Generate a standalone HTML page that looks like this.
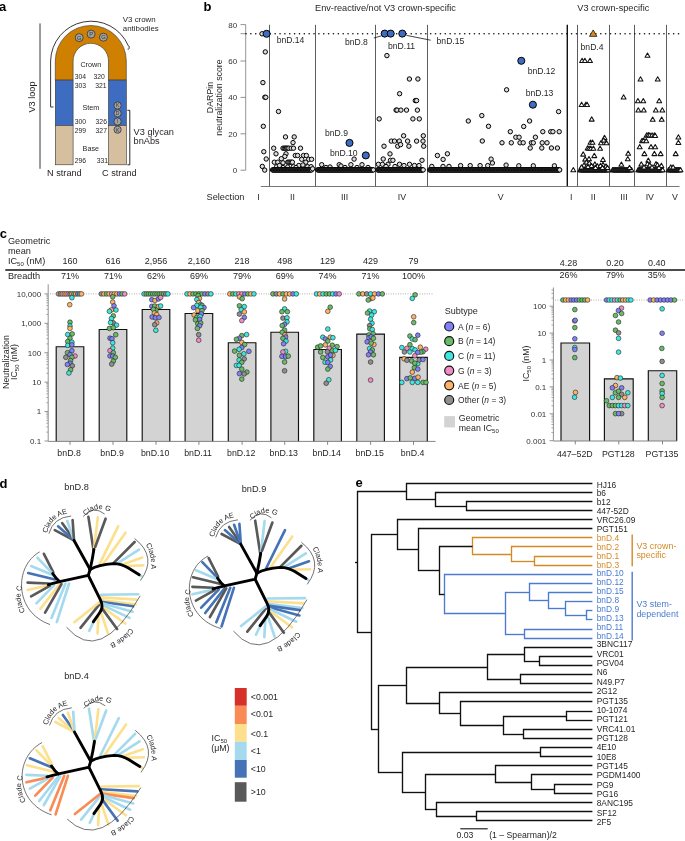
<!DOCTYPE html>
<html><head><meta charset="utf-8"><style>
html,body{margin:0;padding:0;background:#fff;}
body{width:685px;height:841px;overflow:hidden;}
svg{display:block;will-change:transform;font-family:"Liberation Sans", sans-serif;}
</style></head><body>
<svg width="685" height="841" viewBox="0 0 685 841">
<rect width="685" height="841" fill="#fff"/>
<text x="-0.90" y="10.60" font-size="13" text-anchor="start" font-weight="bold" fill="#000" >a</text>
<path d="M55.3,80.1 L55.3,61.0 A35.5,35.5 0 0 1 126.3,61.0 L126.3,80.1 L108.5,80.1 L108.5,61.0 A17.7,17.7 0 0 0 73.1,61.0 L73.1,80.1 Z" fill="#d08000" stroke="#333" stroke-width="0.6"/>
<rect x="55.3" y="80.1" width="17.8" height="45.30000000000001" fill="#3d6cc0" stroke="#333" stroke-width="0.6"/>
<rect x="108.5" y="80.1" width="17.8" height="45.30000000000001" fill="#3d6cc0" stroke="#333" stroke-width="0.6"/>
<rect x="55.3" y="125.4" width="17.8" height="39.400000000000006" fill="#d5bf9f" stroke="#333" stroke-width="0.6"/>
<rect x="108.5" y="125.4" width="17.8" height="39.400000000000006" fill="#d5bf9f" stroke="#333" stroke-width="0.6"/>
<circle cx="79.20" cy="37.60" r="4.0" fill="#a3a3a3" stroke="#333" stroke-width="0.8"/>
<text x="79.20" y="39.70" font-size="5.8" text-anchor="middle" font-weight="normal" fill="#333" >G</text>
<circle cx="91.10" cy="34.10" r="4.0" fill="#a3a3a3" stroke="#333" stroke-width="0.8"/>
<text x="91.10" y="36.20" font-size="5.8" text-anchor="middle" font-weight="normal" fill="#333" >P</text>
<circle cx="103.40" cy="37.20" r="4.0" fill="#a3a3a3" stroke="#333" stroke-width="0.8"/>
<text x="103.40" y="39.30" font-size="5.8" text-anchor="middle" font-weight="normal" fill="#333" >G</text>
<circle cx="117.60" cy="105.50" r="3.6" fill="#a3a3a3" stroke="#333" stroke-width="0.8"/>
<text x="117.60" y="107.30" font-size="5" text-anchor="middle" font-weight="normal" fill="#333" >K</text>
<circle cx="117.60" cy="113.30" r="3.6" fill="#a3a3a3" stroke="#333" stroke-width="0.8"/>
<text x="117.60" y="115.10" font-size="5" text-anchor="middle" font-weight="normal" fill="#333" >D</text>
<circle cx="117.60" cy="121.50" r="3.6" fill="#a3a3a3" stroke="#333" stroke-width="0.8"/>
<text x="117.60" y="123.30" font-size="5" text-anchor="middle" font-weight="normal" fill="#333" >I</text>
<circle cx="117.60" cy="129.70" r="3.6" fill="#a3a3a3" stroke="#333" stroke-width="0.8"/>
<text x="117.60" y="131.50" font-size="5" text-anchor="middle" font-weight="normal" fill="#333" >K</text>
<path d="M53.5,107 L50.6,107 L50.6,61.0 A40.5,40.5 0 0 1 128.35,45.83 Q129.6,45.5 129.2,48.3 Q128.9,49.6 127.6,49.2" fill="none" stroke="#231f20" stroke-width="0.9"/>
<line x1="40.00" y1="23.40" x2="40.00" y2="168.80" stroke="#222" stroke-width="0.9" />
<text transform="translate(34.7,97) rotate(-90)" font-size="9.2" text-anchor="middle" fill="#231f20">V3 loop</text>
<path d="M127.4,110.3 L129.8,110.3 L129.8,164.8 L127.4,164.8" fill="none" stroke="#111" stroke-width="0.9"/>
<text x="122.80" y="22.00" font-size="7.9" text-anchor="start" font-weight="normal" fill="#231f20" >V3 crown</text>
<text x="122.80" y="30.70" font-size="7.9" text-anchor="start" font-weight="normal" fill="#231f20" >antibodies</text>
<text x="90.80" y="66.60" font-size="7.2" text-anchor="middle" font-weight="normal" fill="#231f20" >Crown</text>
<text x="74.70" y="79.00" font-size="6.8" text-anchor="start" font-weight="normal" fill="#231f20" >304</text>
<text x="93.50" y="79.00" font-size="6.8" text-anchor="start" font-weight="normal" fill="#231f20" >320</text>
<text x="74.70" y="88.00" font-size="6.8" text-anchor="start" font-weight="normal" fill="#231f20" >303</text>
<text x="95.20" y="88.00" font-size="6.8" text-anchor="start" font-weight="normal" fill="#231f20" >321</text>
<text x="74.70" y="124.00" font-size="6.8" text-anchor="start" font-weight="normal" fill="#231f20" >300</text>
<text x="95.60" y="124.00" font-size="6.8" text-anchor="start" font-weight="normal" fill="#231f20" >326</text>
<text x="74.70" y="132.70" font-size="6.8" text-anchor="start" font-weight="normal" fill="#231f20" >299</text>
<text x="95.60" y="132.70" font-size="6.8" text-anchor="start" font-weight="normal" fill="#231f20" >327</text>
<text x="74.70" y="162.80" font-size="6.8" text-anchor="start" font-weight="normal" fill="#231f20" >296</text>
<text x="96.80" y="162.80" font-size="6.8" text-anchor="start" font-weight="normal" fill="#231f20" >331</text>
<text x="90.80" y="110.00" font-size="7.2" text-anchor="middle" font-weight="normal" fill="#231f20" >Stem</text>
<text x="90.80" y="150.50" font-size="7.2" text-anchor="middle" font-weight="normal" fill="#231f20" >Base</text>
<text x="133.60" y="134.80" font-size="9.2" text-anchor="start" font-weight="normal" fill="#231f20" >V3 glycan</text>
<text x="133.60" y="144.40" font-size="9.2" text-anchor="start" font-weight="normal" fill="#231f20" >bnAbs</text>
<text x="47.00" y="176.30" font-size="9.2" text-anchor="start" font-weight="normal" fill="#231f20" >N strand</text>
<text x="102.00" y="176.30" font-size="9.2" text-anchor="start" font-weight="normal" fill="#231f20" >C strand</text>
<text x="203.60" y="10.60" font-size="13" text-anchor="start" font-weight="bold" fill="#000" >b</text>
<line x1="245.70" y1="24.60" x2="245.70" y2="170.20" stroke="#777" stroke-width="0.8" />
<line x1="240.50" y1="170.20" x2="245.70" y2="170.20" stroke="#777" stroke-width="0.8" />
<text x="237.20" y="173.10" font-size="8" text-anchor="end" font-weight="normal" fill="#333" >0</text>
<line x1="240.50" y1="133.80" x2="245.70" y2="133.80" stroke="#777" stroke-width="0.8" />
<text x="237.20" y="136.70" font-size="8" text-anchor="end" font-weight="normal" fill="#333" >20</text>
<line x1="240.50" y1="97.40" x2="245.70" y2="97.40" stroke="#777" stroke-width="0.8" />
<text x="237.20" y="100.30" font-size="8" text-anchor="end" font-weight="normal" fill="#333" >40</text>
<line x1="240.50" y1="61.00" x2="245.70" y2="61.00" stroke="#777" stroke-width="0.8" />
<text x="237.20" y="63.90" font-size="8" text-anchor="end" font-weight="normal" fill="#333" >60</text>
<line x1="240.50" y1="24.60" x2="245.70" y2="24.60" stroke="#777" stroke-width="0.8" />
<text x="237.20" y="27.50" font-size="8" text-anchor="end" font-weight="normal" fill="#333" >80</text>
<text transform="translate(212.6,97.5) rotate(-90)" font-size="8.8" text-anchor="middle" fill="#231f20">DARPin</text>
<text transform="translate(221.7,97.5) rotate(-90)" font-size="8.8" text-anchor="middle" fill="#231f20">neutralization score</text>
<line x1="269.50" y1="24.80" x2="269.50" y2="186.60" stroke="#333" stroke-width="0.8" />
<line x1="315.50" y1="24.80" x2="315.50" y2="186.60" stroke="#333" stroke-width="0.8" />
<line x1="375.50" y1="24.80" x2="375.50" y2="186.60" stroke="#333" stroke-width="0.8" />
<line x1="427.50" y1="24.80" x2="427.50" y2="186.60" stroke="#333" stroke-width="0.8" />
<line x1="577.50" y1="24.80" x2="577.50" y2="186.60" stroke="#333" stroke-width="0.8" />
<line x1="609.50" y1="24.80" x2="609.50" y2="186.60" stroke="#333" stroke-width="0.8" />
<line x1="634.50" y1="24.80" x2="634.50" y2="186.60" stroke="#333" stroke-width="0.8" />
<line x1="666.50" y1="24.80" x2="666.50" y2="186.60" stroke="#333" stroke-width="0.8" />
<line x1="567.30" y1="24.80" x2="567.30" y2="186.60" stroke="#111" stroke-width="1.4" />
<line x1="260.80" y1="186.50" x2="679.50" y2="186.50" stroke="#666" stroke-width="0.9" />
<line x1="240.50" y1="33.70" x2="245.70" y2="33.70" stroke="#777" stroke-width="0.8" />
<path d="M246.00,33.70h0.01 M250.86,33.70h0.01 M255.72,33.70h0.01 M260.58,33.70h0.01 M265.44,33.70h0.01 M270.30,33.70h0.01 M275.16,33.70h0.01 M280.02,33.70h0.01 M284.88,33.70h0.01 M289.74,33.70h0.01 M294.60,33.70h0.01 M299.46,33.70h0.01 M304.32,33.70h0.01 M309.18,33.70h0.01 M314.04,33.70h0.01 M318.90,33.70h0.01 M323.76,33.70h0.01 M328.62,33.70h0.01 M333.48,33.70h0.01 M338.34,33.70h0.01 M343.20,33.70h0.01 M348.06,33.70h0.01 M352.92,33.70h0.01 M357.78,33.70h0.01 M362.64,33.70h0.01 M367.50,33.70h0.01 M372.36,33.70h0.01 M377.22,33.70h0.01 M382.08,33.70h0.01 M386.94,33.70h0.01 M391.80,33.70h0.01 M396.66,33.70h0.01 M401.52,33.70h0.01 M406.38,33.70h0.01 M411.24,33.70h0.01 M416.10,33.70h0.01 M420.96,33.70h0.01 M425.82,33.70h0.01 M430.68,33.70h0.01 M435.54,33.70h0.01 M440.40,33.70h0.01 M445.26,33.70h0.01 M450.12,33.70h0.01 M454.98,33.70h0.01 M459.84,33.70h0.01 M464.70,33.70h0.01 M469.56,33.70h0.01 M474.42,33.70h0.01 M479.28,33.70h0.01 M484.14,33.70h0.01 M489.00,33.70h0.01 M493.86,33.70h0.01 M498.72,33.70h0.01 M503.58,33.70h0.01 M508.44,33.70h0.01 M513.30,33.70h0.01 M518.16,33.70h0.01 M523.02,33.70h0.01 M527.88,33.70h0.01 M532.74,33.70h0.01 M537.60,33.70h0.01 M542.46,33.70h0.01 M547.32,33.70h0.01 M552.18,33.70h0.01 M557.04,33.70h0.01 M561.90,33.70h0.01 M566.76,33.70h0.01 M571.62,33.70h0.01 M576.48,33.70h0.01 M581.34,33.70h0.01 M586.20,33.70h0.01 M591.06,33.70h0.01 M595.92,33.70h0.01 M600.78,33.70h0.01 M605.64,33.70h0.01 M610.50,33.70h0.01 M615.36,33.70h0.01 M620.22,33.70h0.01 M625.08,33.70h0.01 M629.94,33.70h0.01 M634.80,33.70h0.01 M639.66,33.70h0.01 M644.52,33.70h0.01 M649.38,33.70h0.01 M654.24,33.70h0.01 M659.10,33.70h0.01 M663.96,33.70h0.01 M668.82,33.70h0.01 M673.68,33.70h0.01 M678.54,33.70h0.01" stroke="#111" stroke-width="1.65" stroke-linecap="round" fill="none"/>
<text x="315.00" y="11.20" font-size="9.2" text-anchor="start" font-weight="normal" fill="#231f20" >Env-reactive/not V3 crown-specific</text>
<text x="577.30" y="11.20" font-size="9.2" text-anchor="start" font-weight="normal" fill="#231f20" >V3 crown-specific</text>
<text x="206.60" y="199.80" font-size="9.2" text-anchor="start" font-weight="normal" fill="#231f20" >Selection</text>
<text x="258.60" y="199.80" font-size="8.8" text-anchor="middle" font-weight="normal" fill="#231f20" >I</text>
<text x="292.50" y="199.80" font-size="8.8" text-anchor="middle" font-weight="normal" fill="#231f20" >II</text>
<text x="344.60" y="199.80" font-size="8.8" text-anchor="middle" font-weight="normal" fill="#231f20" >III</text>
<text x="401.90" y="199.80" font-size="8.8" text-anchor="middle" font-weight="normal" fill="#231f20" >IV</text>
<text x="500.70" y="199.80" font-size="8.8" text-anchor="middle" font-weight="normal" fill="#231f20" >V</text>
<text x="571.20" y="199.80" font-size="8.8" text-anchor="middle" font-weight="normal" fill="#231f20" >I</text>
<text x="593.20" y="199.80" font-size="8.8" text-anchor="middle" font-weight="normal" fill="#231f20" >II</text>
<text x="624.00" y="199.80" font-size="8.8" text-anchor="middle" font-weight="normal" fill="#231f20" >III</text>
<text x="649.80" y="199.80" font-size="8.8" text-anchor="middle" font-weight="normal" fill="#231f20" >IV</text>
<text x="675.00" y="199.80" font-size="8.8" text-anchor="middle" font-weight="normal" fill="#231f20" >V</text>
<circle cx="262.00" cy="33.80" r="2.2" fill="#dcdcdc" stroke="#000" stroke-width="1.0"/>
<circle cx="265.30" cy="51.90" r="2.2" fill="#dcdcdc" stroke="#000" stroke-width="1.0"/>
<circle cx="262.90" cy="82.60" r="2.2" fill="#dcdcdc" stroke="#000" stroke-width="1.0"/>
<circle cx="264.80" cy="97.30" r="2.2" fill="#dcdcdc" stroke="#000" stroke-width="1.0"/>
<circle cx="265.80" cy="97.30" r="2.2" fill="#dcdcdc" stroke="#000" stroke-width="1.0"/>
<circle cx="263.30" cy="126.30" r="2.2" fill="#dcdcdc" stroke="#000" stroke-width="1.0"/>
<circle cx="263.80" cy="151.70" r="2.2" fill="#dcdcdc" stroke="#000" stroke-width="1.0"/>
<circle cx="266.20" cy="159.00" r="2.2" fill="#dcdcdc" stroke="#000" stroke-width="1.0"/>
<circle cx="262.30" cy="166.40" r="2.2" fill="#dcdcdc" stroke="#000" stroke-width="1.0"/>
<circle cx="264.70" cy="170.10" r="2.2" fill="#dcdcdc" stroke="#000" stroke-width="1.0"/>
<circle cx="278.50" cy="111.50" r="2.2" fill="#dcdcdc" stroke="#000" stroke-width="1.0"/>
<circle cx="285.50" cy="136.90" r="2.2" fill="#dcdcdc" stroke="#000" stroke-width="1.0"/>
<circle cx="294.20" cy="136.90" r="2.2" fill="#dcdcdc" stroke="#000" stroke-width="1.0"/>
<circle cx="293.00" cy="142.60" r="2.2" fill="#dcdcdc" stroke="#000" stroke-width="1.0"/>
<circle cx="273.70" cy="148.20" r="2.2" fill="#dcdcdc" stroke="#000" stroke-width="1.0"/>
<circle cx="283.00" cy="148.20" r="2.2" fill="#dcdcdc" stroke="#000" stroke-width="1.0"/>
<circle cx="284.20" cy="148.20" r="2.2" fill="#dcdcdc" stroke="#000" stroke-width="1.0"/>
<circle cx="285.40" cy="148.20" r="2.2" fill="#dcdcdc" stroke="#000" stroke-width="1.0"/>
<circle cx="286.60" cy="148.20" r="2.2" fill="#dcdcdc" stroke="#000" stroke-width="1.0"/>
<circle cx="287.80" cy="148.20" r="2.2" fill="#dcdcdc" stroke="#000" stroke-width="1.0"/>
<circle cx="288.90" cy="148.20" r="2.2" fill="#dcdcdc" stroke="#000" stroke-width="1.0"/>
<circle cx="291.20" cy="148.20" r="2.2" fill="#dcdcdc" stroke="#000" stroke-width="1.0"/>
<circle cx="293.50" cy="148.20" r="2.2" fill="#dcdcdc" stroke="#000" stroke-width="1.0"/>
<circle cx="300.50" cy="148.20" r="2.2" fill="#dcdcdc" stroke="#000" stroke-width="1.0"/>
<circle cx="276.00" cy="153.80" r="2.2" fill="#dcdcdc" stroke="#000" stroke-width="1.0"/>
<circle cx="286.00" cy="153.80" r="2.2" fill="#dcdcdc" stroke="#000" stroke-width="1.0"/>
<circle cx="284.80" cy="156.40" r="2.2" fill="#dcdcdc" stroke="#000" stroke-width="1.0"/>
<circle cx="295.30" cy="155.50" r="2.2" fill="#dcdcdc" stroke="#000" stroke-width="1.0"/>
<circle cx="297.60" cy="155.50" r="2.2" fill="#dcdcdc" stroke="#000" stroke-width="1.0"/>
<circle cx="303.50" cy="155.50" r="2.2" fill="#dcdcdc" stroke="#000" stroke-width="1.0"/>
<circle cx="306.40" cy="155.50" r="2.2" fill="#dcdcdc" stroke="#000" stroke-width="1.0"/>
<circle cx="281.30" cy="158.70" r="2.2" fill="#dcdcdc" stroke="#000" stroke-width="1.0"/>
<circle cx="301.70" cy="159.30" r="2.2" fill="#dcdcdc" stroke="#000" stroke-width="1.0"/>
<circle cx="308.70" cy="159.30" r="2.2" fill="#dcdcdc" stroke="#000" stroke-width="1.0"/>
<circle cx="311.60" cy="159.30" r="2.2" fill="#dcdcdc" stroke="#000" stroke-width="1.0"/>
<circle cx="274.30" cy="162.20" r="2.2" fill="#dcdcdc" stroke="#000" stroke-width="1.0"/>
<circle cx="277.80" cy="162.20" r="2.2" fill="#dcdcdc" stroke="#000" stroke-width="1.0"/>
<circle cx="283.00" cy="162.80" r="2.2" fill="#dcdcdc" stroke="#000" stroke-width="1.0"/>
<circle cx="287.70" cy="162.20" r="2.2" fill="#dcdcdc" stroke="#000" stroke-width="1.0"/>
<circle cx="288.90" cy="162.20" r="2.2" fill="#dcdcdc" stroke="#000" stroke-width="1.0"/>
<circle cx="290.10" cy="162.20" r="2.2" fill="#dcdcdc" stroke="#000" stroke-width="1.0"/>
<circle cx="291.30" cy="162.20" r="2.2" fill="#dcdcdc" stroke="#000" stroke-width="1.0"/>
<circle cx="292.40" cy="162.20" r="2.2" fill="#dcdcdc" stroke="#000" stroke-width="1.0"/>
<circle cx="305.80" cy="162.20" r="2.2" fill="#dcdcdc" stroke="#000" stroke-width="1.0"/>
<circle cx="276.60" cy="166.70" r="2.2" fill="#dcdcdc" stroke="#000" stroke-width="1.0"/>
<circle cx="283.00" cy="167.50" r="2.2" fill="#dcdcdc" stroke="#000" stroke-width="1.0"/>
<circle cx="287.70" cy="167.00" r="2.2" fill="#dcdcdc" stroke="#000" stroke-width="1.0"/>
<circle cx="293.50" cy="166.70" r="2.2" fill="#dcdcdc" stroke="#000" stroke-width="1.0"/>
<circle cx="298.80" cy="165.50" r="2.2" fill="#dcdcdc" stroke="#000" stroke-width="1.0"/>
<circle cx="302.90" cy="165.00" r="2.2" fill="#dcdcdc" stroke="#000" stroke-width="1.0"/>
<circle cx="307.60" cy="166.70" r="2.2" fill="#dcdcdc" stroke="#000" stroke-width="1.0"/>
<circle cx="311.10" cy="166.70" r="2.2" fill="#dcdcdc" stroke="#000" stroke-width="1.0"/>
<circle cx="279.50" cy="165.50" r="2.2" fill="#dcdcdc" stroke="#000" stroke-width="1.0"/>
<circle cx="296.00" cy="167.50" r="2.2" fill="#dcdcdc" stroke="#000" stroke-width="1.0"/>
<circle cx="272.50" cy="169.90" r="2.2" fill="#dcdcdc" stroke="#000" stroke-width="1.0"/>
<circle cx="273.10" cy="169.90" r="2.2" fill="#dcdcdc" stroke="#000" stroke-width="1.0"/>
<circle cx="273.70" cy="169.90" r="2.2" fill="#dcdcdc" stroke="#000" stroke-width="1.0"/>
<circle cx="274.30" cy="169.90" r="2.2" fill="#dcdcdc" stroke="#000" stroke-width="1.0"/>
<circle cx="274.90" cy="169.90" r="2.2" fill="#dcdcdc" stroke="#000" stroke-width="1.0"/>
<circle cx="275.50" cy="169.90" r="2.2" fill="#dcdcdc" stroke="#000" stroke-width="1.0"/>
<circle cx="276.10" cy="169.90" r="2.2" fill="#dcdcdc" stroke="#000" stroke-width="1.0"/>
<circle cx="276.70" cy="169.90" r="2.2" fill="#dcdcdc" stroke="#000" stroke-width="1.0"/>
<circle cx="277.30" cy="169.90" r="2.2" fill="#dcdcdc" stroke="#000" stroke-width="1.0"/>
<circle cx="277.90" cy="169.90" r="2.2" fill="#dcdcdc" stroke="#000" stroke-width="1.0"/>
<circle cx="278.50" cy="169.90" r="2.2" fill="#dcdcdc" stroke="#000" stroke-width="1.0"/>
<circle cx="279.10" cy="169.90" r="2.2" fill="#dcdcdc" stroke="#000" stroke-width="1.0"/>
<circle cx="279.70" cy="169.90" r="2.2" fill="#dcdcdc" stroke="#000" stroke-width="1.0"/>
<circle cx="280.30" cy="169.90" r="2.2" fill="#dcdcdc" stroke="#000" stroke-width="1.0"/>
<circle cx="280.90" cy="169.90" r="2.2" fill="#dcdcdc" stroke="#000" stroke-width="1.0"/>
<circle cx="281.50" cy="169.90" r="2.2" fill="#dcdcdc" stroke="#000" stroke-width="1.0"/>
<circle cx="282.10" cy="169.90" r="2.2" fill="#dcdcdc" stroke="#000" stroke-width="1.0"/>
<circle cx="282.70" cy="169.90" r="2.2" fill="#dcdcdc" stroke="#000" stroke-width="1.0"/>
<circle cx="283.30" cy="169.90" r="2.2" fill="#dcdcdc" stroke="#000" stroke-width="1.0"/>
<circle cx="283.90" cy="169.90" r="2.2" fill="#dcdcdc" stroke="#000" stroke-width="1.0"/>
<circle cx="284.50" cy="169.90" r="2.2" fill="#dcdcdc" stroke="#000" stroke-width="1.0"/>
<circle cx="285.10" cy="169.90" r="2.2" fill="#dcdcdc" stroke="#000" stroke-width="1.0"/>
<circle cx="285.70" cy="169.90" r="2.2" fill="#dcdcdc" stroke="#000" stroke-width="1.0"/>
<circle cx="286.30" cy="169.90" r="2.2" fill="#dcdcdc" stroke="#000" stroke-width="1.0"/>
<circle cx="286.90" cy="169.90" r="2.2" fill="#dcdcdc" stroke="#000" stroke-width="1.0"/>
<circle cx="287.50" cy="169.90" r="2.2" fill="#dcdcdc" stroke="#000" stroke-width="1.0"/>
<circle cx="288.10" cy="169.90" r="2.2" fill="#dcdcdc" stroke="#000" stroke-width="1.0"/>
<circle cx="288.70" cy="169.90" r="2.2" fill="#dcdcdc" stroke="#000" stroke-width="1.0"/>
<circle cx="289.30" cy="169.90" r="2.2" fill="#dcdcdc" stroke="#000" stroke-width="1.0"/>
<circle cx="289.90" cy="169.90" r="2.2" fill="#dcdcdc" stroke="#000" stroke-width="1.0"/>
<circle cx="290.50" cy="169.90" r="2.2" fill="#dcdcdc" stroke="#000" stroke-width="1.0"/>
<circle cx="291.10" cy="169.90" r="2.2" fill="#dcdcdc" stroke="#000" stroke-width="1.0"/>
<circle cx="291.70" cy="169.90" r="2.2" fill="#dcdcdc" stroke="#000" stroke-width="1.0"/>
<circle cx="292.30" cy="169.90" r="2.2" fill="#dcdcdc" stroke="#000" stroke-width="1.0"/>
<circle cx="292.90" cy="169.90" r="2.2" fill="#dcdcdc" stroke="#000" stroke-width="1.0"/>
<circle cx="293.50" cy="169.90" r="2.2" fill="#dcdcdc" stroke="#000" stroke-width="1.0"/>
<circle cx="294.10" cy="169.90" r="2.2" fill="#dcdcdc" stroke="#000" stroke-width="1.0"/>
<circle cx="294.70" cy="169.90" r="2.2" fill="#dcdcdc" stroke="#000" stroke-width="1.0"/>
<circle cx="295.30" cy="169.90" r="2.2" fill="#dcdcdc" stroke="#000" stroke-width="1.0"/>
<circle cx="295.90" cy="169.90" r="2.2" fill="#dcdcdc" stroke="#000" stroke-width="1.0"/>
<circle cx="296.50" cy="169.90" r="2.2" fill="#dcdcdc" stroke="#000" stroke-width="1.0"/>
<circle cx="297.10" cy="169.90" r="2.2" fill="#dcdcdc" stroke="#000" stroke-width="1.0"/>
<circle cx="297.70" cy="169.90" r="2.2" fill="#dcdcdc" stroke="#000" stroke-width="1.0"/>
<circle cx="298.30" cy="169.90" r="2.2" fill="#dcdcdc" stroke="#000" stroke-width="1.0"/>
<circle cx="298.90" cy="169.90" r="2.2" fill="#dcdcdc" stroke="#000" stroke-width="1.0"/>
<circle cx="299.50" cy="169.90" r="2.2" fill="#dcdcdc" stroke="#000" stroke-width="1.0"/>
<circle cx="300.10" cy="169.90" r="2.2" fill="#dcdcdc" stroke="#000" stroke-width="1.0"/>
<circle cx="300.70" cy="169.90" r="2.2" fill="#dcdcdc" stroke="#000" stroke-width="1.0"/>
<circle cx="301.30" cy="169.90" r="2.2" fill="#dcdcdc" stroke="#000" stroke-width="1.0"/>
<circle cx="301.90" cy="169.90" r="2.2" fill="#dcdcdc" stroke="#000" stroke-width="1.0"/>
<circle cx="302.50" cy="169.90" r="2.2" fill="#dcdcdc" stroke="#000" stroke-width="1.0"/>
<circle cx="303.10" cy="169.90" r="2.2" fill="#dcdcdc" stroke="#000" stroke-width="1.0"/>
<circle cx="303.70" cy="169.90" r="2.2" fill="#dcdcdc" stroke="#000" stroke-width="1.0"/>
<circle cx="304.30" cy="169.90" r="2.2" fill="#dcdcdc" stroke="#000" stroke-width="1.0"/>
<circle cx="304.90" cy="169.90" r="2.2" fill="#dcdcdc" stroke="#000" stroke-width="1.0"/>
<circle cx="305.50" cy="169.90" r="2.2" fill="#dcdcdc" stroke="#000" stroke-width="1.0"/>
<circle cx="306.10" cy="169.90" r="2.2" fill="#dcdcdc" stroke="#000" stroke-width="1.0"/>
<circle cx="306.70" cy="169.90" r="2.2" fill="#dcdcdc" stroke="#000" stroke-width="1.0"/>
<circle cx="307.30" cy="169.90" r="2.2" fill="#dcdcdc" stroke="#000" stroke-width="1.0"/>
<circle cx="307.90" cy="169.90" r="2.2" fill="#dcdcdc" stroke="#000" stroke-width="1.0"/>
<circle cx="308.50" cy="169.90" r="2.2" fill="#dcdcdc" stroke="#000" stroke-width="1.0"/>
<circle cx="309.10" cy="169.90" r="2.2" fill="#dcdcdc" stroke="#000" stroke-width="1.0"/>
<circle cx="309.70" cy="169.90" r="2.2" fill="#dcdcdc" stroke="#000" stroke-width="1.0"/>
<circle cx="310.30" cy="169.90" r="2.2" fill="#dcdcdc" stroke="#000" stroke-width="1.0"/>
<circle cx="310.90" cy="169.90" r="2.2" fill="#dcdcdc" stroke="#000" stroke-width="1.0"/>
<circle cx="311.50" cy="169.90" r="2.2" fill="#dcdcdc" stroke="#000" stroke-width="1.0"/>
<circle cx="312.60" cy="168.80" r="2.2" fill="#dcdcdc" stroke="#000" stroke-width="1.0"/>
<circle cx="354.10" cy="159.10" r="2.2" fill="#dcdcdc" stroke="#000" stroke-width="1.0"/>
<circle cx="321.70" cy="164.70" r="2.2" fill="#dcdcdc" stroke="#000" stroke-width="1.0"/>
<circle cx="339.20" cy="164.70" r="2.2" fill="#dcdcdc" stroke="#000" stroke-width="1.0"/>
<circle cx="341.00" cy="166.00" r="2.2" fill="#dcdcdc" stroke="#000" stroke-width="1.0"/>
<circle cx="350.90" cy="164.70" r="2.2" fill="#dcdcdc" stroke="#000" stroke-width="1.0"/>
<circle cx="362.00" cy="164.70" r="2.2" fill="#dcdcdc" stroke="#000" stroke-width="1.0"/>
<circle cx="330.00" cy="167.00" r="2.2" fill="#dcdcdc" stroke="#000" stroke-width="1.0"/>
<circle cx="345.00" cy="167.50" r="2.2" fill="#dcdcdc" stroke="#000" stroke-width="1.0"/>
<circle cx="357.00" cy="167.50" r="2.2" fill="#dcdcdc" stroke="#000" stroke-width="1.0"/>
<circle cx="368.00" cy="167.50" r="2.2" fill="#dcdcdc" stroke="#000" stroke-width="1.0"/>
<circle cx="326.00" cy="167.50" r="2.2" fill="#dcdcdc" stroke="#000" stroke-width="1.0"/>
<circle cx="317.60" cy="169.90" r="2.2" fill="#dcdcdc" stroke="#000" stroke-width="1.0"/>
<circle cx="318.20" cy="169.90" r="2.2" fill="#dcdcdc" stroke="#000" stroke-width="1.0"/>
<circle cx="318.80" cy="169.90" r="2.2" fill="#dcdcdc" stroke="#000" stroke-width="1.0"/>
<circle cx="319.40" cy="169.90" r="2.2" fill="#dcdcdc" stroke="#000" stroke-width="1.0"/>
<circle cx="320.00" cy="169.90" r="2.2" fill="#dcdcdc" stroke="#000" stroke-width="1.0"/>
<circle cx="320.60" cy="169.90" r="2.2" fill="#dcdcdc" stroke="#000" stroke-width="1.0"/>
<circle cx="321.20" cy="169.90" r="2.2" fill="#dcdcdc" stroke="#000" stroke-width="1.0"/>
<circle cx="321.80" cy="169.90" r="2.2" fill="#dcdcdc" stroke="#000" stroke-width="1.0"/>
<circle cx="322.40" cy="169.90" r="2.2" fill="#dcdcdc" stroke="#000" stroke-width="1.0"/>
<circle cx="323.00" cy="169.90" r="2.2" fill="#dcdcdc" stroke="#000" stroke-width="1.0"/>
<circle cx="323.60" cy="169.90" r="2.2" fill="#dcdcdc" stroke="#000" stroke-width="1.0"/>
<circle cx="324.20" cy="169.90" r="2.2" fill="#dcdcdc" stroke="#000" stroke-width="1.0"/>
<circle cx="324.80" cy="169.90" r="2.2" fill="#dcdcdc" stroke="#000" stroke-width="1.0"/>
<circle cx="325.40" cy="169.90" r="2.2" fill="#dcdcdc" stroke="#000" stroke-width="1.0"/>
<circle cx="326.00" cy="169.90" r="2.2" fill="#dcdcdc" stroke="#000" stroke-width="1.0"/>
<circle cx="326.60" cy="169.90" r="2.2" fill="#dcdcdc" stroke="#000" stroke-width="1.0"/>
<circle cx="327.20" cy="169.90" r="2.2" fill="#dcdcdc" stroke="#000" stroke-width="1.0"/>
<circle cx="327.80" cy="169.90" r="2.2" fill="#dcdcdc" stroke="#000" stroke-width="1.0"/>
<circle cx="328.40" cy="169.90" r="2.2" fill="#dcdcdc" stroke="#000" stroke-width="1.0"/>
<circle cx="329.00" cy="169.90" r="2.2" fill="#dcdcdc" stroke="#000" stroke-width="1.0"/>
<circle cx="329.60" cy="169.90" r="2.2" fill="#dcdcdc" stroke="#000" stroke-width="1.0"/>
<circle cx="330.20" cy="169.90" r="2.2" fill="#dcdcdc" stroke="#000" stroke-width="1.0"/>
<circle cx="330.80" cy="169.90" r="2.2" fill="#dcdcdc" stroke="#000" stroke-width="1.0"/>
<circle cx="331.40" cy="169.90" r="2.2" fill="#dcdcdc" stroke="#000" stroke-width="1.0"/>
<circle cx="332.00" cy="169.90" r="2.2" fill="#dcdcdc" stroke="#000" stroke-width="1.0"/>
<circle cx="332.60" cy="169.90" r="2.2" fill="#dcdcdc" stroke="#000" stroke-width="1.0"/>
<circle cx="333.20" cy="169.90" r="2.2" fill="#dcdcdc" stroke="#000" stroke-width="1.0"/>
<circle cx="333.80" cy="169.90" r="2.2" fill="#dcdcdc" stroke="#000" stroke-width="1.0"/>
<circle cx="334.40" cy="169.90" r="2.2" fill="#dcdcdc" stroke="#000" stroke-width="1.0"/>
<circle cx="335.00" cy="169.90" r="2.2" fill="#dcdcdc" stroke="#000" stroke-width="1.0"/>
<circle cx="335.60" cy="169.90" r="2.2" fill="#dcdcdc" stroke="#000" stroke-width="1.0"/>
<circle cx="336.20" cy="169.90" r="2.2" fill="#dcdcdc" stroke="#000" stroke-width="1.0"/>
<circle cx="336.80" cy="169.90" r="2.2" fill="#dcdcdc" stroke="#000" stroke-width="1.0"/>
<circle cx="337.40" cy="169.90" r="2.2" fill="#dcdcdc" stroke="#000" stroke-width="1.0"/>
<circle cx="338.00" cy="169.90" r="2.2" fill="#dcdcdc" stroke="#000" stroke-width="1.0"/>
<circle cx="338.60" cy="169.90" r="2.2" fill="#dcdcdc" stroke="#000" stroke-width="1.0"/>
<circle cx="339.20" cy="169.90" r="2.2" fill="#dcdcdc" stroke="#000" stroke-width="1.0"/>
<circle cx="339.80" cy="169.90" r="2.2" fill="#dcdcdc" stroke="#000" stroke-width="1.0"/>
<circle cx="340.40" cy="169.90" r="2.2" fill="#dcdcdc" stroke="#000" stroke-width="1.0"/>
<circle cx="341.00" cy="169.90" r="2.2" fill="#dcdcdc" stroke="#000" stroke-width="1.0"/>
<circle cx="341.60" cy="169.90" r="2.2" fill="#dcdcdc" stroke="#000" stroke-width="1.0"/>
<circle cx="342.20" cy="169.90" r="2.2" fill="#dcdcdc" stroke="#000" stroke-width="1.0"/>
<circle cx="342.80" cy="169.90" r="2.2" fill="#dcdcdc" stroke="#000" stroke-width="1.0"/>
<circle cx="343.40" cy="169.90" r="2.2" fill="#dcdcdc" stroke="#000" stroke-width="1.0"/>
<circle cx="344.00" cy="169.90" r="2.2" fill="#dcdcdc" stroke="#000" stroke-width="1.0"/>
<circle cx="344.60" cy="169.90" r="2.2" fill="#dcdcdc" stroke="#000" stroke-width="1.0"/>
<circle cx="345.20" cy="169.90" r="2.2" fill="#dcdcdc" stroke="#000" stroke-width="1.0"/>
<circle cx="345.80" cy="169.90" r="2.2" fill="#dcdcdc" stroke="#000" stroke-width="1.0"/>
<circle cx="346.40" cy="169.90" r="2.2" fill="#dcdcdc" stroke="#000" stroke-width="1.0"/>
<circle cx="347.00" cy="169.90" r="2.2" fill="#dcdcdc" stroke="#000" stroke-width="1.0"/>
<circle cx="347.60" cy="169.90" r="2.2" fill="#dcdcdc" stroke="#000" stroke-width="1.0"/>
<circle cx="348.20" cy="169.90" r="2.2" fill="#dcdcdc" stroke="#000" stroke-width="1.0"/>
<circle cx="348.80" cy="169.90" r="2.2" fill="#dcdcdc" stroke="#000" stroke-width="1.0"/>
<circle cx="349.40" cy="169.90" r="2.2" fill="#dcdcdc" stroke="#000" stroke-width="1.0"/>
<circle cx="350.00" cy="169.90" r="2.2" fill="#dcdcdc" stroke="#000" stroke-width="1.0"/>
<circle cx="350.60" cy="169.90" r="2.2" fill="#dcdcdc" stroke="#000" stroke-width="1.0"/>
<circle cx="351.20" cy="169.90" r="2.2" fill="#dcdcdc" stroke="#000" stroke-width="1.0"/>
<circle cx="351.80" cy="169.90" r="2.2" fill="#dcdcdc" stroke="#000" stroke-width="1.0"/>
<circle cx="352.40" cy="169.90" r="2.2" fill="#dcdcdc" stroke="#000" stroke-width="1.0"/>
<circle cx="353.00" cy="169.90" r="2.2" fill="#dcdcdc" stroke="#000" stroke-width="1.0"/>
<circle cx="353.60" cy="169.90" r="2.2" fill="#dcdcdc" stroke="#000" stroke-width="1.0"/>
<circle cx="354.20" cy="169.90" r="2.2" fill="#dcdcdc" stroke="#000" stroke-width="1.0"/>
<circle cx="354.80" cy="169.90" r="2.2" fill="#dcdcdc" stroke="#000" stroke-width="1.0"/>
<circle cx="355.40" cy="169.90" r="2.2" fill="#dcdcdc" stroke="#000" stroke-width="1.0"/>
<circle cx="356.00" cy="169.90" r="2.2" fill="#dcdcdc" stroke="#000" stroke-width="1.0"/>
<circle cx="356.60" cy="169.90" r="2.2" fill="#dcdcdc" stroke="#000" stroke-width="1.0"/>
<circle cx="357.20" cy="169.90" r="2.2" fill="#dcdcdc" stroke="#000" stroke-width="1.0"/>
<circle cx="357.80" cy="169.90" r="2.2" fill="#dcdcdc" stroke="#000" stroke-width="1.0"/>
<circle cx="358.40" cy="169.90" r="2.2" fill="#dcdcdc" stroke="#000" stroke-width="1.0"/>
<circle cx="359.00" cy="169.90" r="2.2" fill="#dcdcdc" stroke="#000" stroke-width="1.0"/>
<circle cx="359.60" cy="169.90" r="2.2" fill="#dcdcdc" stroke="#000" stroke-width="1.0"/>
<circle cx="360.20" cy="169.90" r="2.2" fill="#dcdcdc" stroke="#000" stroke-width="1.0"/>
<circle cx="360.80" cy="169.90" r="2.2" fill="#dcdcdc" stroke="#000" stroke-width="1.0"/>
<circle cx="361.40" cy="169.90" r="2.2" fill="#dcdcdc" stroke="#000" stroke-width="1.0"/>
<circle cx="362.00" cy="169.90" r="2.2" fill="#dcdcdc" stroke="#000" stroke-width="1.0"/>
<circle cx="362.60" cy="169.90" r="2.2" fill="#dcdcdc" stroke="#000" stroke-width="1.0"/>
<circle cx="363.20" cy="169.90" r="2.2" fill="#dcdcdc" stroke="#000" stroke-width="1.0"/>
<circle cx="363.80" cy="169.90" r="2.2" fill="#dcdcdc" stroke="#000" stroke-width="1.0"/>
<circle cx="364.40" cy="169.90" r="2.2" fill="#dcdcdc" stroke="#000" stroke-width="1.0"/>
<circle cx="365.00" cy="169.90" r="2.2" fill="#dcdcdc" stroke="#000" stroke-width="1.0"/>
<circle cx="365.60" cy="169.90" r="2.2" fill="#dcdcdc" stroke="#000" stroke-width="1.0"/>
<circle cx="366.20" cy="169.90" r="2.2" fill="#dcdcdc" stroke="#000" stroke-width="1.0"/>
<circle cx="366.80" cy="169.90" r="2.2" fill="#dcdcdc" stroke="#000" stroke-width="1.0"/>
<circle cx="367.40" cy="169.90" r="2.2" fill="#dcdcdc" stroke="#000" stroke-width="1.0"/>
<circle cx="368.00" cy="169.90" r="2.2" fill="#dcdcdc" stroke="#000" stroke-width="1.0"/>
<circle cx="368.60" cy="169.90" r="2.2" fill="#dcdcdc" stroke="#000" stroke-width="1.0"/>
<circle cx="369.20" cy="169.90" r="2.2" fill="#dcdcdc" stroke="#000" stroke-width="1.0"/>
<circle cx="369.80" cy="169.90" r="2.2" fill="#dcdcdc" stroke="#000" stroke-width="1.0"/>
<circle cx="370.40" cy="169.90" r="2.2" fill="#dcdcdc" stroke="#000" stroke-width="1.0"/>
<circle cx="371.00" cy="169.90" r="2.2" fill="#dcdcdc" stroke="#000" stroke-width="1.0"/>
<circle cx="371.60" cy="169.90" r="2.2" fill="#dcdcdc" stroke="#000" stroke-width="1.0"/>
<circle cx="372.20" cy="169.90" r="2.2" fill="#dcdcdc" stroke="#000" stroke-width="1.0"/>
<circle cx="372.80" cy="169.90" r="2.2" fill="#dcdcdc" stroke="#000" stroke-width="1.0"/>
<circle cx="373.40" cy="169.90" r="2.2" fill="#dcdcdc" stroke="#000" stroke-width="1.0"/>
<circle cx="386.90" cy="55.60" r="2.2" fill="#dcdcdc" stroke="#000" stroke-width="1.0"/>
<circle cx="409.40" cy="79.00" r="2.2" fill="#dcdcdc" stroke="#000" stroke-width="1.0"/>
<circle cx="417.90" cy="79.00" r="2.2" fill="#dcdcdc" stroke="#000" stroke-width="1.0"/>
<circle cx="399.60" cy="93.70" r="2.2" fill="#dcdcdc" stroke="#000" stroke-width="1.0"/>
<circle cx="415.30" cy="100.60" r="2.2" fill="#dcdcdc" stroke="#000" stroke-width="1.0"/>
<circle cx="416.60" cy="100.60" r="2.2" fill="#dcdcdc" stroke="#000" stroke-width="1.0"/>
<circle cx="396.10" cy="110.10" r="2.2" fill="#dcdcdc" stroke="#000" stroke-width="1.0"/>
<circle cx="397.00" cy="110.10" r="2.2" fill="#dcdcdc" stroke="#000" stroke-width="1.0"/>
<circle cx="400.90" cy="110.10" r="2.2" fill="#dcdcdc" stroke="#000" stroke-width="1.0"/>
<circle cx="406.50" cy="110.10" r="2.2" fill="#dcdcdc" stroke="#000" stroke-width="1.0"/>
<circle cx="417.40" cy="110.10" r="2.2" fill="#dcdcdc" stroke="#000" stroke-width="1.0"/>
<circle cx="379.20" cy="118.90" r="2.2" fill="#dcdcdc" stroke="#000" stroke-width="1.0"/>
<circle cx="412.90" cy="118.90" r="2.2" fill="#dcdcdc" stroke="#000" stroke-width="1.0"/>
<circle cx="419.30" cy="118.90" r="2.2" fill="#dcdcdc" stroke="#000" stroke-width="1.0"/>
<circle cx="403.60" cy="135.80" r="2.2" fill="#dcdcdc" stroke="#000" stroke-width="1.0"/>
<circle cx="423.30" cy="135.80" r="2.2" fill="#dcdcdc" stroke="#000" stroke-width="1.0"/>
<circle cx="391.30" cy="141.10" r="2.2" fill="#dcdcdc" stroke="#000" stroke-width="1.0"/>
<circle cx="394.50" cy="141.10" r="2.2" fill="#dcdcdc" stroke="#000" stroke-width="1.0"/>
<circle cx="399.30" cy="141.10" r="2.2" fill="#dcdcdc" stroke="#000" stroke-width="1.0"/>
<circle cx="407.60" cy="141.10" r="2.2" fill="#dcdcdc" stroke="#000" stroke-width="1.0"/>
<circle cx="416.60" cy="141.10" r="2.2" fill="#dcdcdc" stroke="#000" stroke-width="1.0"/>
<circle cx="423.00" cy="141.10" r="2.2" fill="#dcdcdc" stroke="#000" stroke-width="1.0"/>
<circle cx="384.00" cy="146.20" r="2.2" fill="#dcdcdc" stroke="#000" stroke-width="1.0"/>
<circle cx="397.70" cy="146.20" r="2.2" fill="#dcdcdc" stroke="#000" stroke-width="1.0"/>
<circle cx="400.60" cy="144.60" r="2.2" fill="#dcdcdc" stroke="#000" stroke-width="1.0"/>
<circle cx="408.90" cy="146.20" r="2.2" fill="#dcdcdc" stroke="#000" stroke-width="1.0"/>
<circle cx="423.70" cy="146.20" r="2.2" fill="#dcdcdc" stroke="#000" stroke-width="1.0"/>
<circle cx="390.00" cy="153.90" r="2.2" fill="#dcdcdc" stroke="#000" stroke-width="1.0"/>
<circle cx="383.20" cy="159.00" r="2.2" fill="#dcdcdc" stroke="#000" stroke-width="1.0"/>
<circle cx="390.50" cy="160.30" r="2.2" fill="#dcdcdc" stroke="#000" stroke-width="1.0"/>
<circle cx="392.90" cy="160.30" r="2.2" fill="#dcdcdc" stroke="#000" stroke-width="1.0"/>
<circle cx="422.00" cy="160.30" r="2.2" fill="#dcdcdc" stroke="#000" stroke-width="1.0"/>
<circle cx="378.40" cy="164.30" r="2.2" fill="#dcdcdc" stroke="#000" stroke-width="1.0"/>
<circle cx="382.40" cy="164.30" r="2.2" fill="#dcdcdc" stroke="#000" stroke-width="1.0"/>
<circle cx="388.00" cy="164.30" r="2.2" fill="#dcdcdc" stroke="#000" stroke-width="1.0"/>
<circle cx="399.50" cy="164.30" r="2.2" fill="#dcdcdc" stroke="#000" stroke-width="1.0"/>
<circle cx="404.00" cy="165.50" r="2.2" fill="#dcdcdc" stroke="#000" stroke-width="1.0"/>
<circle cx="409.50" cy="164.30" r="2.2" fill="#dcdcdc" stroke="#000" stroke-width="1.0"/>
<circle cx="414.50" cy="165.50" r="2.2" fill="#dcdcdc" stroke="#000" stroke-width="1.0"/>
<circle cx="419.00" cy="165.50" r="2.2" fill="#dcdcdc" stroke="#000" stroke-width="1.0"/>
<circle cx="386.00" cy="166.50" r="2.2" fill="#dcdcdc" stroke="#000" stroke-width="1.0"/>
<circle cx="395.00" cy="166.50" r="2.2" fill="#dcdcdc" stroke="#000" stroke-width="1.0"/>
<circle cx="377.60" cy="169.90" r="2.2" fill="#dcdcdc" stroke="#000" stroke-width="1.0"/>
<circle cx="378.20" cy="169.90" r="2.2" fill="#dcdcdc" stroke="#000" stroke-width="1.0"/>
<circle cx="378.80" cy="169.90" r="2.2" fill="#dcdcdc" stroke="#000" stroke-width="1.0"/>
<circle cx="379.40" cy="169.90" r="2.2" fill="#dcdcdc" stroke="#000" stroke-width="1.0"/>
<circle cx="380.00" cy="169.90" r="2.2" fill="#dcdcdc" stroke="#000" stroke-width="1.0"/>
<circle cx="380.60" cy="169.90" r="2.2" fill="#dcdcdc" stroke="#000" stroke-width="1.0"/>
<circle cx="381.20" cy="169.90" r="2.2" fill="#dcdcdc" stroke="#000" stroke-width="1.0"/>
<circle cx="381.80" cy="169.90" r="2.2" fill="#dcdcdc" stroke="#000" stroke-width="1.0"/>
<circle cx="382.40" cy="169.90" r="2.2" fill="#dcdcdc" stroke="#000" stroke-width="1.0"/>
<circle cx="383.00" cy="169.90" r="2.2" fill="#dcdcdc" stroke="#000" stroke-width="1.0"/>
<circle cx="383.60" cy="169.90" r="2.2" fill="#dcdcdc" stroke="#000" stroke-width="1.0"/>
<circle cx="384.20" cy="169.90" r="2.2" fill="#dcdcdc" stroke="#000" stroke-width="1.0"/>
<circle cx="384.80" cy="169.90" r="2.2" fill="#dcdcdc" stroke="#000" stroke-width="1.0"/>
<circle cx="385.40" cy="169.90" r="2.2" fill="#dcdcdc" stroke="#000" stroke-width="1.0"/>
<circle cx="386.00" cy="169.90" r="2.2" fill="#dcdcdc" stroke="#000" stroke-width="1.0"/>
<circle cx="386.60" cy="169.90" r="2.2" fill="#dcdcdc" stroke="#000" stroke-width="1.0"/>
<circle cx="387.20" cy="169.90" r="2.2" fill="#dcdcdc" stroke="#000" stroke-width="1.0"/>
<circle cx="387.80" cy="169.90" r="2.2" fill="#dcdcdc" stroke="#000" stroke-width="1.0"/>
<circle cx="388.40" cy="169.90" r="2.2" fill="#dcdcdc" stroke="#000" stroke-width="1.0"/>
<circle cx="389.00" cy="169.90" r="2.2" fill="#dcdcdc" stroke="#000" stroke-width="1.0"/>
<circle cx="389.60" cy="169.90" r="2.2" fill="#dcdcdc" stroke="#000" stroke-width="1.0"/>
<circle cx="390.20" cy="169.90" r="2.2" fill="#dcdcdc" stroke="#000" stroke-width="1.0"/>
<circle cx="390.80" cy="169.90" r="2.2" fill="#dcdcdc" stroke="#000" stroke-width="1.0"/>
<circle cx="391.40" cy="169.90" r="2.2" fill="#dcdcdc" stroke="#000" stroke-width="1.0"/>
<circle cx="392.00" cy="169.90" r="2.2" fill="#dcdcdc" stroke="#000" stroke-width="1.0"/>
<circle cx="392.60" cy="169.90" r="2.2" fill="#dcdcdc" stroke="#000" stroke-width="1.0"/>
<circle cx="393.20" cy="169.90" r="2.2" fill="#dcdcdc" stroke="#000" stroke-width="1.0"/>
<circle cx="393.80" cy="169.90" r="2.2" fill="#dcdcdc" stroke="#000" stroke-width="1.0"/>
<circle cx="394.40" cy="169.90" r="2.2" fill="#dcdcdc" stroke="#000" stroke-width="1.0"/>
<circle cx="395.00" cy="169.90" r="2.2" fill="#dcdcdc" stroke="#000" stroke-width="1.0"/>
<circle cx="395.60" cy="169.90" r="2.2" fill="#dcdcdc" stroke="#000" stroke-width="1.0"/>
<circle cx="396.20" cy="169.90" r="2.2" fill="#dcdcdc" stroke="#000" stroke-width="1.0"/>
<circle cx="396.80" cy="169.90" r="2.2" fill="#dcdcdc" stroke="#000" stroke-width="1.0"/>
<circle cx="397.40" cy="169.90" r="2.2" fill="#dcdcdc" stroke="#000" stroke-width="1.0"/>
<circle cx="398.00" cy="169.90" r="2.2" fill="#dcdcdc" stroke="#000" stroke-width="1.0"/>
<circle cx="398.60" cy="169.90" r="2.2" fill="#dcdcdc" stroke="#000" stroke-width="1.0"/>
<circle cx="399.20" cy="169.90" r="2.2" fill="#dcdcdc" stroke="#000" stroke-width="1.0"/>
<circle cx="399.80" cy="169.90" r="2.2" fill="#dcdcdc" stroke="#000" stroke-width="1.0"/>
<circle cx="400.40" cy="169.90" r="2.2" fill="#dcdcdc" stroke="#000" stroke-width="1.0"/>
<circle cx="401.00" cy="169.90" r="2.2" fill="#dcdcdc" stroke="#000" stroke-width="1.0"/>
<circle cx="401.60" cy="169.90" r="2.2" fill="#dcdcdc" stroke="#000" stroke-width="1.0"/>
<circle cx="402.20" cy="169.90" r="2.2" fill="#dcdcdc" stroke="#000" stroke-width="1.0"/>
<circle cx="402.80" cy="169.90" r="2.2" fill="#dcdcdc" stroke="#000" stroke-width="1.0"/>
<circle cx="403.40" cy="169.90" r="2.2" fill="#dcdcdc" stroke="#000" stroke-width="1.0"/>
<circle cx="404.00" cy="169.90" r="2.2" fill="#dcdcdc" stroke="#000" stroke-width="1.0"/>
<circle cx="404.60" cy="169.90" r="2.2" fill="#dcdcdc" stroke="#000" stroke-width="1.0"/>
<circle cx="405.20" cy="169.90" r="2.2" fill="#dcdcdc" stroke="#000" stroke-width="1.0"/>
<circle cx="405.80" cy="169.90" r="2.2" fill="#dcdcdc" stroke="#000" stroke-width="1.0"/>
<circle cx="406.40" cy="169.90" r="2.2" fill="#dcdcdc" stroke="#000" stroke-width="1.0"/>
<circle cx="407.00" cy="169.90" r="2.2" fill="#dcdcdc" stroke="#000" stroke-width="1.0"/>
<circle cx="407.60" cy="169.90" r="2.2" fill="#dcdcdc" stroke="#000" stroke-width="1.0"/>
<circle cx="408.20" cy="169.90" r="2.2" fill="#dcdcdc" stroke="#000" stroke-width="1.0"/>
<circle cx="408.80" cy="169.90" r="2.2" fill="#dcdcdc" stroke="#000" stroke-width="1.0"/>
<circle cx="409.40" cy="169.90" r="2.2" fill="#dcdcdc" stroke="#000" stroke-width="1.0"/>
<circle cx="410.00" cy="169.90" r="2.2" fill="#dcdcdc" stroke="#000" stroke-width="1.0"/>
<circle cx="410.60" cy="169.90" r="2.2" fill="#dcdcdc" stroke="#000" stroke-width="1.0"/>
<circle cx="411.20" cy="169.90" r="2.2" fill="#dcdcdc" stroke="#000" stroke-width="1.0"/>
<circle cx="411.80" cy="169.90" r="2.2" fill="#dcdcdc" stroke="#000" stroke-width="1.0"/>
<circle cx="412.40" cy="169.90" r="2.2" fill="#dcdcdc" stroke="#000" stroke-width="1.0"/>
<circle cx="413.00" cy="169.90" r="2.2" fill="#dcdcdc" stroke="#000" stroke-width="1.0"/>
<circle cx="413.60" cy="169.90" r="2.2" fill="#dcdcdc" stroke="#000" stroke-width="1.0"/>
<circle cx="414.20" cy="169.90" r="2.2" fill="#dcdcdc" stroke="#000" stroke-width="1.0"/>
<circle cx="414.80" cy="169.90" r="2.2" fill="#dcdcdc" stroke="#000" stroke-width="1.0"/>
<circle cx="415.40" cy="169.90" r="2.2" fill="#dcdcdc" stroke="#000" stroke-width="1.0"/>
<circle cx="416.00" cy="169.90" r="2.2" fill="#dcdcdc" stroke="#000" stroke-width="1.0"/>
<circle cx="416.60" cy="169.90" r="2.2" fill="#dcdcdc" stroke="#000" stroke-width="1.0"/>
<circle cx="417.20" cy="169.90" r="2.2" fill="#dcdcdc" stroke="#000" stroke-width="1.0"/>
<circle cx="417.80" cy="169.90" r="2.2" fill="#dcdcdc" stroke="#000" stroke-width="1.0"/>
<circle cx="418.40" cy="169.90" r="2.2" fill="#dcdcdc" stroke="#000" stroke-width="1.0"/>
<circle cx="419.00" cy="169.90" r="2.2" fill="#dcdcdc" stroke="#000" stroke-width="1.0"/>
<circle cx="419.60" cy="169.90" r="2.2" fill="#dcdcdc" stroke="#000" stroke-width="1.0"/>
<circle cx="420.20" cy="169.90" r="2.2" fill="#dcdcdc" stroke="#000" stroke-width="1.0"/>
<circle cx="420.80" cy="169.90" r="2.2" fill="#dcdcdc" stroke="#000" stroke-width="1.0"/>
<circle cx="421.40" cy="169.90" r="2.2" fill="#dcdcdc" stroke="#000" stroke-width="1.0"/>
<circle cx="422.00" cy="169.90" r="2.2" fill="#dcdcdc" stroke="#000" stroke-width="1.0"/>
<circle cx="422.60" cy="169.90" r="2.2" fill="#dcdcdc" stroke="#000" stroke-width="1.0"/>
<circle cx="423.20" cy="169.90" r="2.2" fill="#dcdcdc" stroke="#000" stroke-width="1.0"/>
<circle cx="506.60" cy="89.80" r="2.2" fill="#dcdcdc" stroke="#000" stroke-width="1.0"/>
<circle cx="558.60" cy="111.60" r="2.2" fill="#dcdcdc" stroke="#000" stroke-width="1.0"/>
<circle cx="481.80" cy="115.60" r="2.2" fill="#dcdcdc" stroke="#000" stroke-width="1.0"/>
<circle cx="468.30" cy="121.00" r="2.2" fill="#dcdcdc" stroke="#000" stroke-width="1.0"/>
<circle cx="529.60" cy="121.00" r="2.2" fill="#dcdcdc" stroke="#000" stroke-width="1.0"/>
<circle cx="488.50" cy="126.30" r="2.2" fill="#dcdcdc" stroke="#000" stroke-width="1.0"/>
<circle cx="523.70" cy="126.50" r="2.2" fill="#dcdcdc" stroke="#000" stroke-width="1.0"/>
<circle cx="510.30" cy="131.70" r="2.2" fill="#dcdcdc" stroke="#000" stroke-width="1.0"/>
<circle cx="542.80" cy="131.70" r="2.2" fill="#dcdcdc" stroke="#000" stroke-width="1.0"/>
<circle cx="550.70" cy="131.70" r="2.2" fill="#dcdcdc" stroke="#000" stroke-width="1.0"/>
<circle cx="552.90" cy="131.70" r="2.2" fill="#dcdcdc" stroke="#000" stroke-width="1.0"/>
<circle cx="559.20" cy="131.70" r="2.2" fill="#dcdcdc" stroke="#000" stroke-width="1.0"/>
<circle cx="515.80" cy="137.20" r="2.2" fill="#dcdcdc" stroke="#000" stroke-width="1.0"/>
<circle cx="519.10" cy="137.20" r="2.2" fill="#dcdcdc" stroke="#000" stroke-width="1.0"/>
<circle cx="535.40" cy="137.20" r="2.2" fill="#dcdcdc" stroke="#000" stroke-width="1.0"/>
<circle cx="482.30" cy="141.00" r="2.2" fill="#dcdcdc" stroke="#000" stroke-width="1.0"/>
<circle cx="502.00" cy="142.80" r="2.2" fill="#dcdcdc" stroke="#000" stroke-width="1.0"/>
<circle cx="511.30" cy="142.80" r="2.2" fill="#dcdcdc" stroke="#000" stroke-width="1.0"/>
<circle cx="520.00" cy="142.80" r="2.2" fill="#dcdcdc" stroke="#000" stroke-width="1.0"/>
<circle cx="523.20" cy="142.80" r="2.2" fill="#dcdcdc" stroke="#000" stroke-width="1.0"/>
<circle cx="531.40" cy="142.80" r="2.2" fill="#dcdcdc" stroke="#000" stroke-width="1.0"/>
<circle cx="533.30" cy="142.80" r="2.2" fill="#dcdcdc" stroke="#000" stroke-width="1.0"/>
<circle cx="542.20" cy="142.80" r="2.2" fill="#dcdcdc" stroke="#000" stroke-width="1.0"/>
<circle cx="547.00" cy="142.80" r="2.2" fill="#dcdcdc" stroke="#000" stroke-width="1.0"/>
<circle cx="530.20" cy="148.00" r="2.2" fill="#dcdcdc" stroke="#000" stroke-width="1.0"/>
<circle cx="541.80" cy="148.00" r="2.2" fill="#dcdcdc" stroke="#000" stroke-width="1.0"/>
<circle cx="551.40" cy="148.00" r="2.2" fill="#dcdcdc" stroke="#000" stroke-width="1.0"/>
<circle cx="557.40" cy="148.00" r="2.2" fill="#dcdcdc" stroke="#000" stroke-width="1.0"/>
<circle cx="447.40" cy="153.80" r="2.2" fill="#dcdcdc" stroke="#000" stroke-width="1.0"/>
<circle cx="437.40" cy="155.50" r="2.2" fill="#dcdcdc" stroke="#000" stroke-width="1.0"/>
<circle cx="443.10" cy="159.40" r="2.2" fill="#dcdcdc" stroke="#000" stroke-width="1.0"/>
<circle cx="491.10" cy="159.10" r="2.2" fill="#dcdcdc" stroke="#000" stroke-width="1.0"/>
<circle cx="492.40" cy="163.00" r="2.2" fill="#dcdcdc" stroke="#000" stroke-width="1.0"/>
<circle cx="431.80" cy="166.40" r="2.2" fill="#dcdcdc" stroke="#000" stroke-width="1.0"/>
<circle cx="443.00" cy="166.40" r="2.2" fill="#dcdcdc" stroke="#000" stroke-width="1.0"/>
<circle cx="449.00" cy="166.40" r="2.2" fill="#dcdcdc" stroke="#000" stroke-width="1.0"/>
<circle cx="460.60" cy="165.60" r="2.2" fill="#dcdcdc" stroke="#000" stroke-width="1.0"/>
<circle cx="470.20" cy="165.60" r="2.2" fill="#dcdcdc" stroke="#000" stroke-width="1.0"/>
<circle cx="480.10" cy="165.60" r="2.2" fill="#dcdcdc" stroke="#000" stroke-width="1.0"/>
<circle cx="487.70" cy="165.60" r="2.2" fill="#dcdcdc" stroke="#000" stroke-width="1.0"/>
<circle cx="506.10" cy="165.10" r="2.2" fill="#dcdcdc" stroke="#000" stroke-width="1.0"/>
<circle cx="518.80" cy="165.80" r="2.2" fill="#dcdcdc" stroke="#000" stroke-width="1.0"/>
<circle cx="533.30" cy="165.80" r="2.2" fill="#dcdcdc" stroke="#000" stroke-width="1.0"/>
<circle cx="554.40" cy="165.80" r="2.2" fill="#dcdcdc" stroke="#000" stroke-width="1.0"/>
<circle cx="429.50" cy="169.90" r="2.2" fill="#dcdcdc" stroke="#000" stroke-width="1.0"/>
<circle cx="430.10" cy="169.90" r="2.2" fill="#dcdcdc" stroke="#000" stroke-width="1.0"/>
<circle cx="430.70" cy="169.90" r="2.2" fill="#dcdcdc" stroke="#000" stroke-width="1.0"/>
<circle cx="431.30" cy="169.90" r="2.2" fill="#dcdcdc" stroke="#000" stroke-width="1.0"/>
<circle cx="431.90" cy="169.90" r="2.2" fill="#dcdcdc" stroke="#000" stroke-width="1.0"/>
<circle cx="432.50" cy="169.90" r="2.2" fill="#dcdcdc" stroke="#000" stroke-width="1.0"/>
<circle cx="433.10" cy="169.90" r="2.2" fill="#dcdcdc" stroke="#000" stroke-width="1.0"/>
<circle cx="433.70" cy="169.90" r="2.2" fill="#dcdcdc" stroke="#000" stroke-width="1.0"/>
<circle cx="434.30" cy="169.90" r="2.2" fill="#dcdcdc" stroke="#000" stroke-width="1.0"/>
<circle cx="434.90" cy="169.90" r="2.2" fill="#dcdcdc" stroke="#000" stroke-width="1.0"/>
<circle cx="435.50" cy="169.90" r="2.2" fill="#dcdcdc" stroke="#000" stroke-width="1.0"/>
<circle cx="436.10" cy="169.90" r="2.2" fill="#dcdcdc" stroke="#000" stroke-width="1.0"/>
<circle cx="436.70" cy="169.90" r="2.2" fill="#dcdcdc" stroke="#000" stroke-width="1.0"/>
<circle cx="437.30" cy="169.90" r="2.2" fill="#dcdcdc" stroke="#000" stroke-width="1.0"/>
<circle cx="437.90" cy="169.90" r="2.2" fill="#dcdcdc" stroke="#000" stroke-width="1.0"/>
<circle cx="438.50" cy="169.90" r="2.2" fill="#dcdcdc" stroke="#000" stroke-width="1.0"/>
<circle cx="439.10" cy="169.90" r="2.2" fill="#dcdcdc" stroke="#000" stroke-width="1.0"/>
<circle cx="439.70" cy="169.90" r="2.2" fill="#dcdcdc" stroke="#000" stroke-width="1.0"/>
<circle cx="440.30" cy="169.90" r="2.2" fill="#dcdcdc" stroke="#000" stroke-width="1.0"/>
<circle cx="440.90" cy="169.90" r="2.2" fill="#dcdcdc" stroke="#000" stroke-width="1.0"/>
<circle cx="441.50" cy="169.90" r="2.2" fill="#dcdcdc" stroke="#000" stroke-width="1.0"/>
<circle cx="442.10" cy="169.90" r="2.2" fill="#dcdcdc" stroke="#000" stroke-width="1.0"/>
<circle cx="442.70" cy="169.90" r="2.2" fill="#dcdcdc" stroke="#000" stroke-width="1.0"/>
<circle cx="443.30" cy="169.90" r="2.2" fill="#dcdcdc" stroke="#000" stroke-width="1.0"/>
<circle cx="443.90" cy="169.90" r="2.2" fill="#dcdcdc" stroke="#000" stroke-width="1.0"/>
<circle cx="444.50" cy="169.90" r="2.2" fill="#dcdcdc" stroke="#000" stroke-width="1.0"/>
<circle cx="445.10" cy="169.90" r="2.2" fill="#dcdcdc" stroke="#000" stroke-width="1.0"/>
<circle cx="445.70" cy="169.90" r="2.2" fill="#dcdcdc" stroke="#000" stroke-width="1.0"/>
<circle cx="446.30" cy="169.90" r="2.2" fill="#dcdcdc" stroke="#000" stroke-width="1.0"/>
<circle cx="446.90" cy="169.90" r="2.2" fill="#dcdcdc" stroke="#000" stroke-width="1.0"/>
<circle cx="447.50" cy="169.90" r="2.2" fill="#dcdcdc" stroke="#000" stroke-width="1.0"/>
<circle cx="448.10" cy="169.90" r="2.2" fill="#dcdcdc" stroke="#000" stroke-width="1.0"/>
<circle cx="448.70" cy="169.90" r="2.2" fill="#dcdcdc" stroke="#000" stroke-width="1.0"/>
<circle cx="449.30" cy="169.90" r="2.2" fill="#dcdcdc" stroke="#000" stroke-width="1.0"/>
<circle cx="449.90" cy="169.90" r="2.2" fill="#dcdcdc" stroke="#000" stroke-width="1.0"/>
<circle cx="450.50" cy="169.90" r="2.2" fill="#dcdcdc" stroke="#000" stroke-width="1.0"/>
<circle cx="451.10" cy="169.90" r="2.2" fill="#dcdcdc" stroke="#000" stroke-width="1.0"/>
<circle cx="451.70" cy="169.90" r="2.2" fill="#dcdcdc" stroke="#000" stroke-width="1.0"/>
<circle cx="452.30" cy="169.90" r="2.2" fill="#dcdcdc" stroke="#000" stroke-width="1.0"/>
<circle cx="452.90" cy="169.90" r="2.2" fill="#dcdcdc" stroke="#000" stroke-width="1.0"/>
<circle cx="453.50" cy="169.90" r="2.2" fill="#dcdcdc" stroke="#000" stroke-width="1.0"/>
<circle cx="454.10" cy="169.90" r="2.2" fill="#dcdcdc" stroke="#000" stroke-width="1.0"/>
<circle cx="454.70" cy="169.90" r="2.2" fill="#dcdcdc" stroke="#000" stroke-width="1.0"/>
<circle cx="455.30" cy="169.90" r="2.2" fill="#dcdcdc" stroke="#000" stroke-width="1.0"/>
<circle cx="455.90" cy="169.90" r="2.2" fill="#dcdcdc" stroke="#000" stroke-width="1.0"/>
<circle cx="456.50" cy="169.90" r="2.2" fill="#dcdcdc" stroke="#000" stroke-width="1.0"/>
<circle cx="457.10" cy="169.90" r="2.2" fill="#dcdcdc" stroke="#000" stroke-width="1.0"/>
<circle cx="457.70" cy="169.90" r="2.2" fill="#dcdcdc" stroke="#000" stroke-width="1.0"/>
<circle cx="458.30" cy="169.90" r="2.2" fill="#dcdcdc" stroke="#000" stroke-width="1.0"/>
<circle cx="458.90" cy="169.90" r="2.2" fill="#dcdcdc" stroke="#000" stroke-width="1.0"/>
<circle cx="459.50" cy="169.90" r="2.2" fill="#dcdcdc" stroke="#000" stroke-width="1.0"/>
<circle cx="460.10" cy="169.90" r="2.2" fill="#dcdcdc" stroke="#000" stroke-width="1.0"/>
<circle cx="460.70" cy="169.90" r="2.2" fill="#dcdcdc" stroke="#000" stroke-width="1.0"/>
<circle cx="461.30" cy="169.90" r="2.2" fill="#dcdcdc" stroke="#000" stroke-width="1.0"/>
<circle cx="461.90" cy="169.90" r="2.2" fill="#dcdcdc" stroke="#000" stroke-width="1.0"/>
<circle cx="462.50" cy="169.90" r="2.2" fill="#dcdcdc" stroke="#000" stroke-width="1.0"/>
<circle cx="463.10" cy="169.90" r="2.2" fill="#dcdcdc" stroke="#000" stroke-width="1.0"/>
<circle cx="463.70" cy="169.90" r="2.2" fill="#dcdcdc" stroke="#000" stroke-width="1.0"/>
<circle cx="464.30" cy="169.90" r="2.2" fill="#dcdcdc" stroke="#000" stroke-width="1.0"/>
<circle cx="464.90" cy="169.90" r="2.2" fill="#dcdcdc" stroke="#000" stroke-width="1.0"/>
<circle cx="465.50" cy="169.90" r="2.2" fill="#dcdcdc" stroke="#000" stroke-width="1.0"/>
<circle cx="466.10" cy="169.90" r="2.2" fill="#dcdcdc" stroke="#000" stroke-width="1.0"/>
<circle cx="466.70" cy="169.90" r="2.2" fill="#dcdcdc" stroke="#000" stroke-width="1.0"/>
<circle cx="467.30" cy="169.90" r="2.2" fill="#dcdcdc" stroke="#000" stroke-width="1.0"/>
<circle cx="467.90" cy="169.90" r="2.2" fill="#dcdcdc" stroke="#000" stroke-width="1.0"/>
<circle cx="468.50" cy="169.90" r="2.2" fill="#dcdcdc" stroke="#000" stroke-width="1.0"/>
<circle cx="469.10" cy="169.90" r="2.2" fill="#dcdcdc" stroke="#000" stroke-width="1.0"/>
<circle cx="469.70" cy="169.90" r="2.2" fill="#dcdcdc" stroke="#000" stroke-width="1.0"/>
<circle cx="470.30" cy="169.90" r="2.2" fill="#dcdcdc" stroke="#000" stroke-width="1.0"/>
<circle cx="470.90" cy="169.90" r="2.2" fill="#dcdcdc" stroke="#000" stroke-width="1.0"/>
<circle cx="471.50" cy="169.90" r="2.2" fill="#dcdcdc" stroke="#000" stroke-width="1.0"/>
<circle cx="472.10" cy="169.90" r="2.2" fill="#dcdcdc" stroke="#000" stroke-width="1.0"/>
<circle cx="472.70" cy="169.90" r="2.2" fill="#dcdcdc" stroke="#000" stroke-width="1.0"/>
<circle cx="473.30" cy="169.90" r="2.2" fill="#dcdcdc" stroke="#000" stroke-width="1.0"/>
<circle cx="473.90" cy="169.90" r="2.2" fill="#dcdcdc" stroke="#000" stroke-width="1.0"/>
<circle cx="474.50" cy="169.90" r="2.2" fill="#dcdcdc" stroke="#000" stroke-width="1.0"/>
<circle cx="475.10" cy="169.90" r="2.2" fill="#dcdcdc" stroke="#000" stroke-width="1.0"/>
<circle cx="475.70" cy="169.90" r="2.2" fill="#dcdcdc" stroke="#000" stroke-width="1.0"/>
<circle cx="476.30" cy="169.90" r="2.2" fill="#dcdcdc" stroke="#000" stroke-width="1.0"/>
<circle cx="476.90" cy="169.90" r="2.2" fill="#dcdcdc" stroke="#000" stroke-width="1.0"/>
<circle cx="477.50" cy="169.90" r="2.2" fill="#dcdcdc" stroke="#000" stroke-width="1.0"/>
<circle cx="478.10" cy="169.90" r="2.2" fill="#dcdcdc" stroke="#000" stroke-width="1.0"/>
<circle cx="478.70" cy="169.90" r="2.2" fill="#dcdcdc" stroke="#000" stroke-width="1.0"/>
<circle cx="479.30" cy="169.90" r="2.2" fill="#dcdcdc" stroke="#000" stroke-width="1.0"/>
<circle cx="479.90" cy="169.90" r="2.2" fill="#dcdcdc" stroke="#000" stroke-width="1.0"/>
<circle cx="480.50" cy="169.90" r="2.2" fill="#dcdcdc" stroke="#000" stroke-width="1.0"/>
<circle cx="481.10" cy="169.90" r="2.2" fill="#dcdcdc" stroke="#000" stroke-width="1.0"/>
<circle cx="481.70" cy="169.90" r="2.2" fill="#dcdcdc" stroke="#000" stroke-width="1.0"/>
<circle cx="482.30" cy="169.90" r="2.2" fill="#dcdcdc" stroke="#000" stroke-width="1.0"/>
<circle cx="482.90" cy="169.90" r="2.2" fill="#dcdcdc" stroke="#000" stroke-width="1.0"/>
<circle cx="483.50" cy="169.90" r="2.2" fill="#dcdcdc" stroke="#000" stroke-width="1.0"/>
<circle cx="484.10" cy="169.90" r="2.2" fill="#dcdcdc" stroke="#000" stroke-width="1.0"/>
<circle cx="484.70" cy="169.90" r="2.2" fill="#dcdcdc" stroke="#000" stroke-width="1.0"/>
<circle cx="485.30" cy="169.90" r="2.2" fill="#dcdcdc" stroke="#000" stroke-width="1.0"/>
<circle cx="485.90" cy="169.90" r="2.2" fill="#dcdcdc" stroke="#000" stroke-width="1.0"/>
<circle cx="486.50" cy="169.90" r="2.2" fill="#dcdcdc" stroke="#000" stroke-width="1.0"/>
<circle cx="487.10" cy="169.90" r="2.2" fill="#dcdcdc" stroke="#000" stroke-width="1.0"/>
<circle cx="487.70" cy="169.90" r="2.2" fill="#dcdcdc" stroke="#000" stroke-width="1.0"/>
<circle cx="488.30" cy="169.90" r="2.2" fill="#dcdcdc" stroke="#000" stroke-width="1.0"/>
<circle cx="488.90" cy="169.90" r="2.2" fill="#dcdcdc" stroke="#000" stroke-width="1.0"/>
<circle cx="489.50" cy="169.90" r="2.2" fill="#dcdcdc" stroke="#000" stroke-width="1.0"/>
<circle cx="490.10" cy="169.90" r="2.2" fill="#dcdcdc" stroke="#000" stroke-width="1.0"/>
<circle cx="490.70" cy="169.90" r="2.2" fill="#dcdcdc" stroke="#000" stroke-width="1.0"/>
<circle cx="491.30" cy="169.90" r="2.2" fill="#dcdcdc" stroke="#000" stroke-width="1.0"/>
<circle cx="491.90" cy="169.90" r="2.2" fill="#dcdcdc" stroke="#000" stroke-width="1.0"/>
<circle cx="492.50" cy="169.90" r="2.2" fill="#dcdcdc" stroke="#000" stroke-width="1.0"/>
<circle cx="493.10" cy="169.90" r="2.2" fill="#dcdcdc" stroke="#000" stroke-width="1.0"/>
<circle cx="493.70" cy="169.90" r="2.2" fill="#dcdcdc" stroke="#000" stroke-width="1.0"/>
<circle cx="494.30" cy="169.90" r="2.2" fill="#dcdcdc" stroke="#000" stroke-width="1.0"/>
<circle cx="494.90" cy="169.90" r="2.2" fill="#dcdcdc" stroke="#000" stroke-width="1.0"/>
<circle cx="495.50" cy="169.90" r="2.2" fill="#dcdcdc" stroke="#000" stroke-width="1.0"/>
<circle cx="496.10" cy="169.90" r="2.2" fill="#dcdcdc" stroke="#000" stroke-width="1.0"/>
<circle cx="496.70" cy="169.90" r="2.2" fill="#dcdcdc" stroke="#000" stroke-width="1.0"/>
<circle cx="497.30" cy="169.90" r="2.2" fill="#dcdcdc" stroke="#000" stroke-width="1.0"/>
<circle cx="497.90" cy="169.90" r="2.2" fill="#dcdcdc" stroke="#000" stroke-width="1.0"/>
<circle cx="498.50" cy="169.90" r="2.2" fill="#dcdcdc" stroke="#000" stroke-width="1.0"/>
<circle cx="499.10" cy="169.90" r="2.2" fill="#dcdcdc" stroke="#000" stroke-width="1.0"/>
<circle cx="499.70" cy="169.90" r="2.2" fill="#dcdcdc" stroke="#000" stroke-width="1.0"/>
<circle cx="500.30" cy="169.90" r="2.2" fill="#dcdcdc" stroke="#000" stroke-width="1.0"/>
<circle cx="500.90" cy="169.90" r="2.2" fill="#dcdcdc" stroke="#000" stroke-width="1.0"/>
<circle cx="501.50" cy="169.90" r="2.2" fill="#dcdcdc" stroke="#000" stroke-width="1.0"/>
<circle cx="502.10" cy="169.90" r="2.2" fill="#dcdcdc" stroke="#000" stroke-width="1.0"/>
<circle cx="502.70" cy="169.90" r="2.2" fill="#dcdcdc" stroke="#000" stroke-width="1.0"/>
<circle cx="503.30" cy="169.90" r="2.2" fill="#dcdcdc" stroke="#000" stroke-width="1.0"/>
<circle cx="503.90" cy="169.90" r="2.2" fill="#dcdcdc" stroke="#000" stroke-width="1.0"/>
<circle cx="504.50" cy="169.90" r="2.2" fill="#dcdcdc" stroke="#000" stroke-width="1.0"/>
<circle cx="505.10" cy="169.90" r="2.2" fill="#dcdcdc" stroke="#000" stroke-width="1.0"/>
<circle cx="505.70" cy="169.90" r="2.2" fill="#dcdcdc" stroke="#000" stroke-width="1.0"/>
<circle cx="506.30" cy="169.90" r="2.2" fill="#dcdcdc" stroke="#000" stroke-width="1.0"/>
<circle cx="506.90" cy="169.90" r="2.2" fill="#dcdcdc" stroke="#000" stroke-width="1.0"/>
<circle cx="507.50" cy="169.90" r="2.2" fill="#dcdcdc" stroke="#000" stroke-width="1.0"/>
<circle cx="508.10" cy="169.90" r="2.2" fill="#dcdcdc" stroke="#000" stroke-width="1.0"/>
<circle cx="508.70" cy="169.90" r="2.2" fill="#dcdcdc" stroke="#000" stroke-width="1.0"/>
<circle cx="509.30" cy="169.90" r="2.2" fill="#dcdcdc" stroke="#000" stroke-width="1.0"/>
<circle cx="509.90" cy="169.90" r="2.2" fill="#dcdcdc" stroke="#000" stroke-width="1.0"/>
<circle cx="510.50" cy="169.90" r="2.2" fill="#dcdcdc" stroke="#000" stroke-width="1.0"/>
<circle cx="511.10" cy="169.90" r="2.2" fill="#dcdcdc" stroke="#000" stroke-width="1.0"/>
<circle cx="511.70" cy="169.90" r="2.2" fill="#dcdcdc" stroke="#000" stroke-width="1.0"/>
<circle cx="512.30" cy="169.90" r="2.2" fill="#dcdcdc" stroke="#000" stroke-width="1.0"/>
<circle cx="512.90" cy="169.90" r="2.2" fill="#dcdcdc" stroke="#000" stroke-width="1.0"/>
<circle cx="513.50" cy="169.90" r="2.2" fill="#dcdcdc" stroke="#000" stroke-width="1.0"/>
<circle cx="514.10" cy="169.90" r="2.2" fill="#dcdcdc" stroke="#000" stroke-width="1.0"/>
<circle cx="514.70" cy="169.90" r="2.2" fill="#dcdcdc" stroke="#000" stroke-width="1.0"/>
<circle cx="515.30" cy="169.90" r="2.2" fill="#dcdcdc" stroke="#000" stroke-width="1.0"/>
<circle cx="515.90" cy="169.90" r="2.2" fill="#dcdcdc" stroke="#000" stroke-width="1.0"/>
<circle cx="516.50" cy="169.90" r="2.2" fill="#dcdcdc" stroke="#000" stroke-width="1.0"/>
<circle cx="517.10" cy="169.90" r="2.2" fill="#dcdcdc" stroke="#000" stroke-width="1.0"/>
<circle cx="517.70" cy="169.90" r="2.2" fill="#dcdcdc" stroke="#000" stroke-width="1.0"/>
<circle cx="518.30" cy="169.90" r="2.2" fill="#dcdcdc" stroke="#000" stroke-width="1.0"/>
<circle cx="518.90" cy="169.90" r="2.2" fill="#dcdcdc" stroke="#000" stroke-width="1.0"/>
<circle cx="519.50" cy="169.90" r="2.2" fill="#dcdcdc" stroke="#000" stroke-width="1.0"/>
<circle cx="520.10" cy="169.90" r="2.2" fill="#dcdcdc" stroke="#000" stroke-width="1.0"/>
<circle cx="520.70" cy="169.90" r="2.2" fill="#dcdcdc" stroke="#000" stroke-width="1.0"/>
<circle cx="521.30" cy="169.90" r="2.2" fill="#dcdcdc" stroke="#000" stroke-width="1.0"/>
<circle cx="521.90" cy="169.90" r="2.2" fill="#dcdcdc" stroke="#000" stroke-width="1.0"/>
<circle cx="522.50" cy="169.90" r="2.2" fill="#dcdcdc" stroke="#000" stroke-width="1.0"/>
<circle cx="523.10" cy="169.90" r="2.2" fill="#dcdcdc" stroke="#000" stroke-width="1.0"/>
<circle cx="523.70" cy="169.90" r="2.2" fill="#dcdcdc" stroke="#000" stroke-width="1.0"/>
<circle cx="524.30" cy="169.90" r="2.2" fill="#dcdcdc" stroke="#000" stroke-width="1.0"/>
<circle cx="524.90" cy="169.90" r="2.2" fill="#dcdcdc" stroke="#000" stroke-width="1.0"/>
<circle cx="525.50" cy="169.90" r="2.2" fill="#dcdcdc" stroke="#000" stroke-width="1.0"/>
<circle cx="526.10" cy="169.90" r="2.2" fill="#dcdcdc" stroke="#000" stroke-width="1.0"/>
<circle cx="526.70" cy="169.90" r="2.2" fill="#dcdcdc" stroke="#000" stroke-width="1.0"/>
<circle cx="527.30" cy="169.90" r="2.2" fill="#dcdcdc" stroke="#000" stroke-width="1.0"/>
<circle cx="527.90" cy="169.90" r="2.2" fill="#dcdcdc" stroke="#000" stroke-width="1.0"/>
<circle cx="528.50" cy="169.90" r="2.2" fill="#dcdcdc" stroke="#000" stroke-width="1.0"/>
<circle cx="529.10" cy="169.90" r="2.2" fill="#dcdcdc" stroke="#000" stroke-width="1.0"/>
<circle cx="529.70" cy="169.90" r="2.2" fill="#dcdcdc" stroke="#000" stroke-width="1.0"/>
<circle cx="530.30" cy="169.90" r="2.2" fill="#dcdcdc" stroke="#000" stroke-width="1.0"/>
<circle cx="530.90" cy="169.90" r="2.2" fill="#dcdcdc" stroke="#000" stroke-width="1.0"/>
<circle cx="531.50" cy="169.90" r="2.2" fill="#dcdcdc" stroke="#000" stroke-width="1.0"/>
<circle cx="532.10" cy="169.90" r="2.2" fill="#dcdcdc" stroke="#000" stroke-width="1.0"/>
<circle cx="532.70" cy="169.90" r="2.2" fill="#dcdcdc" stroke="#000" stroke-width="1.0"/>
<circle cx="533.30" cy="169.90" r="2.2" fill="#dcdcdc" stroke="#000" stroke-width="1.0"/>
<circle cx="533.90" cy="169.90" r="2.2" fill="#dcdcdc" stroke="#000" stroke-width="1.0"/>
<circle cx="534.50" cy="169.90" r="2.2" fill="#dcdcdc" stroke="#000" stroke-width="1.0"/>
<circle cx="535.10" cy="169.90" r="2.2" fill="#dcdcdc" stroke="#000" stroke-width="1.0"/>
<circle cx="535.70" cy="169.90" r="2.2" fill="#dcdcdc" stroke="#000" stroke-width="1.0"/>
<circle cx="536.30" cy="169.90" r="2.2" fill="#dcdcdc" stroke="#000" stroke-width="1.0"/>
<circle cx="536.90" cy="169.90" r="2.2" fill="#dcdcdc" stroke="#000" stroke-width="1.0"/>
<circle cx="537.50" cy="169.90" r="2.2" fill="#dcdcdc" stroke="#000" stroke-width="1.0"/>
<circle cx="538.10" cy="169.90" r="2.2" fill="#dcdcdc" stroke="#000" stroke-width="1.0"/>
<circle cx="538.70" cy="169.90" r="2.2" fill="#dcdcdc" stroke="#000" stroke-width="1.0"/>
<circle cx="539.30" cy="169.90" r="2.2" fill="#dcdcdc" stroke="#000" stroke-width="1.0"/>
<circle cx="539.90" cy="169.90" r="2.2" fill="#dcdcdc" stroke="#000" stroke-width="1.0"/>
<circle cx="540.50" cy="169.90" r="2.2" fill="#dcdcdc" stroke="#000" stroke-width="1.0"/>
<circle cx="541.10" cy="169.90" r="2.2" fill="#dcdcdc" stroke="#000" stroke-width="1.0"/>
<circle cx="541.70" cy="169.90" r="2.2" fill="#dcdcdc" stroke="#000" stroke-width="1.0"/>
<circle cx="542.30" cy="169.90" r="2.2" fill="#dcdcdc" stroke="#000" stroke-width="1.0"/>
<circle cx="542.90" cy="169.90" r="2.2" fill="#dcdcdc" stroke="#000" stroke-width="1.0"/>
<circle cx="543.50" cy="169.90" r="2.2" fill="#dcdcdc" stroke="#000" stroke-width="1.0"/>
<circle cx="544.10" cy="169.90" r="2.2" fill="#dcdcdc" stroke="#000" stroke-width="1.0"/>
<circle cx="544.70" cy="169.90" r="2.2" fill="#dcdcdc" stroke="#000" stroke-width="1.0"/>
<circle cx="545.30" cy="169.90" r="2.2" fill="#dcdcdc" stroke="#000" stroke-width="1.0"/>
<circle cx="545.90" cy="169.90" r="2.2" fill="#dcdcdc" stroke="#000" stroke-width="1.0"/>
<circle cx="546.50" cy="169.90" r="2.2" fill="#dcdcdc" stroke="#000" stroke-width="1.0"/>
<circle cx="547.10" cy="169.90" r="2.2" fill="#dcdcdc" stroke="#000" stroke-width="1.0"/>
<circle cx="547.70" cy="169.90" r="2.2" fill="#dcdcdc" stroke="#000" stroke-width="1.0"/>
<circle cx="548.30" cy="169.90" r="2.2" fill="#dcdcdc" stroke="#000" stroke-width="1.0"/>
<circle cx="548.90" cy="169.90" r="2.2" fill="#dcdcdc" stroke="#000" stroke-width="1.0"/>
<circle cx="549.50" cy="169.90" r="2.2" fill="#dcdcdc" stroke="#000" stroke-width="1.0"/>
<circle cx="550.10" cy="169.90" r="2.2" fill="#dcdcdc" stroke="#000" stroke-width="1.0"/>
<circle cx="550.70" cy="169.90" r="2.2" fill="#dcdcdc" stroke="#000" stroke-width="1.0"/>
<circle cx="551.30" cy="169.90" r="2.2" fill="#dcdcdc" stroke="#000" stroke-width="1.0"/>
<circle cx="551.90" cy="169.90" r="2.2" fill="#dcdcdc" stroke="#000" stroke-width="1.0"/>
<circle cx="552.50" cy="169.90" r="2.2" fill="#dcdcdc" stroke="#000" stroke-width="1.0"/>
<circle cx="553.10" cy="169.90" r="2.2" fill="#dcdcdc" stroke="#000" stroke-width="1.0"/>
<circle cx="553.70" cy="169.90" r="2.2" fill="#dcdcdc" stroke="#000" stroke-width="1.0"/>
<circle cx="554.30" cy="169.90" r="2.2" fill="#dcdcdc" stroke="#000" stroke-width="1.0"/>
<circle cx="554.90" cy="169.90" r="2.2" fill="#dcdcdc" stroke="#000" stroke-width="1.0"/>
<circle cx="555.50" cy="169.90" r="2.2" fill="#dcdcdc" stroke="#000" stroke-width="1.0"/>
<circle cx="556.10" cy="169.90" r="2.2" fill="#dcdcdc" stroke="#000" stroke-width="1.0"/>
<circle cx="556.70" cy="169.90" r="2.2" fill="#dcdcdc" stroke="#000" stroke-width="1.0"/>
<circle cx="557.30" cy="169.90" r="2.2" fill="#dcdcdc" stroke="#000" stroke-width="1.0"/>
<circle cx="557.90" cy="169.90" r="2.2" fill="#dcdcdc" stroke="#000" stroke-width="1.0"/>
<circle cx="558.50" cy="169.90" r="2.2" fill="#dcdcdc" stroke="#000" stroke-width="1.0"/>
<circle cx="559.10" cy="169.90" r="2.2" fill="#dcdcdc" stroke="#000" stroke-width="1.0"/>
<circle cx="559.70" cy="169.90" r="2.2" fill="#dcdcdc" stroke="#000" stroke-width="1.0"/>
<circle cx="266.60" cy="33.80" r="3.55" fill="#3d6cc0" stroke="#000" stroke-width="1.0"/>
<circle cx="384.70" cy="33.60" r="3.55" fill="#3d6cc0" stroke="#000" stroke-width="1.0"/>
<circle cx="390.70" cy="33.60" r="3.55" fill="#3d6cc0" stroke="#000" stroke-width="1.0"/>
<circle cx="402.30" cy="33.60" r="3.55" fill="#3d6cc0" stroke="#000" stroke-width="1.0"/>
<circle cx="349.50" cy="142.90" r="3.55" fill="#3d6cc0" stroke="#000" stroke-width="1.0"/>
<circle cx="365.80" cy="155.40" r="3.55" fill="#3d6cc0" stroke="#000" stroke-width="1.0"/>
<circle cx="521.30" cy="60.80" r="3.55" fill="#3d6cc0" stroke="#000" stroke-width="1.0"/>
<circle cx="532.90" cy="104.70" r="3.55" fill="#3d6cc0" stroke="#000" stroke-width="1.0"/>
<text x="276.70" y="43.30" font-size="8.6" text-anchor="start" font-weight="normal" fill="#231f20" >bnD.14</text>
<text x="344.90" y="44.60" font-size="8.6" text-anchor="start" font-weight="normal" fill="#231f20" >bnD.8</text>
<text x="388.00" y="49.00" font-size="8.6" text-anchor="start" font-weight="normal" fill="#231f20" >bnD.11</text>
<text x="436.60" y="43.50" font-size="8.6" text-anchor="start" font-weight="normal" fill="#231f20" >bnD.15</text>
<text x="325.00" y="135.50" font-size="8.6" text-anchor="start" font-weight="normal" fill="#231f20" >bnD.9</text>
<text x="329.90" y="155.80" font-size="8.6" text-anchor="start" font-weight="normal" fill="#231f20" >bnD.10</text>
<text x="527.70" y="73.80" font-size="8.6" text-anchor="start" font-weight="normal" fill="#231f20" >bnD.12</text>
<text x="525.70" y="96.30" font-size="8.6" text-anchor="start" font-weight="normal" fill="#231f20" >bnD.13</text>
<text x="580.60" y="49.50" font-size="8.6" text-anchor="start" font-weight="normal" fill="#231f20" >bnD.4</text>
<line x1="373.80" y1="38.00" x2="381.50" y2="35.80" stroke="#111" stroke-width="0.8" />
<line x1="406.50" y1="35.40" x2="430.70" y2="40.20" stroke="#111" stroke-width="0.8" />
<path d="M580.20,167.47 L582.65,171.71 L577.75,171.71 Z" fill="#fff" stroke="#111" stroke-width="1.05" stroke-linejoin="round"/>
<path d="M580.90,167.47 L583.35,171.71 L578.45,171.71 Z" fill="#fff" stroke="#111" stroke-width="1.05" stroke-linejoin="round"/>
<path d="M581.60,167.47 L584.05,171.71 L579.15,171.71 Z" fill="#fff" stroke="#111" stroke-width="1.05" stroke-linejoin="round"/>
<path d="M582.30,167.47 L584.75,171.71 L579.85,171.71 Z" fill="#fff" stroke="#111" stroke-width="1.05" stroke-linejoin="round"/>
<path d="M583.00,167.47 L585.45,171.71 L580.55,171.71 Z" fill="#fff" stroke="#111" stroke-width="1.05" stroke-linejoin="round"/>
<path d="M583.70,167.47 L586.15,171.71 L581.25,171.71 Z" fill="#fff" stroke="#111" stroke-width="1.05" stroke-linejoin="round"/>
<path d="M584.40,167.47 L586.85,171.71 L581.95,171.71 Z" fill="#fff" stroke="#111" stroke-width="1.05" stroke-linejoin="round"/>
<path d="M585.10,167.47 L587.55,171.71 L582.65,171.71 Z" fill="#fff" stroke="#111" stroke-width="1.05" stroke-linejoin="round"/>
<path d="M585.80,167.47 L588.25,171.71 L583.35,171.71 Z" fill="#fff" stroke="#111" stroke-width="1.05" stroke-linejoin="round"/>
<path d="M586.50,167.47 L588.95,171.71 L584.05,171.71 Z" fill="#fff" stroke="#111" stroke-width="1.05" stroke-linejoin="round"/>
<path d="M587.20,167.47 L589.65,171.71 L584.75,171.71 Z" fill="#fff" stroke="#111" stroke-width="1.05" stroke-linejoin="round"/>
<path d="M587.90,167.47 L590.35,171.71 L585.45,171.71 Z" fill="#fff" stroke="#111" stroke-width="1.05" stroke-linejoin="round"/>
<path d="M588.60,167.47 L591.05,171.71 L586.15,171.71 Z" fill="#fff" stroke="#111" stroke-width="1.05" stroke-linejoin="round"/>
<path d="M589.30,167.47 L591.75,171.71 L586.85,171.71 Z" fill="#fff" stroke="#111" stroke-width="1.05" stroke-linejoin="round"/>
<path d="M590.00,167.47 L592.45,171.71 L587.55,171.71 Z" fill="#fff" stroke="#111" stroke-width="1.05" stroke-linejoin="round"/>
<path d="M590.70,167.47 L593.15,171.71 L588.25,171.71 Z" fill="#fff" stroke="#111" stroke-width="1.05" stroke-linejoin="round"/>
<path d="M591.40,167.47 L593.85,171.71 L588.95,171.71 Z" fill="#fff" stroke="#111" stroke-width="1.05" stroke-linejoin="round"/>
<path d="M592.10,167.47 L594.55,171.71 L589.65,171.71 Z" fill="#fff" stroke="#111" stroke-width="1.05" stroke-linejoin="round"/>
<path d="M592.80,167.47 L595.25,171.71 L590.35,171.71 Z" fill="#fff" stroke="#111" stroke-width="1.05" stroke-linejoin="round"/>
<path d="M593.50,167.47 L595.95,171.71 L591.05,171.71 Z" fill="#fff" stroke="#111" stroke-width="1.05" stroke-linejoin="round"/>
<path d="M594.20,167.47 L596.65,171.71 L591.75,171.71 Z" fill="#fff" stroke="#111" stroke-width="1.05" stroke-linejoin="round"/>
<path d="M594.90,167.47 L597.35,171.71 L592.45,171.71 Z" fill="#fff" stroke="#111" stroke-width="1.05" stroke-linejoin="round"/>
<path d="M595.60,167.47 L598.05,171.71 L593.15,171.71 Z" fill="#fff" stroke="#111" stroke-width="1.05" stroke-linejoin="round"/>
<path d="M596.30,167.47 L598.75,171.71 L593.85,171.71 Z" fill="#fff" stroke="#111" stroke-width="1.05" stroke-linejoin="round"/>
<path d="M597.00,167.47 L599.45,171.71 L594.55,171.71 Z" fill="#fff" stroke="#111" stroke-width="1.05" stroke-linejoin="round"/>
<path d="M597.70,167.47 L600.15,171.71 L595.25,171.71 Z" fill="#fff" stroke="#111" stroke-width="1.05" stroke-linejoin="round"/>
<path d="M598.40,167.47 L600.85,171.71 L595.95,171.71 Z" fill="#fff" stroke="#111" stroke-width="1.05" stroke-linejoin="round"/>
<path d="M599.10,167.47 L601.55,171.71 L596.65,171.71 Z" fill="#fff" stroke="#111" stroke-width="1.05" stroke-linejoin="round"/>
<path d="M599.80,167.47 L602.25,171.71 L597.35,171.71 Z" fill="#fff" stroke="#111" stroke-width="1.05" stroke-linejoin="round"/>
<path d="M600.50,167.47 L602.95,171.71 L598.05,171.71 Z" fill="#fff" stroke="#111" stroke-width="1.05" stroke-linejoin="round"/>
<path d="M601.20,167.47 L603.65,171.71 L598.75,171.71 Z" fill="#fff" stroke="#111" stroke-width="1.05" stroke-linejoin="round"/>
<path d="M601.90,167.47 L604.35,171.71 L599.45,171.71 Z" fill="#fff" stroke="#111" stroke-width="1.05" stroke-linejoin="round"/>
<path d="M602.60,167.47 L605.05,171.71 L600.15,171.71 Z" fill="#fff" stroke="#111" stroke-width="1.05" stroke-linejoin="round"/>
<path d="M603.30,167.47 L605.75,171.71 L600.85,171.71 Z" fill="#fff" stroke="#111" stroke-width="1.05" stroke-linejoin="round"/>
<path d="M604.00,167.47 L606.45,171.71 L601.55,171.71 Z" fill="#fff" stroke="#111" stroke-width="1.05" stroke-linejoin="round"/>
<path d="M604.70,167.47 L607.15,171.71 L602.25,171.71 Z" fill="#fff" stroke="#111" stroke-width="1.05" stroke-linejoin="round"/>
<path d="M605.40,167.47 L607.85,171.71 L602.95,171.71 Z" fill="#fff" stroke="#111" stroke-width="1.05" stroke-linejoin="round"/>
<path d="M606.10,167.47 L608.55,171.71 L603.65,171.71 Z" fill="#fff" stroke="#111" stroke-width="1.05" stroke-linejoin="round"/>
<path d="M606.80,167.47 L609.25,171.71 L604.35,171.71 Z" fill="#fff" stroke="#111" stroke-width="1.05" stroke-linejoin="round"/>
<path d="M607.50,167.47 L609.95,171.71 L605.05,171.71 Z" fill="#fff" stroke="#111" stroke-width="1.05" stroke-linejoin="round"/>
<path d="M608.20,167.47 L610.65,171.71 L605.75,171.71 Z" fill="#fff" stroke="#111" stroke-width="1.05" stroke-linejoin="round"/>
<path d="M612.60,167.47 L615.05,171.71 L610.15,171.71 Z" fill="#fff" stroke="#111" stroke-width="1.05" stroke-linejoin="round"/>
<path d="M613.30,167.47 L615.75,171.71 L610.85,171.71 Z" fill="#fff" stroke="#111" stroke-width="1.05" stroke-linejoin="round"/>
<path d="M614.00,167.47 L616.45,171.71 L611.55,171.71 Z" fill="#fff" stroke="#111" stroke-width="1.05" stroke-linejoin="round"/>
<path d="M614.70,167.47 L617.15,171.71 L612.25,171.71 Z" fill="#fff" stroke="#111" stroke-width="1.05" stroke-linejoin="round"/>
<path d="M615.40,167.47 L617.85,171.71 L612.95,171.71 Z" fill="#fff" stroke="#111" stroke-width="1.05" stroke-linejoin="round"/>
<path d="M616.10,167.47 L618.55,171.71 L613.65,171.71 Z" fill="#fff" stroke="#111" stroke-width="1.05" stroke-linejoin="round"/>
<path d="M616.80,167.47 L619.25,171.71 L614.35,171.71 Z" fill="#fff" stroke="#111" stroke-width="1.05" stroke-linejoin="round"/>
<path d="M617.50,167.47 L619.95,171.71 L615.05,171.71 Z" fill="#fff" stroke="#111" stroke-width="1.05" stroke-linejoin="round"/>
<path d="M618.20,167.47 L620.65,171.71 L615.75,171.71 Z" fill="#fff" stroke="#111" stroke-width="1.05" stroke-linejoin="round"/>
<path d="M618.90,167.47 L621.35,171.71 L616.45,171.71 Z" fill="#fff" stroke="#111" stroke-width="1.05" stroke-linejoin="round"/>
<path d="M619.60,167.47 L622.05,171.71 L617.15,171.71 Z" fill="#fff" stroke="#111" stroke-width="1.05" stroke-linejoin="round"/>
<path d="M620.30,167.47 L622.75,171.71 L617.85,171.71 Z" fill="#fff" stroke="#111" stroke-width="1.05" stroke-linejoin="round"/>
<path d="M621.00,167.47 L623.45,171.71 L618.55,171.71 Z" fill="#fff" stroke="#111" stroke-width="1.05" stroke-linejoin="round"/>
<path d="M621.70,167.47 L624.15,171.71 L619.25,171.71 Z" fill="#fff" stroke="#111" stroke-width="1.05" stroke-linejoin="round"/>
<path d="M622.40,167.47 L624.85,171.71 L619.95,171.71 Z" fill="#fff" stroke="#111" stroke-width="1.05" stroke-linejoin="round"/>
<path d="M623.10,167.47 L625.55,171.71 L620.65,171.71 Z" fill="#fff" stroke="#111" stroke-width="1.05" stroke-linejoin="round"/>
<path d="M623.80,167.47 L626.25,171.71 L621.35,171.71 Z" fill="#fff" stroke="#111" stroke-width="1.05" stroke-linejoin="round"/>
<path d="M624.50,167.47 L626.95,171.71 L622.05,171.71 Z" fill="#fff" stroke="#111" stroke-width="1.05" stroke-linejoin="round"/>
<path d="M625.20,167.47 L627.65,171.71 L622.75,171.71 Z" fill="#fff" stroke="#111" stroke-width="1.05" stroke-linejoin="round"/>
<path d="M625.90,167.47 L628.35,171.71 L623.45,171.71 Z" fill="#fff" stroke="#111" stroke-width="1.05" stroke-linejoin="round"/>
<path d="M626.60,167.47 L629.05,171.71 L624.15,171.71 Z" fill="#fff" stroke="#111" stroke-width="1.05" stroke-linejoin="round"/>
<path d="M627.30,167.47 L629.75,171.71 L624.85,171.71 Z" fill="#fff" stroke="#111" stroke-width="1.05" stroke-linejoin="round"/>
<path d="M628.00,167.47 L630.45,171.71 L625.55,171.71 Z" fill="#fff" stroke="#111" stroke-width="1.05" stroke-linejoin="round"/>
<path d="M628.70,167.47 L631.15,171.71 L626.25,171.71 Z" fill="#fff" stroke="#111" stroke-width="1.05" stroke-linejoin="round"/>
<path d="M629.40,167.47 L631.85,171.71 L626.95,171.71 Z" fill="#fff" stroke="#111" stroke-width="1.05" stroke-linejoin="round"/>
<path d="M630.10,167.47 L632.55,171.71 L627.65,171.71 Z" fill="#fff" stroke="#111" stroke-width="1.05" stroke-linejoin="round"/>
<path d="M630.80,167.47 L633.25,171.71 L628.35,171.71 Z" fill="#fff" stroke="#111" stroke-width="1.05" stroke-linejoin="round"/>
<path d="M631.50,167.47 L633.95,171.71 L629.05,171.71 Z" fill="#fff" stroke="#111" stroke-width="1.05" stroke-linejoin="round"/>
<path d="M638.20,167.47 L640.65,171.71 L635.75,171.71 Z" fill="#fff" stroke="#111" stroke-width="1.05" stroke-linejoin="round"/>
<path d="M638.90,167.47 L641.35,171.71 L636.45,171.71 Z" fill="#fff" stroke="#111" stroke-width="1.05" stroke-linejoin="round"/>
<path d="M639.60,167.47 L642.05,171.71 L637.15,171.71 Z" fill="#fff" stroke="#111" stroke-width="1.05" stroke-linejoin="round"/>
<path d="M640.30,167.47 L642.75,171.71 L637.85,171.71 Z" fill="#fff" stroke="#111" stroke-width="1.05" stroke-linejoin="round"/>
<path d="M641.00,167.47 L643.45,171.71 L638.55,171.71 Z" fill="#fff" stroke="#111" stroke-width="1.05" stroke-linejoin="round"/>
<path d="M641.70,167.47 L644.15,171.71 L639.25,171.71 Z" fill="#fff" stroke="#111" stroke-width="1.05" stroke-linejoin="round"/>
<path d="M642.40,167.47 L644.85,171.71 L639.95,171.71 Z" fill="#fff" stroke="#111" stroke-width="1.05" stroke-linejoin="round"/>
<path d="M643.10,167.47 L645.55,171.71 L640.65,171.71 Z" fill="#fff" stroke="#111" stroke-width="1.05" stroke-linejoin="round"/>
<path d="M643.80,167.47 L646.25,171.71 L641.35,171.71 Z" fill="#fff" stroke="#111" stroke-width="1.05" stroke-linejoin="round"/>
<path d="M644.50,167.47 L646.95,171.71 L642.05,171.71 Z" fill="#fff" stroke="#111" stroke-width="1.05" stroke-linejoin="round"/>
<path d="M645.20,167.47 L647.65,171.71 L642.75,171.71 Z" fill="#fff" stroke="#111" stroke-width="1.05" stroke-linejoin="round"/>
<path d="M645.90,167.47 L648.35,171.71 L643.45,171.71 Z" fill="#fff" stroke="#111" stroke-width="1.05" stroke-linejoin="round"/>
<path d="M646.60,167.47 L649.05,171.71 L644.15,171.71 Z" fill="#fff" stroke="#111" stroke-width="1.05" stroke-linejoin="round"/>
<path d="M647.30,167.47 L649.75,171.71 L644.85,171.71 Z" fill="#fff" stroke="#111" stroke-width="1.05" stroke-linejoin="round"/>
<path d="M648.00,167.47 L650.45,171.71 L645.55,171.71 Z" fill="#fff" stroke="#111" stroke-width="1.05" stroke-linejoin="round"/>
<path d="M648.70,167.47 L651.15,171.71 L646.25,171.71 Z" fill="#fff" stroke="#111" stroke-width="1.05" stroke-linejoin="round"/>
<path d="M649.40,167.47 L651.85,171.71 L646.95,171.71 Z" fill="#fff" stroke="#111" stroke-width="1.05" stroke-linejoin="round"/>
<path d="M650.10,167.47 L652.55,171.71 L647.65,171.71 Z" fill="#fff" stroke="#111" stroke-width="1.05" stroke-linejoin="round"/>
<path d="M650.80,167.47 L653.25,171.71 L648.35,171.71 Z" fill="#fff" stroke="#111" stroke-width="1.05" stroke-linejoin="round"/>
<path d="M651.50,167.47 L653.95,171.71 L649.05,171.71 Z" fill="#fff" stroke="#111" stroke-width="1.05" stroke-linejoin="round"/>
<path d="M652.20,167.47 L654.65,171.71 L649.75,171.71 Z" fill="#fff" stroke="#111" stroke-width="1.05" stroke-linejoin="round"/>
<path d="M652.90,167.47 L655.35,171.71 L650.45,171.71 Z" fill="#fff" stroke="#111" stroke-width="1.05" stroke-linejoin="round"/>
<path d="M653.60,167.47 L656.05,171.71 L651.15,171.71 Z" fill="#fff" stroke="#111" stroke-width="1.05" stroke-linejoin="round"/>
<path d="M654.30,167.47 L656.75,171.71 L651.85,171.71 Z" fill="#fff" stroke="#111" stroke-width="1.05" stroke-linejoin="round"/>
<path d="M655.00,167.47 L657.45,171.71 L652.55,171.71 Z" fill="#fff" stroke="#111" stroke-width="1.05" stroke-linejoin="round"/>
<path d="M655.70,167.47 L658.15,171.71 L653.25,171.71 Z" fill="#fff" stroke="#111" stroke-width="1.05" stroke-linejoin="round"/>
<path d="M656.40,167.47 L658.85,171.71 L653.95,171.71 Z" fill="#fff" stroke="#111" stroke-width="1.05" stroke-linejoin="round"/>
<path d="M657.10,167.47 L659.55,171.71 L654.65,171.71 Z" fill="#fff" stroke="#111" stroke-width="1.05" stroke-linejoin="round"/>
<path d="M657.80,167.47 L660.25,171.71 L655.35,171.71 Z" fill="#fff" stroke="#111" stroke-width="1.05" stroke-linejoin="round"/>
<path d="M658.50,167.47 L660.95,171.71 L656.05,171.71 Z" fill="#fff" stroke="#111" stroke-width="1.05" stroke-linejoin="round"/>
<path d="M659.20,167.47 L661.65,171.71 L656.75,171.71 Z" fill="#fff" stroke="#111" stroke-width="1.05" stroke-linejoin="round"/>
<path d="M659.90,167.47 L662.35,171.71 L657.45,171.71 Z" fill="#fff" stroke="#111" stroke-width="1.05" stroke-linejoin="round"/>
<path d="M660.60,167.47 L663.05,171.71 L658.15,171.71 Z" fill="#fff" stroke="#111" stroke-width="1.05" stroke-linejoin="round"/>
<path d="M661.30,167.47 L663.75,171.71 L658.85,171.71 Z" fill="#fff" stroke="#111" stroke-width="1.05" stroke-linejoin="round"/>
<path d="M662.00,167.47 L664.45,171.71 L659.55,171.71 Z" fill="#fff" stroke="#111" stroke-width="1.05" stroke-linejoin="round"/>
<path d="M662.70,167.47 L665.15,171.71 L660.25,171.71 Z" fill="#fff" stroke="#111" stroke-width="1.05" stroke-linejoin="round"/>
<path d="M668.60,167.47 L671.05,171.71 L666.15,171.71 Z" fill="#fff" stroke="#111" stroke-width="1.05" stroke-linejoin="round"/>
<path d="M669.30,167.47 L671.75,171.71 L666.85,171.71 Z" fill="#fff" stroke="#111" stroke-width="1.05" stroke-linejoin="round"/>
<path d="M670.00,167.47 L672.45,171.71 L667.55,171.71 Z" fill="#fff" stroke="#111" stroke-width="1.05" stroke-linejoin="round"/>
<path d="M670.70,167.47 L673.15,171.71 L668.25,171.71 Z" fill="#fff" stroke="#111" stroke-width="1.05" stroke-linejoin="round"/>
<path d="M671.40,167.47 L673.85,171.71 L668.95,171.71 Z" fill="#fff" stroke="#111" stroke-width="1.05" stroke-linejoin="round"/>
<path d="M672.10,167.47 L674.55,171.71 L669.65,171.71 Z" fill="#fff" stroke="#111" stroke-width="1.05" stroke-linejoin="round"/>
<path d="M672.80,167.47 L675.25,171.71 L670.35,171.71 Z" fill="#fff" stroke="#111" stroke-width="1.05" stroke-linejoin="round"/>
<path d="M673.50,167.47 L675.95,171.71 L671.05,171.71 Z" fill="#fff" stroke="#111" stroke-width="1.05" stroke-linejoin="round"/>
<path d="M674.20,167.47 L676.65,171.71 L671.75,171.71 Z" fill="#fff" stroke="#111" stroke-width="1.05" stroke-linejoin="round"/>
<path d="M674.90,167.47 L677.35,171.71 L672.45,171.71 Z" fill="#fff" stroke="#111" stroke-width="1.05" stroke-linejoin="round"/>
<path d="M675.60,167.47 L678.05,171.71 L673.15,171.71 Z" fill="#fff" stroke="#111" stroke-width="1.05" stroke-linejoin="round"/>
<path d="M676.30,167.47 L678.75,171.71 L673.85,171.71 Z" fill="#fff" stroke="#111" stroke-width="1.05" stroke-linejoin="round"/>
<path d="M677.00,167.47 L679.45,171.71 L674.55,171.71 Z" fill="#fff" stroke="#111" stroke-width="1.05" stroke-linejoin="round"/>
<path d="M677.70,167.47 L680.15,171.71 L675.25,171.71 Z" fill="#fff" stroke="#111" stroke-width="1.05" stroke-linejoin="round"/>
<path d="M678.40,167.47 L680.85,171.71 L675.95,171.71 Z" fill="#fff" stroke="#111" stroke-width="1.05" stroke-linejoin="round"/>
<path d="M679.10,167.47 L681.55,171.71 L676.65,171.71 Z" fill="#fff" stroke="#111" stroke-width="1.05" stroke-linejoin="round"/>
<path d="M679.80,167.47 L682.25,171.71 L677.35,171.71 Z" fill="#fff" stroke="#111" stroke-width="1.05" stroke-linejoin="round"/>
<path d="M680.50,167.47 L682.95,171.71 L678.05,171.71 Z" fill="#fff" stroke="#111" stroke-width="1.05" stroke-linejoin="round"/>
<path d="M573.30,167.57 L575.75,171.81 L570.85,171.81 Z" fill="#fff" stroke="#111" stroke-width="1.05" stroke-linejoin="round"/>
<path d="M582.10,58.27 L584.55,62.51 L579.65,62.51 Z" fill="#fff" stroke="#111" stroke-width="1.05" stroke-linejoin="round"/>
<path d="M584.90,58.27 L587.35,62.51 L582.45,62.51 Z" fill="#fff" stroke="#111" stroke-width="1.05" stroke-linejoin="round"/>
<path d="M590.00,58.27 L592.45,62.51 L587.55,62.51 Z" fill="#fff" stroke="#111" stroke-width="1.05" stroke-linejoin="round"/>
<path d="M581.60,102.17 L584.05,106.41 L579.15,106.41 Z" fill="#fff" stroke="#111" stroke-width="1.05" stroke-linejoin="round"/>
<path d="M585.80,102.17 L588.25,106.41 L583.35,106.41 Z" fill="#fff" stroke="#111" stroke-width="1.05" stroke-linejoin="round"/>
<path d="M587.10,102.17 L589.55,106.41 L584.65,106.41 Z" fill="#fff" stroke="#111" stroke-width="1.05" stroke-linejoin="round"/>
<path d="M591.70,116.87 L594.15,121.11 L589.25,121.11 Z" fill="#fff" stroke="#111" stroke-width="1.05" stroke-linejoin="round"/>
<path d="M604.50,135.27 L606.95,139.51 L602.05,139.51 Z" fill="#fff" stroke="#111" stroke-width="1.05" stroke-linejoin="round"/>
<path d="M590.50,139.97 L592.95,144.21 L588.05,144.21 Z" fill="#fff" stroke="#111" stroke-width="1.05" stroke-linejoin="round"/>
<path d="M592.50,139.97 L594.95,144.21 L590.05,144.21 Z" fill="#fff" stroke="#111" stroke-width="1.05" stroke-linejoin="round"/>
<path d="M601.00,140.47 L603.45,144.71 L598.55,144.71 Z" fill="#fff" stroke="#111" stroke-width="1.05" stroke-linejoin="round"/>
<path d="M606.50,140.47 L608.95,144.71 L604.05,144.71 Z" fill="#fff" stroke="#111" stroke-width="1.05" stroke-linejoin="round"/>
<path d="M603.70,137.87 L606.15,142.11 L601.25,142.11 Z" fill="#fff" stroke="#111" stroke-width="1.05" stroke-linejoin="round"/>
<path d="M587.60,145.77 L590.05,150.01 L585.15,150.01 Z" fill="#fff" stroke="#111" stroke-width="1.05" stroke-linejoin="round"/>
<path d="M589.00,146.07 L591.45,150.31 L586.55,150.31 Z" fill="#fff" stroke="#111" stroke-width="1.05" stroke-linejoin="round"/>
<path d="M590.80,146.07 L593.25,150.31 L588.35,150.31 Z" fill="#fff" stroke="#111" stroke-width="1.05" stroke-linejoin="round"/>
<path d="M593.40,146.07 L595.85,150.31 L590.95,150.31 Z" fill="#fff" stroke="#111" stroke-width="1.05" stroke-linejoin="round"/>
<path d="M600.10,146.07 L602.55,150.31 L597.65,150.31 Z" fill="#fff" stroke="#111" stroke-width="1.05" stroke-linejoin="round"/>
<path d="M583.20,151.87 L585.65,156.11 L580.75,156.11 Z" fill="#fff" stroke="#111" stroke-width="1.05" stroke-linejoin="round"/>
<path d="M594.30,153.37 L596.75,157.61 L591.85,157.61 Z" fill="#fff" stroke="#111" stroke-width="1.05" stroke-linejoin="round"/>
<path d="M585.20,156.87 L587.65,161.11 L582.75,161.11 Z" fill="#fff" stroke="#111" stroke-width="1.05" stroke-linejoin="round"/>
<path d="M589.00,156.57 L591.45,160.81 L586.55,160.81 Z" fill="#fff" stroke="#111" stroke-width="1.05" stroke-linejoin="round"/>
<path d="M603.00,157.17 L605.45,161.41 L600.55,161.41 Z" fill="#fff" stroke="#111" stroke-width="1.05" stroke-linejoin="round"/>
<path d="M586.50,159.87 L588.95,164.11 L584.05,164.11 Z" fill="#fff" stroke="#111" stroke-width="1.05" stroke-linejoin="round"/>
<path d="M589.30,160.67 L591.75,164.91 L586.85,164.91 Z" fill="#fff" stroke="#111" stroke-width="1.05" stroke-linejoin="round"/>
<path d="M594.90,161.87 L597.35,166.11 L592.45,166.11 Z" fill="#fff" stroke="#111" stroke-width="1.05" stroke-linejoin="round"/>
<path d="M603.00,162.37 L605.45,166.61 L600.55,166.61 Z" fill="#fff" stroke="#111" stroke-width="1.05" stroke-linejoin="round"/>
<path d="M584.00,162.87 L586.45,167.11 L581.55,167.11 Z" fill="#fff" stroke="#111" stroke-width="1.05" stroke-linejoin="round"/>
<path d="M591.50,163.37 L593.95,167.61 L589.05,167.61 Z" fill="#fff" stroke="#111" stroke-width="1.05" stroke-linejoin="round"/>
<path d="M597.50,163.67 L599.95,167.91 L595.05,167.91 Z" fill="#fff" stroke="#111" stroke-width="1.05" stroke-linejoin="round"/>
<path d="M600.50,163.17 L602.95,167.41 L598.05,167.41 Z" fill="#fff" stroke="#111" stroke-width="1.05" stroke-linejoin="round"/>
<path d="M606.00,163.87 L608.45,168.11 L603.55,168.11 Z" fill="#fff" stroke="#111" stroke-width="1.05" stroke-linejoin="round"/>
<path d="M588.00,164.37 L590.45,168.61 L585.55,168.61 Z" fill="#fff" stroke="#111" stroke-width="1.05" stroke-linejoin="round"/>
<path d="M581.50,164.87 L583.95,169.11 L579.05,169.11 Z" fill="#fff" stroke="#111" stroke-width="1.05" stroke-linejoin="round"/>
<path d="M595.50,165.17 L597.95,169.41 L593.05,169.41 Z" fill="#fff" stroke="#111" stroke-width="1.05" stroke-linejoin="round"/>
<path d="M602.50,165.37 L604.95,169.61 L600.05,169.61 Z" fill="#fff" stroke="#111" stroke-width="1.05" stroke-linejoin="round"/>
<path d="M607.50,165.37 L609.95,169.61 L605.05,169.61 Z" fill="#fff" stroke="#111" stroke-width="1.05" stroke-linejoin="round"/>
<path d="M623.60,94.77 L626.05,99.01 L621.15,99.01 Z" fill="#fff" stroke="#111" stroke-width="1.05" stroke-linejoin="round"/>
<path d="M628.20,150.97 L630.65,155.21 L625.75,155.21 Z" fill="#fff" stroke="#111" stroke-width="1.05" stroke-linejoin="round"/>
<path d="M627.80,156.57 L630.25,160.81 L625.35,160.81 Z" fill="#fff" stroke="#111" stroke-width="1.05" stroke-linejoin="round"/>
<path d="M621.40,162.07 L623.85,166.31 L618.95,166.31 Z" fill="#fff" stroke="#111" stroke-width="1.05" stroke-linejoin="round"/>
<path d="M629.50,165.37 L631.95,169.61 L627.05,169.61 Z" fill="#fff" stroke="#111" stroke-width="1.05" stroke-linejoin="round"/>
<path d="M647.50,52.97 L649.95,57.21 L645.05,57.21 Z" fill="#fff" stroke="#111" stroke-width="1.05" stroke-linejoin="round"/>
<path d="M640.50,76.77 L642.95,81.01 L638.05,81.01 Z" fill="#fff" stroke="#111" stroke-width="1.05" stroke-linejoin="round"/>
<path d="M657.70,76.77 L660.15,81.01 L655.25,81.01 Z" fill="#fff" stroke="#111" stroke-width="1.05" stroke-linejoin="round"/>
<path d="M637.90,98.57 L640.35,102.81 L635.45,102.81 Z" fill="#fff" stroke="#111" stroke-width="1.05" stroke-linejoin="round"/>
<path d="M643.30,98.57 L645.75,102.81 L640.85,102.81 Z" fill="#fff" stroke="#111" stroke-width="1.05" stroke-linejoin="round"/>
<path d="M659.20,98.57 L661.65,102.81 L656.75,102.81 Z" fill="#fff" stroke="#111" stroke-width="1.05" stroke-linejoin="round"/>
<path d="M638.30,107.77 L640.75,112.01 L635.85,112.01 Z" fill="#fff" stroke="#111" stroke-width="1.05" stroke-linejoin="round"/>
<path d="M643.80,107.77 L646.25,112.01 L641.35,112.01 Z" fill="#fff" stroke="#111" stroke-width="1.05" stroke-linejoin="round"/>
<path d="M655.80,107.77 L658.25,112.01 L653.35,112.01 Z" fill="#fff" stroke="#111" stroke-width="1.05" stroke-linejoin="round"/>
<path d="M662.30,107.77 L664.75,112.01 L659.85,112.01 Z" fill="#fff" stroke="#111" stroke-width="1.05" stroke-linejoin="round"/>
<path d="M652.70,117.07 L655.15,121.31 L650.25,121.31 Z" fill="#fff" stroke="#111" stroke-width="1.05" stroke-linejoin="round"/>
<path d="M661.70,117.07 L664.15,121.31 L659.25,121.31 Z" fill="#fff" stroke="#111" stroke-width="1.05" stroke-linejoin="round"/>
<path d="M646.70,132.87 L649.15,137.11 L644.25,137.11 Z" fill="#fff" stroke="#111" stroke-width="1.05" stroke-linejoin="round"/>
<path d="M648.30,132.57 L650.75,136.81 L645.85,136.81 Z" fill="#fff" stroke="#111" stroke-width="1.05" stroke-linejoin="round"/>
<path d="M649.80,132.87 L652.25,137.11 L647.35,137.11 Z" fill="#fff" stroke="#111" stroke-width="1.05" stroke-linejoin="round"/>
<path d="M652.10,132.87 L654.55,137.11 L649.65,137.11 Z" fill="#fff" stroke="#111" stroke-width="1.05" stroke-linejoin="round"/>
<path d="M654.40,132.87 L656.85,137.11 L651.95,137.11 Z" fill="#fff" stroke="#111" stroke-width="1.05" stroke-linejoin="round"/>
<path d="M655.20,133.17 L657.65,137.41 L652.75,137.41 Z" fill="#fff" stroke="#111" stroke-width="1.05" stroke-linejoin="round"/>
<path d="M642.10,138.37 L644.55,142.61 L639.65,142.61 Z" fill="#fff" stroke="#111" stroke-width="1.05" stroke-linejoin="round"/>
<path d="M643.60,138.07 L646.05,142.31 L641.15,142.31 Z" fill="#fff" stroke="#111" stroke-width="1.05" stroke-linejoin="round"/>
<path d="M646.30,138.57 L648.75,142.81 L643.85,142.81 Z" fill="#fff" stroke="#111" stroke-width="1.05" stroke-linejoin="round"/>
<path d="M639.70,144.47 L642.15,148.71 L637.25,148.71 Z" fill="#fff" stroke="#111" stroke-width="1.05" stroke-linejoin="round"/>
<path d="M651.00,144.47 L653.45,148.71 L648.55,148.71 Z" fill="#fff" stroke="#111" stroke-width="1.05" stroke-linejoin="round"/>
<path d="M655.20,144.47 L657.65,148.71 L652.75,148.71 Z" fill="#fff" stroke="#111" stroke-width="1.05" stroke-linejoin="round"/>
<path d="M644.40,151.37 L646.85,155.61 L641.95,155.61 Z" fill="#fff" stroke="#111" stroke-width="1.05" stroke-linejoin="round"/>
<path d="M654.40,151.37 L656.85,155.61 L651.95,155.61 Z" fill="#fff" stroke="#111" stroke-width="1.05" stroke-linejoin="round"/>
<path d="M660.60,151.37 L663.05,155.61 L658.15,155.61 Z" fill="#fff" stroke="#111" stroke-width="1.05" stroke-linejoin="round"/>
<path d="M648.30,157.97 L650.75,162.21 L645.85,162.21 Z" fill="#fff" stroke="#111" stroke-width="1.05" stroke-linejoin="round"/>
<path d="M641.30,161.87 L643.75,166.11 L638.85,166.11 Z" fill="#fff" stroke="#111" stroke-width="1.05" stroke-linejoin="round"/>
<path d="M647.50,161.57 L649.95,165.81 L645.05,165.81 Z" fill="#fff" stroke="#111" stroke-width="1.05" stroke-linejoin="round"/>
<path d="M649.80,162.87 L652.25,167.11 L647.35,167.11 Z" fill="#fff" stroke="#111" stroke-width="1.05" stroke-linejoin="round"/>
<path d="M656.00,161.57 L658.45,165.81 L653.55,165.81 Z" fill="#fff" stroke="#111" stroke-width="1.05" stroke-linejoin="round"/>
<path d="M657.50,162.57 L659.95,166.81 L655.05,166.81 Z" fill="#fff" stroke="#111" stroke-width="1.05" stroke-linejoin="round"/>
<path d="M661.40,163.17 L663.85,167.41 L658.95,167.41 Z" fill="#fff" stroke="#111" stroke-width="1.05" stroke-linejoin="round"/>
<path d="M644.00,164.87 L646.45,169.11 L641.55,169.11 Z" fill="#fff" stroke="#111" stroke-width="1.05" stroke-linejoin="round"/>
<path d="M652.00,164.87 L654.45,169.11 L649.55,169.11 Z" fill="#fff" stroke="#111" stroke-width="1.05" stroke-linejoin="round"/>
<path d="M659.00,165.17 L661.45,169.41 L656.55,169.41 Z" fill="#fff" stroke="#111" stroke-width="1.05" stroke-linejoin="round"/>
<path d="M678.40,134.77 L680.85,139.01 L675.95,139.01 Z" fill="#fff" stroke="#111" stroke-width="1.05" stroke-linejoin="round"/>
<path d="M678.40,140.17 L680.85,144.41 L675.95,144.41 Z" fill="#fff" stroke="#111" stroke-width="1.05" stroke-linejoin="round"/>
<path d="M675.70,151.37 L678.15,155.61 L673.25,155.61 Z" fill="#fff" stroke="#111" stroke-width="1.05" stroke-linejoin="round"/>
<path d="M670.80,164.87 L673.25,169.11 L668.35,169.11 Z" fill="#fff" stroke="#111" stroke-width="1.05" stroke-linejoin="round"/>
<path d="M673.10,164.87 L675.55,169.11 L670.65,169.11 Z" fill="#fff" stroke="#111" stroke-width="1.05" stroke-linejoin="round"/>
<path d="M593.20,29.93 L596.90,36.33 L589.50,36.33 Z" fill="#e08a1c" stroke="#111" stroke-width="0.8" stroke-linejoin="round"/>
<text x="-0.30" y="238.00" font-size="13" text-anchor="start" font-weight="bold" fill="#000" >c</text>
<text x="7.90" y="244.30" font-size="9.2" text-anchor="start" font-weight="normal" fill="#231f20" >Geometric</text>
<text x="7.90" y="254.30" font-size="9.2" text-anchor="start" font-weight="normal" fill="#231f20" >mean</text>
<text x="7.9" y="264.4" font-size="9.2" fill="#231f20">IC<tspan font-size="6" dy="2">50</tspan><tspan dy="-2"> (nM)</tspan></text>
<text x="7.90" y="279.30" font-size="9.2" text-anchor="start" font-weight="normal" fill="#231f20" >Breadth</text>
<line x1="5.30" y1="270.00" x2="685.00" y2="270.00" stroke="#111" stroke-width="1.3" />
<line x1="48.20" y1="284.30" x2="48.20" y2="441.00" stroke="#777" stroke-width="0.8" />
<line x1="44.50" y1="441.00" x2="48.20" y2="441.00" stroke="#777" stroke-width="0.8" />
<line x1="46.30" y1="432.14" x2="48.20" y2="432.14" stroke="#777" stroke-width="0.6" />
<line x1="46.30" y1="426.96" x2="48.20" y2="426.96" stroke="#777" stroke-width="0.6" />
<line x1="46.30" y1="423.29" x2="48.20" y2="423.29" stroke="#777" stroke-width="0.6" />
<line x1="46.30" y1="420.44" x2="48.20" y2="420.44" stroke="#777" stroke-width="0.6" />
<line x1="46.30" y1="418.11" x2="48.20" y2="418.11" stroke="#777" stroke-width="0.6" />
<line x1="46.30" y1="416.14" x2="48.20" y2="416.14" stroke="#777" stroke-width="0.6" />
<line x1="46.30" y1="414.43" x2="48.20" y2="414.43" stroke="#777" stroke-width="0.6" />
<line x1="46.30" y1="412.93" x2="48.20" y2="412.93" stroke="#777" stroke-width="0.6" />
<line x1="44.50" y1="411.58" x2="48.20" y2="411.58" stroke="#777" stroke-width="0.8" />
<line x1="46.30" y1="402.72" x2="48.20" y2="402.72" stroke="#777" stroke-width="0.6" />
<line x1="46.30" y1="397.54" x2="48.20" y2="397.54" stroke="#777" stroke-width="0.6" />
<line x1="46.30" y1="393.87" x2="48.20" y2="393.87" stroke="#777" stroke-width="0.6" />
<line x1="46.30" y1="391.02" x2="48.20" y2="391.02" stroke="#777" stroke-width="0.6" />
<line x1="46.30" y1="388.69" x2="48.20" y2="388.69" stroke="#777" stroke-width="0.6" />
<line x1="46.30" y1="386.72" x2="48.20" y2="386.72" stroke="#777" stroke-width="0.6" />
<line x1="46.30" y1="385.01" x2="48.20" y2="385.01" stroke="#777" stroke-width="0.6" />
<line x1="46.30" y1="383.51" x2="48.20" y2="383.51" stroke="#777" stroke-width="0.6" />
<line x1="44.50" y1="382.16" x2="48.20" y2="382.16" stroke="#777" stroke-width="0.8" />
<line x1="46.30" y1="373.30" x2="48.20" y2="373.30" stroke="#777" stroke-width="0.6" />
<line x1="46.30" y1="368.12" x2="48.20" y2="368.12" stroke="#777" stroke-width="0.6" />
<line x1="46.30" y1="364.45" x2="48.20" y2="364.45" stroke="#777" stroke-width="0.6" />
<line x1="46.30" y1="361.60" x2="48.20" y2="361.60" stroke="#777" stroke-width="0.6" />
<line x1="46.30" y1="359.27" x2="48.20" y2="359.27" stroke="#777" stroke-width="0.6" />
<line x1="46.30" y1="357.30" x2="48.20" y2="357.30" stroke="#777" stroke-width="0.6" />
<line x1="46.30" y1="355.59" x2="48.20" y2="355.59" stroke="#777" stroke-width="0.6" />
<line x1="46.30" y1="354.09" x2="48.20" y2="354.09" stroke="#777" stroke-width="0.6" />
<line x1="44.50" y1="352.74" x2="48.20" y2="352.74" stroke="#777" stroke-width="0.8" />
<line x1="46.30" y1="343.88" x2="48.20" y2="343.88" stroke="#777" stroke-width="0.6" />
<line x1="46.30" y1="338.70" x2="48.20" y2="338.70" stroke="#777" stroke-width="0.6" />
<line x1="46.30" y1="335.03" x2="48.20" y2="335.03" stroke="#777" stroke-width="0.6" />
<line x1="46.30" y1="332.18" x2="48.20" y2="332.18" stroke="#777" stroke-width="0.6" />
<line x1="46.30" y1="329.85" x2="48.20" y2="329.85" stroke="#777" stroke-width="0.6" />
<line x1="46.30" y1="327.88" x2="48.20" y2="327.88" stroke="#777" stroke-width="0.6" />
<line x1="46.30" y1="326.17" x2="48.20" y2="326.17" stroke="#777" stroke-width="0.6" />
<line x1="46.30" y1="324.67" x2="48.20" y2="324.67" stroke="#777" stroke-width="0.6" />
<line x1="44.50" y1="323.32" x2="48.20" y2="323.32" stroke="#777" stroke-width="0.8" />
<line x1="46.30" y1="314.46" x2="48.20" y2="314.46" stroke="#777" stroke-width="0.6" />
<line x1="46.30" y1="309.28" x2="48.20" y2="309.28" stroke="#777" stroke-width="0.6" />
<line x1="46.30" y1="305.61" x2="48.20" y2="305.61" stroke="#777" stroke-width="0.6" />
<line x1="46.30" y1="302.76" x2="48.20" y2="302.76" stroke="#777" stroke-width="0.6" />
<line x1="46.30" y1="300.43" x2="48.20" y2="300.43" stroke="#777" stroke-width="0.6" />
<line x1="46.30" y1="298.46" x2="48.20" y2="298.46" stroke="#777" stroke-width="0.6" />
<line x1="46.30" y1="296.75" x2="48.20" y2="296.75" stroke="#777" stroke-width="0.6" />
<line x1="46.30" y1="295.25" x2="48.20" y2="295.25" stroke="#777" stroke-width="0.6" />
<line x1="44.50" y1="293.90" x2="48.20" y2="293.90" stroke="#777" stroke-width="0.8" />
<text x="41.20" y="443.90" font-size="8" text-anchor="end" font-weight="normal" fill="#333" >0.1</text>
<text x="41.20" y="414.48" font-size="8" text-anchor="end" font-weight="normal" fill="#333" >1</text>
<text x="41.20" y="385.06" font-size="8" text-anchor="end" font-weight="normal" fill="#333" >10</text>
<text x="41.20" y="355.64" font-size="8" text-anchor="end" font-weight="normal" fill="#333" >100</text>
<text x="41.20" y="326.22" font-size="8" text-anchor="end" font-weight="normal" fill="#333" >1,000</text>
<text x="41.20" y="296.80" font-size="8" text-anchor="end" font-weight="normal" fill="#333" >10,000</text>
<text transform="translate(8.6,362) rotate(-90)" font-size="8.8" text-anchor="middle" fill="#231f20">Neutralization</text>
<text transform="translate(17.2,362) rotate(-90)" font-size="8.8" text-anchor="middle" fill="#231f20">IC<tspan font-size="6" dy="2">50</tspan><tspan dy="-2"> (nM)</tspan></text>
<line x1="50" y1="293.90" x2="434" y2="293.90" stroke="#777" stroke-width="0.7" stroke-dasharray="0.8,1.6"/>
<rect x="56.20" y="346.73" width="27.6" height="94.67" fill="#d3d3d3"/>
<path d="M56.20,441.4 L56.20,346.73 L83.80,346.73 L83.80,441.4" fill="none" stroke="#111" stroke-width="1.15"/>
<text x="70.00" y="263.60" font-size="9" text-anchor="middle" font-weight="normal" fill="#231f20" >160</text>
<text x="70.00" y="279.30" font-size="9" text-anchor="middle" font-weight="normal" fill="#231f20" >71%</text>
<text x="69.10" y="455.60" font-size="8.8" text-anchor="middle" font-weight="normal" fill="#231f20" >bnD.8</text>
<line x1="70.00" y1="441.40" x2="70.00" y2="444.80" stroke="#777" stroke-width="0.9" />
<rect x="99.20" y="329.51" width="27.6" height="111.89" fill="#d3d3d3"/>
<path d="M99.20,441.4 L99.20,329.51 L126.80,329.51 L126.80,441.4" fill="none" stroke="#111" stroke-width="1.15"/>
<text x="113.00" y="263.60" font-size="9" text-anchor="middle" font-weight="normal" fill="#231f20" >616</text>
<text x="113.00" y="279.30" font-size="9" text-anchor="middle" font-weight="normal" fill="#231f20" >71%</text>
<text x="112.10" y="455.60" font-size="8.8" text-anchor="middle" font-weight="normal" fill="#231f20" >bnD.9</text>
<line x1="113.00" y1="441.40" x2="113.00" y2="444.80" stroke="#777" stroke-width="0.9" />
<rect x="142.20" y="309.47" width="27.6" height="131.93" fill="#d3d3d3"/>
<path d="M142.20,441.4 L142.20,309.47 L169.80,309.47 L169.80,441.4" fill="none" stroke="#111" stroke-width="1.15"/>
<text x="156.00" y="263.60" font-size="9" text-anchor="middle" font-weight="normal" fill="#231f20" >2,956</text>
<text x="156.00" y="279.30" font-size="9" text-anchor="middle" font-weight="normal" fill="#231f20" >62%</text>
<text x="155.10" y="455.60" font-size="8.8" text-anchor="middle" font-weight="normal" fill="#231f20" >bnD.10</text>
<line x1="156.00" y1="441.40" x2="156.00" y2="444.80" stroke="#777" stroke-width="0.9" />
<rect x="185.10" y="313.48" width="27.6" height="127.92" fill="#d3d3d3"/>
<path d="M185.10,441.4 L185.10,313.48 L212.70,313.48 L212.70,441.4" fill="none" stroke="#111" stroke-width="1.15"/>
<text x="198.90" y="263.60" font-size="9" text-anchor="middle" font-weight="normal" fill="#231f20" >2,160</text>
<text x="198.90" y="279.30" font-size="9" text-anchor="middle" font-weight="normal" fill="#231f20" >69%</text>
<text x="198.00" y="455.60" font-size="8.8" text-anchor="middle" font-weight="normal" fill="#231f20" >bnD.11</text>
<line x1="198.90" y1="441.40" x2="198.90" y2="444.80" stroke="#777" stroke-width="0.9" />
<rect x="228.30" y="342.78" width="27.6" height="98.62" fill="#d3d3d3"/>
<path d="M228.30,441.4 L228.30,342.78 L255.90,342.78 L255.90,441.4" fill="none" stroke="#111" stroke-width="1.15"/>
<text x="242.10" y="263.60" font-size="9" text-anchor="middle" font-weight="normal" fill="#231f20" >218</text>
<text x="242.10" y="279.30" font-size="9" text-anchor="middle" font-weight="normal" fill="#231f20" >79%</text>
<text x="241.20" y="455.60" font-size="8.8" text-anchor="middle" font-weight="normal" fill="#231f20" >bnD.12</text>
<line x1="242.10" y1="441.40" x2="242.10" y2="444.80" stroke="#777" stroke-width="0.9" />
<rect x="270.90" y="332.23" width="27.6" height="109.17" fill="#d3d3d3"/>
<path d="M270.90,441.4 L270.90,332.23 L298.50,332.23 L298.50,441.4" fill="none" stroke="#111" stroke-width="1.15"/>
<text x="284.70" y="263.60" font-size="9" text-anchor="middle" font-weight="normal" fill="#231f20" >498</text>
<text x="284.70" y="279.30" font-size="9" text-anchor="middle" font-weight="normal" fill="#231f20" >69%</text>
<text x="283.80" y="455.60" font-size="8.8" text-anchor="middle" font-weight="normal" fill="#231f20" >bnD.13</text>
<line x1="284.70" y1="441.40" x2="284.70" y2="444.80" stroke="#777" stroke-width="0.9" />
<rect x="313.80" y="349.49" width="27.6" height="91.91" fill="#d3d3d3"/>
<path d="M313.80,441.4 L313.80,349.49 L341.40,349.49 L341.40,441.4" fill="none" stroke="#111" stroke-width="1.15"/>
<text x="327.60" y="263.60" font-size="9" text-anchor="middle" font-weight="normal" fill="#231f20" >129</text>
<text x="327.60" y="279.30" font-size="9" text-anchor="middle" font-weight="normal" fill="#231f20" >74%</text>
<text x="326.70" y="455.60" font-size="8.8" text-anchor="middle" font-weight="normal" fill="#231f20" >bnD.14</text>
<line x1="327.60" y1="441.40" x2="327.60" y2="444.80" stroke="#777" stroke-width="0.9" />
<rect x="356.80" y="334.13" width="27.6" height="107.27" fill="#d3d3d3"/>
<path d="M356.80,441.4 L356.80,334.13 L384.40,334.13 L384.40,441.4" fill="none" stroke="#111" stroke-width="1.15"/>
<text x="370.60" y="263.60" font-size="9" text-anchor="middle" font-weight="normal" fill="#231f20" >429</text>
<text x="370.60" y="279.30" font-size="9" text-anchor="middle" font-weight="normal" fill="#231f20" >71%</text>
<text x="369.70" y="455.60" font-size="8.8" text-anchor="middle" font-weight="normal" fill="#231f20" >bnD.15</text>
<line x1="370.60" y1="441.40" x2="370.60" y2="444.80" stroke="#777" stroke-width="0.9" />
<rect x="399.70" y="357.30" width="27.6" height="84.10" fill="#d3d3d3"/>
<path d="M399.70,441.4 L399.70,357.30 L427.30,357.30 L427.30,441.4" fill="none" stroke="#111" stroke-width="1.15"/>
<text x="413.50" y="263.60" font-size="9" text-anchor="middle" font-weight="normal" fill="#231f20" >79</text>
<text x="413.50" y="279.30" font-size="9" text-anchor="middle" font-weight="normal" fill="#231f20" >100%</text>
<text x="412.60" y="455.60" font-size="8.8" text-anchor="middle" font-weight="normal" fill="#231f20" >bnD.4</text>
<line x1="413.50" y1="441.40" x2="413.50" y2="444.80" stroke="#777" stroke-width="0.9" />
<line x1="48.20" y1="441.40" x2="435.50" y2="441.40" stroke="#777" stroke-width="0.9" />
<text x="444.80" y="313.80" font-size="9" text-anchor="start" font-weight="normal" fill="#231f20" >Subtype</text>
<circle cx="449.20" cy="326.50" r="4.5" fill="#8181f7" stroke="#111" stroke-width="1.2"/>
<text x="458.1" y="329.70" font-size="8.45" fill="#231f20">A (<tspan font-style="italic">n</tspan> = 6)</text>
<circle cx="449.20" cy="341.20" r="4.5" fill="#68bb68" stroke="#111" stroke-width="1.2"/>
<text x="458.1" y="344.40" font-size="8.45" fill="#231f20">B (<tspan font-style="italic">n</tspan> = 14)</text>
<circle cx="449.20" cy="355.90" r="4.5" fill="#3ee8de" stroke="#111" stroke-width="1.2"/>
<text x="458.1" y="359.10" font-size="8.45" fill="#231f20">C (<tspan font-style="italic">n</tspan> = 11)</text>
<circle cx="449.20" cy="370.60" r="4.5" fill="#f28cc5" stroke="#111" stroke-width="1.2"/>
<text x="458.1" y="373.80" font-size="8.45" fill="#231f20">G (<tspan font-style="italic">n</tspan> = 3)</text>
<circle cx="449.20" cy="385.30" r="4.5" fill="#fdb266" stroke="#111" stroke-width="1.2"/>
<text x="458.1" y="388.50" font-size="8.45" fill="#231f20">AE (<tspan font-style="italic">n</tspan> = 5)</text>
<circle cx="449.20" cy="400.00" r="4.5" fill="#8f8f8f" stroke="#111" stroke-width="1.2"/>
<text x="458.1" y="403.20" font-size="8.45" fill="#231f20">Other (<tspan font-style="italic">n</tspan> = 3)</text>
<rect x="444.2" y="416.1" width="10.8" height="11.3" fill="#d3d3d3"/>
<text x="458.80" y="420.80" font-size="8.8" text-anchor="start" font-weight="normal" fill="#231f20" >Geometric</text>
<text x="458.8" y="430.9" font-size="8.8" fill="#231f20">mean IC<tspan font-size="6" dy="2">50</tspan></text>
<line x1="553.40" y1="287.50" x2="553.40" y2="440.70" stroke="#777" stroke-width="0.8" />
<line x1="549.60" y1="440.70" x2="553.40" y2="440.70" stroke="#777" stroke-width="0.8" />
<line x1="551.40" y1="432.60" x2="553.40" y2="432.60" stroke="#777" stroke-width="0.6" />
<line x1="551.40" y1="427.87" x2="553.40" y2="427.87" stroke="#777" stroke-width="0.6" />
<line x1="551.40" y1="424.50" x2="553.40" y2="424.50" stroke="#777" stroke-width="0.6" />
<line x1="551.40" y1="421.90" x2="553.40" y2="421.90" stroke="#777" stroke-width="0.6" />
<line x1="551.40" y1="419.77" x2="553.40" y2="419.77" stroke="#777" stroke-width="0.6" />
<line x1="551.40" y1="417.97" x2="553.40" y2="417.97" stroke="#777" stroke-width="0.6" />
<line x1="551.40" y1="416.41" x2="553.40" y2="416.41" stroke="#777" stroke-width="0.6" />
<line x1="551.40" y1="415.03" x2="553.40" y2="415.03" stroke="#777" stroke-width="0.6" />
<line x1="549.60" y1="413.80" x2="553.40" y2="413.80" stroke="#777" stroke-width="0.8" />
<line x1="551.40" y1="405.70" x2="553.40" y2="405.70" stroke="#777" stroke-width="0.6" />
<line x1="551.40" y1="400.97" x2="553.40" y2="400.97" stroke="#777" stroke-width="0.6" />
<line x1="551.40" y1="397.60" x2="553.40" y2="397.60" stroke="#777" stroke-width="0.6" />
<line x1="551.40" y1="395.00" x2="553.40" y2="395.00" stroke="#777" stroke-width="0.6" />
<line x1="551.40" y1="392.87" x2="553.40" y2="392.87" stroke="#777" stroke-width="0.6" />
<line x1="551.40" y1="391.07" x2="553.40" y2="391.07" stroke="#777" stroke-width="0.6" />
<line x1="551.40" y1="389.51" x2="553.40" y2="389.51" stroke="#777" stroke-width="0.6" />
<line x1="551.40" y1="388.13" x2="553.40" y2="388.13" stroke="#777" stroke-width="0.6" />
<line x1="549.60" y1="386.90" x2="553.40" y2="386.90" stroke="#777" stroke-width="0.8" />
<line x1="551.40" y1="378.80" x2="553.40" y2="378.80" stroke="#777" stroke-width="0.6" />
<line x1="551.40" y1="374.07" x2="553.40" y2="374.07" stroke="#777" stroke-width="0.6" />
<line x1="551.40" y1="370.70" x2="553.40" y2="370.70" stroke="#777" stroke-width="0.6" />
<line x1="551.40" y1="368.10" x2="553.40" y2="368.10" stroke="#777" stroke-width="0.6" />
<line x1="551.40" y1="365.97" x2="553.40" y2="365.97" stroke="#777" stroke-width="0.6" />
<line x1="551.40" y1="364.17" x2="553.40" y2="364.17" stroke="#777" stroke-width="0.6" />
<line x1="551.40" y1="362.61" x2="553.40" y2="362.61" stroke="#777" stroke-width="0.6" />
<line x1="551.40" y1="361.23" x2="553.40" y2="361.23" stroke="#777" stroke-width="0.6" />
<line x1="549.60" y1="360.00" x2="553.40" y2="360.00" stroke="#777" stroke-width="0.8" />
<line x1="551.40" y1="351.90" x2="553.40" y2="351.90" stroke="#777" stroke-width="0.6" />
<line x1="551.40" y1="347.17" x2="553.40" y2="347.17" stroke="#777" stroke-width="0.6" />
<line x1="551.40" y1="343.80" x2="553.40" y2="343.80" stroke="#777" stroke-width="0.6" />
<line x1="551.40" y1="341.20" x2="553.40" y2="341.20" stroke="#777" stroke-width="0.6" />
<line x1="551.40" y1="339.07" x2="553.40" y2="339.07" stroke="#777" stroke-width="0.6" />
<line x1="551.40" y1="337.27" x2="553.40" y2="337.27" stroke="#777" stroke-width="0.6" />
<line x1="551.40" y1="335.71" x2="553.40" y2="335.71" stroke="#777" stroke-width="0.6" />
<line x1="551.40" y1="334.33" x2="553.40" y2="334.33" stroke="#777" stroke-width="0.6" />
<line x1="549.60" y1="333.10" x2="553.40" y2="333.10" stroke="#777" stroke-width="0.8" />
<line x1="551.40" y1="325.00" x2="553.40" y2="325.00" stroke="#777" stroke-width="0.6" />
<line x1="551.40" y1="320.27" x2="553.40" y2="320.27" stroke="#777" stroke-width="0.6" />
<line x1="551.40" y1="316.90" x2="553.40" y2="316.90" stroke="#777" stroke-width="0.6" />
<line x1="551.40" y1="314.30" x2="553.40" y2="314.30" stroke="#777" stroke-width="0.6" />
<line x1="551.40" y1="312.17" x2="553.40" y2="312.17" stroke="#777" stroke-width="0.6" />
<line x1="551.40" y1="310.37" x2="553.40" y2="310.37" stroke="#777" stroke-width="0.6" />
<line x1="551.40" y1="308.81" x2="553.40" y2="308.81" stroke="#777" stroke-width="0.6" />
<line x1="551.40" y1="307.43" x2="553.40" y2="307.43" stroke="#777" stroke-width="0.6" />
<line x1="549.60" y1="306.20" x2="553.40" y2="306.20" stroke="#777" stroke-width="0.8" />
<line x1="551.40" y1="298.10" x2="553.40" y2="298.10" stroke="#777" stroke-width="0.6" />
<line x1="551.40" y1="293.37" x2="553.40" y2="293.37" stroke="#777" stroke-width="0.6" />
<line x1="551.40" y1="290.00" x2="553.40" y2="290.00" stroke="#777" stroke-width="0.6" />
<text x="546.30" y="443.60" font-size="8" text-anchor="end" font-weight="normal" fill="#333" >0.001</text>
<text x="546.30" y="416.70" font-size="8" text-anchor="end" font-weight="normal" fill="#333" >0.01</text>
<text x="546.30" y="389.80" font-size="8" text-anchor="end" font-weight="normal" fill="#333" >0.1</text>
<text x="546.30" y="362.90" font-size="8" text-anchor="end" font-weight="normal" fill="#333" >1</text>
<text x="546.30" y="336.00" font-size="8" text-anchor="end" font-weight="normal" fill="#333" >10</text>
<text x="546.30" y="309.10" font-size="8" text-anchor="end" font-weight="normal" fill="#333" >100</text>
<text transform="translate(529,363.5) rotate(-90)" font-size="8.8" text-anchor="middle" fill="#231f20">IC<tspan font-size="6" dy="2">50</tspan><tspan dy="-2"> (nM)</tspan></text>
<line x1="555" y1="300.1" x2="684" y2="300.1" stroke="#777" stroke-width="0.7" stroke-dasharray="0.8,1.6"/>
<rect x="561.00" y="343.01" width="28.6" height="97.99" fill="#d3d3d3"/>
<path d="M561.00,441 L561.00,343.01 L589.60,343.01 L589.60,441" fill="none" stroke="#111" stroke-width="1.15"/>
<text x="568.40" y="265.60" font-size="9" text-anchor="middle" font-weight="normal" fill="#231f20" >4.28</text>
<text x="568.40" y="277.90" font-size="9" text-anchor="middle" font-weight="normal" fill="#231f20" >26%</text>
<text x="574.80" y="457.20" font-size="8.8" text-anchor="middle" font-weight="normal" fill="#231f20" >447–52D</text>
<line x1="575.30" y1="441.00" x2="575.30" y2="444.40" stroke="#777" stroke-width="0.9" />
<rect x="604.40" y="378.80" width="28.8" height="62.20" fill="#d3d3d3"/>
<path d="M604.40,441 L604.40,378.80 L633.20,378.80 L633.20,441" fill="none" stroke="#111" stroke-width="1.15"/>
<text x="615.00" y="265.60" font-size="9" text-anchor="middle" font-weight="normal" fill="#231f20" >0.20</text>
<text x="615.00" y="277.90" font-size="9" text-anchor="middle" font-weight="normal" fill="#231f20" >79%</text>
<text x="618.30" y="457.20" font-size="8.8" text-anchor="middle" font-weight="normal" fill="#231f20" >PGT128</text>
<line x1="618.80" y1="441.00" x2="618.80" y2="444.40" stroke="#777" stroke-width="0.9" />
<rect x="648.30" y="370.70" width="28.4" height="70.30" fill="#d3d3d3"/>
<path d="M648.30,441 L648.30,370.70 L676.70,370.70 L676.70,441" fill="none" stroke="#111" stroke-width="1.15"/>
<text x="656.80" y="265.60" font-size="9" text-anchor="middle" font-weight="normal" fill="#231f20" >0.40</text>
<text x="656.80" y="277.90" font-size="9" text-anchor="middle" font-weight="normal" fill="#231f20" >35%</text>
<text x="662.00" y="457.20" font-size="8.8" text-anchor="middle" font-weight="normal" fill="#231f20" >PGT135</text>
<line x1="662.50" y1="441.00" x2="662.50" y2="444.40" stroke="#777" stroke-width="0.9" />
<line x1="553.40" y1="441.00" x2="677.00" y2="441.00" stroke="#777" stroke-width="0.9" />
<circle cx="58.50" cy="293.90" r="2.35" fill="#f28cc5" stroke="#222" stroke-width="0.6"/>
<circle cx="60.42" cy="293.90" r="2.35" fill="#68bb68" stroke="#222" stroke-width="0.6"/>
<circle cx="62.33" cy="293.90" r="2.35" fill="#fdb266" stroke="#222" stroke-width="0.6"/>
<circle cx="64.25" cy="293.90" r="2.35" fill="#f28cc5" stroke="#222" stroke-width="0.6"/>
<circle cx="66.17" cy="293.90" r="2.35" fill="#fdb266" stroke="#222" stroke-width="0.6"/>
<circle cx="68.08" cy="293.90" r="2.35" fill="#f28cc5" stroke="#222" stroke-width="0.6"/>
<circle cx="70.00" cy="293.90" r="2.35" fill="#8f8f8f" stroke="#222" stroke-width="0.6"/>
<circle cx="71.92" cy="293.90" r="2.35" fill="#fdb266" stroke="#222" stroke-width="0.6"/>
<circle cx="73.83" cy="293.90" r="2.35" fill="#68bb68" stroke="#222" stroke-width="0.6"/>
<circle cx="75.75" cy="293.90" r="2.35" fill="#fdb266" stroke="#222" stroke-width="0.6"/>
<circle cx="77.67" cy="293.90" r="2.35" fill="#8181f7" stroke="#222" stroke-width="0.6"/>
<circle cx="79.58" cy="293.90" r="2.35" fill="#68bb68" stroke="#222" stroke-width="0.6"/>
<circle cx="81.50" cy="293.90" r="2.35" fill="#fdb266" stroke="#222" stroke-width="0.6"/>
<circle cx="71.90" cy="297.70" r="2.35" fill="#3ee8de" stroke="#222" stroke-width="0.6"/>
<circle cx="69.70" cy="304.70" r="2.35" fill="#fdb266" stroke="#222" stroke-width="0.6"/>
<circle cx="70.00" cy="322.20" r="2.35" fill="#68bb68" stroke="#222" stroke-width="0.6"/>
<circle cx="70.00" cy="326.00" r="2.35" fill="#3ee8de" stroke="#222" stroke-width="0.6"/>
<circle cx="70.00" cy="328.40" r="2.35" fill="#fdb266" stroke="#222" stroke-width="0.6"/>
<circle cx="67.70" cy="334.50" r="2.35" fill="#3ee8de" stroke="#222" stroke-width="0.6"/>
<circle cx="72.20" cy="333.90" r="2.35" fill="#68bb68" stroke="#222" stroke-width="0.6"/>
<circle cx="70.00" cy="338.20" r="2.35" fill="#68bb68" stroke="#222" stroke-width="0.6"/>
<circle cx="67.70" cy="341.50" r="2.35" fill="#68bb68" stroke="#222" stroke-width="0.6"/>
<circle cx="71.90" cy="342.20" r="2.35" fill="#3ee8de" stroke="#222" stroke-width="0.6"/>
<circle cx="67.70" cy="345.40" r="2.35" fill="#3ee8de" stroke="#222" stroke-width="0.6"/>
<circle cx="71.90" cy="344.80" r="2.35" fill="#8181f7" stroke="#222" stroke-width="0.6"/>
<circle cx="71.90" cy="350.70" r="2.35" fill="#8181f7" stroke="#222" stroke-width="0.6"/>
<circle cx="67.50" cy="352.70" r="2.35" fill="#68bb68" stroke="#222" stroke-width="0.6"/>
<circle cx="70.00" cy="354.60" r="2.35" fill="#8181f7" stroke="#222" stroke-width="0.6"/>
<circle cx="75.00" cy="356.00" r="2.35" fill="#f28cc5" stroke="#222" stroke-width="0.6"/>
<circle cx="65.80" cy="357.30" r="2.35" fill="#8f8f8f" stroke="#222" stroke-width="0.6"/>
<circle cx="71.90" cy="357.30" r="2.35" fill="#68bb68" stroke="#222" stroke-width="0.6"/>
<circle cx="70.60" cy="360.60" r="2.35" fill="#68bb68" stroke="#222" stroke-width="0.6"/>
<circle cx="70.00" cy="363.20" r="2.35" fill="#8181f7" stroke="#222" stroke-width="0.6"/>
<circle cx="67.40" cy="364.50" r="2.35" fill="#8181f7" stroke="#222" stroke-width="0.6"/>
<circle cx="72.30" cy="365.80" r="2.35" fill="#8f8f8f" stroke="#222" stroke-width="0.6"/>
<circle cx="70.60" cy="369.80" r="2.35" fill="#68bb68" stroke="#222" stroke-width="0.6"/>
<circle cx="68.90" cy="373.00" r="2.35" fill="#3ee8de" stroke="#222" stroke-width="0.6"/>
<circle cx="101.30" cy="293.90" r="2.35" fill="#8f8f8f" stroke="#222" stroke-width="0.6"/>
<circle cx="103.90" cy="293.90" r="2.35" fill="#fdb266" stroke="#222" stroke-width="0.6"/>
<circle cx="106.50" cy="293.90" r="2.35" fill="#68bb68" stroke="#222" stroke-width="0.6"/>
<circle cx="109.10" cy="293.90" r="2.35" fill="#fdb266" stroke="#222" stroke-width="0.6"/>
<circle cx="111.70" cy="293.90" r="2.35" fill="#f28cc5" stroke="#222" stroke-width="0.6"/>
<circle cx="114.30" cy="293.90" r="2.35" fill="#fdb266" stroke="#222" stroke-width="0.6"/>
<circle cx="116.90" cy="293.90" r="2.35" fill="#fdb266" stroke="#222" stroke-width="0.6"/>
<circle cx="119.50" cy="293.90" r="2.35" fill="#8181f7" stroke="#222" stroke-width="0.6"/>
<circle cx="122.10" cy="293.90" r="2.35" fill="#68bb68" stroke="#222" stroke-width="0.6"/>
<circle cx="124.70" cy="293.90" r="2.35" fill="#f28cc5" stroke="#222" stroke-width="0.6"/>
<circle cx="112.70" cy="296.80" r="2.35" fill="#68bb68" stroke="#222" stroke-width="0.6"/>
<circle cx="112.70" cy="302.10" r="2.35" fill="#fdb266" stroke="#222" stroke-width="0.6"/>
<circle cx="114.00" cy="305.80" r="2.35" fill="#8181f7" stroke="#222" stroke-width="0.6"/>
<circle cx="111.40" cy="309.90" r="2.35" fill="#fdb266" stroke="#222" stroke-width="0.6"/>
<circle cx="116.00" cy="310.00" r="2.35" fill="#3ee8de" stroke="#222" stroke-width="0.6"/>
<circle cx="109.40" cy="311.30" r="2.35" fill="#3ee8de" stroke="#222" stroke-width="0.6"/>
<circle cx="113.30" cy="315.90" r="2.35" fill="#68bb68" stroke="#222" stroke-width="0.6"/>
<circle cx="111.40" cy="318.50" r="2.35" fill="#3ee8de" stroke="#222" stroke-width="0.6"/>
<circle cx="113.30" cy="322.80" r="2.35" fill="#8f8f8f" stroke="#222" stroke-width="0.6"/>
<circle cx="110.60" cy="322.50" r="2.35" fill="#3ee8de" stroke="#222" stroke-width="0.6"/>
<circle cx="116.50" cy="325.10" r="2.35" fill="#3ee8de" stroke="#222" stroke-width="0.6"/>
<circle cx="109.40" cy="328.40" r="2.35" fill="#68bb68" stroke="#222" stroke-width="0.6"/>
<circle cx="113.30" cy="327.70" r="2.35" fill="#68bb68" stroke="#222" stroke-width="0.6"/>
<circle cx="115.70" cy="334.70" r="2.35" fill="#68bb68" stroke="#222" stroke-width="0.6"/>
<circle cx="110.00" cy="338.20" r="2.35" fill="#8181f7" stroke="#222" stroke-width="0.6"/>
<circle cx="112.00" cy="338.80" r="2.35" fill="#8181f7" stroke="#222" stroke-width="0.6"/>
<circle cx="112.70" cy="342.80" r="2.35" fill="#3ee8de" stroke="#222" stroke-width="0.6"/>
<circle cx="112.70" cy="348.10" r="2.35" fill="#3ee8de" stroke="#222" stroke-width="0.6"/>
<circle cx="110.00" cy="350.70" r="2.35" fill="#f28cc5" stroke="#222" stroke-width="0.6"/>
<circle cx="113.30" cy="352.70" r="2.35" fill="#68bb68" stroke="#222" stroke-width="0.6"/>
<circle cx="110.00" cy="356.00" r="2.35" fill="#8181f7" stroke="#222" stroke-width="0.6"/>
<circle cx="112.70" cy="356.00" r="2.35" fill="#8181f7" stroke="#222" stroke-width="0.6"/>
<circle cx="115.30" cy="357.30" r="2.35" fill="#68bb68" stroke="#222" stroke-width="0.6"/>
<circle cx="113.30" cy="361.20" r="2.35" fill="#68bb68" stroke="#222" stroke-width="0.6"/>
<circle cx="111.70" cy="364.10" r="2.35" fill="#8f8f8f" stroke="#222" stroke-width="0.6"/>
<circle cx="144.10" cy="293.90" r="2.35" fill="#3ee8de" stroke="#222" stroke-width="0.6"/>
<circle cx="146.26" cy="293.90" r="2.35" fill="#68bb68" stroke="#222" stroke-width="0.6"/>
<circle cx="148.43" cy="293.90" r="2.35" fill="#68bb68" stroke="#222" stroke-width="0.6"/>
<circle cx="150.59" cy="293.90" r="2.35" fill="#68bb68" stroke="#222" stroke-width="0.6"/>
<circle cx="152.75" cy="293.90" r="2.35" fill="#68bb68" stroke="#222" stroke-width="0.6"/>
<circle cx="154.92" cy="293.90" r="2.35" fill="#68bb68" stroke="#222" stroke-width="0.6"/>
<circle cx="157.08" cy="293.90" r="2.35" fill="#68bb68" stroke="#222" stroke-width="0.6"/>
<circle cx="159.25" cy="293.90" r="2.35" fill="#68bb68" stroke="#222" stroke-width="0.6"/>
<circle cx="161.41" cy="293.90" r="2.35" fill="#68bb68" stroke="#222" stroke-width="0.6"/>
<circle cx="163.57" cy="293.90" r="2.35" fill="#68bb68" stroke="#222" stroke-width="0.6"/>
<circle cx="165.74" cy="293.90" r="2.35" fill="#8f8f8f" stroke="#222" stroke-width="0.6"/>
<circle cx="167.90" cy="293.90" r="2.35" fill="#3ee8de" stroke="#222" stroke-width="0.6"/>
<circle cx="151.80" cy="299.70" r="2.35" fill="#8181f7" stroke="#222" stroke-width="0.6"/>
<circle cx="155.00" cy="300.50" r="2.35" fill="#fdb266" stroke="#222" stroke-width="0.6"/>
<circle cx="158.40" cy="299.00" r="2.35" fill="#8181f7" stroke="#222" stroke-width="0.6"/>
<circle cx="160.60" cy="297.50" r="2.35" fill="#f28cc5" stroke="#222" stroke-width="0.6"/>
<circle cx="151.80" cy="306.30" r="2.35" fill="#8181f7" stroke="#222" stroke-width="0.6"/>
<circle cx="154.70" cy="306.00" r="2.35" fill="#68bb68" stroke="#222" stroke-width="0.6"/>
<circle cx="158.40" cy="306.70" r="2.35" fill="#fdb266" stroke="#222" stroke-width="0.6"/>
<circle cx="160.60" cy="306.00" r="2.35" fill="#3ee8de" stroke="#222" stroke-width="0.6"/>
<circle cx="156.00" cy="310.00" r="2.35" fill="#68bb68" stroke="#222" stroke-width="0.6"/>
<circle cx="153.40" cy="309.30" r="2.35" fill="#68bb68" stroke="#222" stroke-width="0.6"/>
<circle cx="154.40" cy="313.00" r="2.35" fill="#fdb266" stroke="#222" stroke-width="0.6"/>
<circle cx="156.70" cy="314.60" r="2.35" fill="#fdb266" stroke="#222" stroke-width="0.6"/>
<circle cx="152.10" cy="317.00" r="2.35" fill="#8181f7" stroke="#222" stroke-width="0.6"/>
<circle cx="155.40" cy="317.80" r="2.35" fill="#8181f7" stroke="#222" stroke-width="0.6"/>
<circle cx="159.00" cy="317.50" r="2.35" fill="#8181f7" stroke="#222" stroke-width="0.6"/>
<circle cx="156.70" cy="323.00" r="2.35" fill="#fdb266" stroke="#222" stroke-width="0.6"/>
<circle cx="154.70" cy="324.70" r="2.35" fill="#8f8f8f" stroke="#222" stroke-width="0.6"/>
<circle cx="155.80" cy="330.30" r="2.35" fill="#3ee8de" stroke="#222" stroke-width="0.6"/>
<circle cx="187.00" cy="293.90" r="2.35" fill="#3ee8de" stroke="#222" stroke-width="0.6"/>
<circle cx="189.99" cy="293.90" r="2.35" fill="#fdb266" stroke="#222" stroke-width="0.6"/>
<circle cx="192.97" cy="293.90" r="2.35" fill="#68bb68" stroke="#222" stroke-width="0.6"/>
<circle cx="195.96" cy="293.90" r="2.35" fill="#68bb68" stroke="#222" stroke-width="0.6"/>
<circle cx="198.95" cy="293.90" r="2.35" fill="#68bb68" stroke="#222" stroke-width="0.6"/>
<circle cx="201.94" cy="293.90" r="2.35" fill="#68bb68" stroke="#222" stroke-width="0.6"/>
<circle cx="204.93" cy="293.90" r="2.35" fill="#8181f7" stroke="#222" stroke-width="0.6"/>
<circle cx="207.91" cy="293.90" r="2.35" fill="#8f8f8f" stroke="#222" stroke-width="0.6"/>
<circle cx="210.90" cy="293.90" r="2.35" fill="#3ee8de" stroke="#222" stroke-width="0.6"/>
<circle cx="198.10" cy="295.50" r="2.35" fill="#68bb68" stroke="#222" stroke-width="0.6"/>
<circle cx="199.40" cy="298.50" r="2.35" fill="#fdb266" stroke="#222" stroke-width="0.6"/>
<circle cx="196.80" cy="299.50" r="2.35" fill="#3ee8de" stroke="#222" stroke-width="0.6"/>
<circle cx="198.70" cy="302.50" r="2.35" fill="#fdb266" stroke="#222" stroke-width="0.6"/>
<circle cx="200.70" cy="304.70" r="2.35" fill="#3ee8de" stroke="#222" stroke-width="0.6"/>
<circle cx="196.80" cy="305.40" r="2.35" fill="#3ee8de" stroke="#222" stroke-width="0.6"/>
<circle cx="202.00" cy="305.40" r="2.35" fill="#68bb68" stroke="#222" stroke-width="0.6"/>
<circle cx="193.50" cy="307.60" r="2.35" fill="#8181f7" stroke="#222" stroke-width="0.6"/>
<circle cx="204.00" cy="307.60" r="2.35" fill="#8181f7" stroke="#222" stroke-width="0.6"/>
<circle cx="200.70" cy="307.30" r="2.35" fill="#3ee8de" stroke="#222" stroke-width="0.6"/>
<circle cx="197.80" cy="310.60" r="2.35" fill="#fdb266" stroke="#222" stroke-width="0.6"/>
<circle cx="202.00" cy="310.60" r="2.35" fill="#68bb68" stroke="#222" stroke-width="0.6"/>
<circle cx="194.10" cy="315.00" r="2.35" fill="#fdb266" stroke="#222" stroke-width="0.6"/>
<circle cx="201.40" cy="313.90" r="2.35" fill="#8181f7" stroke="#222" stroke-width="0.6"/>
<circle cx="196.80" cy="317.20" r="2.35" fill="#68bb68" stroke="#222" stroke-width="0.6"/>
<circle cx="200.10" cy="316.50" r="2.35" fill="#3ee8de" stroke="#222" stroke-width="0.6"/>
<circle cx="199.60" cy="319.40" r="2.35" fill="#8181f7" stroke="#222" stroke-width="0.6"/>
<circle cx="195.40" cy="319.80" r="2.35" fill="#68bb68" stroke="#222" stroke-width="0.6"/>
<circle cx="197.80" cy="323.80" r="2.35" fill="#68bb68" stroke="#222" stroke-width="0.6"/>
<circle cx="200.70" cy="323.10" r="2.35" fill="#68bb68" stroke="#222" stroke-width="0.6"/>
<circle cx="199.60" cy="325.70" r="2.35" fill="#8181f7" stroke="#222" stroke-width="0.6"/>
<circle cx="197.40" cy="328.40" r="2.35" fill="#68bb68" stroke="#222" stroke-width="0.6"/>
<circle cx="198.70" cy="334.70" r="2.35" fill="#8f8f8f" stroke="#222" stroke-width="0.6"/>
<circle cx="198.70" cy="340.20" r="2.35" fill="#f28cc5" stroke="#222" stroke-width="0.6"/>
<circle cx="229.80" cy="293.90" r="2.35" fill="#fdb266" stroke="#222" stroke-width="0.6"/>
<circle cx="232.81" cy="293.90" r="2.35" fill="#68bb68" stroke="#222" stroke-width="0.6"/>
<circle cx="235.83" cy="293.90" r="2.35" fill="#3ee8de" stroke="#222" stroke-width="0.6"/>
<circle cx="238.84" cy="293.90" r="2.35" fill="#f28cc5" stroke="#222" stroke-width="0.6"/>
<circle cx="241.85" cy="293.90" r="2.35" fill="#f28cc5" stroke="#222" stroke-width="0.6"/>
<circle cx="244.86" cy="293.90" r="2.35" fill="#8181f7" stroke="#222" stroke-width="0.6"/>
<circle cx="247.88" cy="293.90" r="2.35" fill="#68bb68" stroke="#222" stroke-width="0.6"/>
<circle cx="250.89" cy="293.90" r="2.35" fill="#fdb266" stroke="#222" stroke-width="0.6"/>
<circle cx="253.90" cy="293.90" r="2.35" fill="#3ee8de" stroke="#222" stroke-width="0.6"/>
<circle cx="239.50" cy="296.90" r="2.35" fill="#fdb266" stroke="#222" stroke-width="0.6"/>
<circle cx="242.20" cy="298.70" r="2.35" fill="#68bb68" stroke="#222" stroke-width="0.6"/>
<circle cx="239.40" cy="305.80" r="2.35" fill="#68bb68" stroke="#222" stroke-width="0.6"/>
<circle cx="244.30" cy="306.60" r="2.35" fill="#3ee8de" stroke="#222" stroke-width="0.6"/>
<circle cx="241.20" cy="309.60" r="2.35" fill="#3ee8de" stroke="#222" stroke-width="0.6"/>
<circle cx="244.30" cy="311.90" r="2.35" fill="#fdb266" stroke="#222" stroke-width="0.6"/>
<circle cx="239.40" cy="314.10" r="2.35" fill="#8f8f8f" stroke="#222" stroke-width="0.6"/>
<circle cx="244.30" cy="317.40" r="2.35" fill="#8181f7" stroke="#222" stroke-width="0.6"/>
<circle cx="241.80" cy="320.60" r="2.35" fill="#f28cc5" stroke="#222" stroke-width="0.6"/>
<circle cx="246.60" cy="334.60" r="2.35" fill="#3ee8de" stroke="#222" stroke-width="0.6"/>
<circle cx="241.80" cy="335.60" r="2.35" fill="#68bb68" stroke="#222" stroke-width="0.6"/>
<circle cx="239.40" cy="338.30" r="2.35" fill="#8181f7" stroke="#222" stroke-width="0.6"/>
<circle cx="236.40" cy="339.30" r="2.35" fill="#68bb68" stroke="#222" stroke-width="0.6"/>
<circle cx="241.80" cy="342.40" r="2.35" fill="#fdb266" stroke="#222" stroke-width="0.6"/>
<circle cx="244.60" cy="344.50" r="2.35" fill="#68bb68" stroke="#222" stroke-width="0.6"/>
<circle cx="241.80" cy="347.50" r="2.35" fill="#8181f7" stroke="#222" stroke-width="0.6"/>
<circle cx="239.10" cy="349.30" r="2.35" fill="#3ee8de" stroke="#222" stroke-width="0.6"/>
<circle cx="234.60" cy="351.10" r="2.35" fill="#68bb68" stroke="#222" stroke-width="0.6"/>
<circle cx="248.90" cy="351.30" r="2.35" fill="#8181f7" stroke="#222" stroke-width="0.6"/>
<circle cx="243.90" cy="353.80" r="2.35" fill="#3ee8de" stroke="#222" stroke-width="0.6"/>
<circle cx="239.40" cy="355.20" r="2.35" fill="#68bb68" stroke="#222" stroke-width="0.6"/>
<circle cx="244.20" cy="358.90" r="2.35" fill="#8f8f8f" stroke="#222" stroke-width="0.6"/>
<circle cx="239.10" cy="360.00" r="2.35" fill="#3ee8de" stroke="#222" stroke-width="0.6"/>
<circle cx="241.80" cy="362.30" r="2.35" fill="#68bb68" stroke="#222" stroke-width="0.6"/>
<circle cx="236.40" cy="365.40" r="2.35" fill="#3ee8de" stroke="#222" stroke-width="0.6"/>
<circle cx="239.10" cy="365.40" r="2.35" fill="#3ee8de" stroke="#222" stroke-width="0.6"/>
<circle cx="241.80" cy="369.10" r="2.35" fill="#68bb68" stroke="#222" stroke-width="0.6"/>
<circle cx="246.90" cy="372.10" r="2.35" fill="#68bb68" stroke="#222" stroke-width="0.6"/>
<circle cx="239.40" cy="373.60" r="2.35" fill="#8181f7" stroke="#222" stroke-width="0.6"/>
<circle cx="244.20" cy="373.90" r="2.35" fill="#8f8f8f" stroke="#222" stroke-width="0.6"/>
<circle cx="241.80" cy="379.10" r="2.35" fill="#68bb68" stroke="#222" stroke-width="0.6"/>
<circle cx="272.90" cy="293.90" r="2.35" fill="#68bb68" stroke="#222" stroke-width="0.6"/>
<circle cx="276.24" cy="293.90" r="2.35" fill="#8f8f8f" stroke="#222" stroke-width="0.6"/>
<circle cx="279.59" cy="293.90" r="2.35" fill="#fdb266" stroke="#222" stroke-width="0.6"/>
<circle cx="282.93" cy="293.90" r="2.35" fill="#68bb68" stroke="#222" stroke-width="0.6"/>
<circle cx="286.27" cy="293.90" r="2.35" fill="#fdb266" stroke="#222" stroke-width="0.6"/>
<circle cx="289.61" cy="293.90" r="2.35" fill="#fdb266" stroke="#222" stroke-width="0.6"/>
<circle cx="292.96" cy="293.90" r="2.35" fill="#8181f7" stroke="#222" stroke-width="0.6"/>
<circle cx="296.30" cy="293.90" r="2.35" fill="#3ee8de" stroke="#222" stroke-width="0.6"/>
<circle cx="284.60" cy="299.00" r="2.35" fill="#fdb266" stroke="#222" stroke-width="0.6"/>
<circle cx="284.60" cy="308.90" r="2.35" fill="#3ee8de" stroke="#222" stroke-width="0.6"/>
<circle cx="281.90" cy="311.70" r="2.35" fill="#68bb68" stroke="#222" stroke-width="0.6"/>
<circle cx="287.40" cy="311.70" r="2.35" fill="#68bb68" stroke="#222" stroke-width="0.6"/>
<circle cx="282.90" cy="318.10" r="2.35" fill="#8f8f8f" stroke="#222" stroke-width="0.6"/>
<circle cx="287.00" cy="317.80" r="2.35" fill="#3ee8de" stroke="#222" stroke-width="0.6"/>
<circle cx="287.00" cy="321.90" r="2.35" fill="#3ee8de" stroke="#222" stroke-width="0.6"/>
<circle cx="284.60" cy="324.30" r="2.35" fill="#8181f7" stroke="#222" stroke-width="0.6"/>
<circle cx="282.20" cy="325.60" r="2.35" fill="#68bb68" stroke="#222" stroke-width="0.6"/>
<circle cx="284.60" cy="330.10" r="2.35" fill="#68bb68" stroke="#222" stroke-width="0.6"/>
<circle cx="282.20" cy="332.20" r="2.35" fill="#68bb68" stroke="#222" stroke-width="0.6"/>
<circle cx="284.90" cy="334.90" r="2.35" fill="#fdb266" stroke="#222" stroke-width="0.6"/>
<circle cx="285.60" cy="337.00" r="2.35" fill="#8181f7" stroke="#222" stroke-width="0.6"/>
<circle cx="282.90" cy="338.30" r="2.35" fill="#68bb68" stroke="#222" stroke-width="0.6"/>
<circle cx="286.00" cy="341.10" r="2.35" fill="#3ee8de" stroke="#222" stroke-width="0.6"/>
<circle cx="283.60" cy="343.80" r="2.35" fill="#8181f7" stroke="#222" stroke-width="0.6"/>
<circle cx="285.60" cy="351.30" r="2.35" fill="#3ee8de" stroke="#222" stroke-width="0.6"/>
<circle cx="282.90" cy="352.00" r="2.35" fill="#f28cc5" stroke="#222" stroke-width="0.6"/>
<circle cx="281.90" cy="356.40" r="2.35" fill="#8181f7" stroke="#222" stroke-width="0.6"/>
<circle cx="285.60" cy="356.80" r="2.35" fill="#8181f7" stroke="#222" stroke-width="0.6"/>
<circle cx="288.30" cy="356.10" r="2.35" fill="#68bb68" stroke="#222" stroke-width="0.6"/>
<circle cx="284.60" cy="362.00" r="2.35" fill="#68bb68" stroke="#222" stroke-width="0.6"/>
<circle cx="284.60" cy="370.80" r="2.35" fill="#8f8f8f" stroke="#222" stroke-width="0.6"/>
<circle cx="316.50" cy="293.90" r="2.35" fill="#3ee8de" stroke="#222" stroke-width="0.6"/>
<circle cx="319.74" cy="293.90" r="2.35" fill="#fdb266" stroke="#222" stroke-width="0.6"/>
<circle cx="322.99" cy="293.90" r="2.35" fill="#3ee8de" stroke="#222" stroke-width="0.6"/>
<circle cx="326.23" cy="293.90" r="2.35" fill="#68bb68" stroke="#222" stroke-width="0.6"/>
<circle cx="329.47" cy="293.90" r="2.35" fill="#68bb68" stroke="#222" stroke-width="0.6"/>
<circle cx="332.71" cy="293.90" r="2.35" fill="#3ee8de" stroke="#222" stroke-width="0.6"/>
<circle cx="335.96" cy="293.90" r="2.35" fill="#8181f7" stroke="#222" stroke-width="0.6"/>
<circle cx="339.20" cy="293.90" r="2.35" fill="#f28cc5" stroke="#222" stroke-width="0.6"/>
<circle cx="330.20" cy="307.20" r="2.35" fill="#68bb68" stroke="#222" stroke-width="0.6"/>
<circle cx="327.80" cy="311.30" r="2.35" fill="#fdb266" stroke="#222" stroke-width="0.6"/>
<circle cx="327.80" cy="329.00" r="2.35" fill="#3ee8de" stroke="#222" stroke-width="0.6"/>
<circle cx="322.80" cy="337.20" r="2.35" fill="#3ee8de" stroke="#222" stroke-width="0.6"/>
<circle cx="325.40" cy="339.00" r="2.35" fill="#8181f7" stroke="#222" stroke-width="0.6"/>
<circle cx="330.20" cy="337.20" r="2.35" fill="#fdb266" stroke="#222" stroke-width="0.6"/>
<circle cx="332.90" cy="337.70" r="2.35" fill="#3ee8de" stroke="#222" stroke-width="0.6"/>
<circle cx="327.80" cy="341.10" r="2.35" fill="#68bb68" stroke="#222" stroke-width="0.6"/>
<circle cx="325.40" cy="344.90" r="2.35" fill="#fdb266" stroke="#222" stroke-width="0.6"/>
<circle cx="317.60" cy="347.20" r="2.35" fill="#68bb68" stroke="#222" stroke-width="0.6"/>
<circle cx="320.60" cy="345.90" r="2.35" fill="#68bb68" stroke="#222" stroke-width="0.6"/>
<circle cx="332.30" cy="345.20" r="2.35" fill="#68bb68" stroke="#222" stroke-width="0.6"/>
<circle cx="337.10" cy="346.60" r="2.35" fill="#68bb68" stroke="#222" stroke-width="0.6"/>
<circle cx="329.20" cy="348.20" r="2.35" fill="#f28cc5" stroke="#222" stroke-width="0.6"/>
<circle cx="320.60" cy="352.00" r="2.35" fill="#68bb68" stroke="#222" stroke-width="0.6"/>
<circle cx="327.40" cy="351.70" r="2.35" fill="#8f8f8f" stroke="#222" stroke-width="0.6"/>
<circle cx="332.30" cy="350.70" r="2.35" fill="#68bb68" stroke="#222" stroke-width="0.6"/>
<circle cx="335.40" cy="350.40" r="2.35" fill="#3ee8de" stroke="#222" stroke-width="0.6"/>
<circle cx="332.90" cy="355.40" r="2.35" fill="#fdb266" stroke="#222" stroke-width="0.6"/>
<circle cx="327.80" cy="356.80" r="2.35" fill="#8181f7" stroke="#222" stroke-width="0.6"/>
<circle cx="330.60" cy="355.00" r="2.35" fill="#8181f7" stroke="#222" stroke-width="0.6"/>
<circle cx="322.80" cy="357.50" r="2.35" fill="#68bb68" stroke="#222" stroke-width="0.6"/>
<circle cx="330.60" cy="360.00" r="2.35" fill="#3ee8de" stroke="#222" stroke-width="0.6"/>
<circle cx="325.10" cy="362.30" r="2.35" fill="#3ee8de" stroke="#222" stroke-width="0.6"/>
<circle cx="327.80" cy="362.30" r="2.35" fill="#8181f7" stroke="#222" stroke-width="0.6"/>
<circle cx="330.20" cy="366.40" r="2.35" fill="#8181f7" stroke="#222" stroke-width="0.6"/>
<circle cx="327.80" cy="369.10" r="2.35" fill="#68bb68" stroke="#222" stroke-width="0.6"/>
<circle cx="328.80" cy="379.80" r="2.35" fill="#3ee8de" stroke="#222" stroke-width="0.6"/>
<circle cx="326.20" cy="383.20" r="2.35" fill="#8f8f8f" stroke="#222" stroke-width="0.6"/>
<circle cx="358.90" cy="293.90" r="2.35" fill="#68bb68" stroke="#222" stroke-width="0.6"/>
<circle cx="362.80" cy="293.90" r="2.35" fill="#fdb266" stroke="#222" stroke-width="0.6"/>
<circle cx="366.70" cy="293.90" r="2.35" fill="#8f8f8f" stroke="#222" stroke-width="0.6"/>
<circle cx="370.60" cy="293.90" r="2.35" fill="#3ee8de" stroke="#222" stroke-width="0.6"/>
<circle cx="374.50" cy="293.90" r="2.35" fill="#fdb266" stroke="#222" stroke-width="0.6"/>
<circle cx="378.40" cy="293.90" r="2.35" fill="#8181f7" stroke="#222" stroke-width="0.6"/>
<circle cx="382.30" cy="293.90" r="2.35" fill="#68bb68" stroke="#222" stroke-width="0.6"/>
<circle cx="370.60" cy="298.70" r="2.35" fill="#fdb266" stroke="#222" stroke-width="0.6"/>
<circle cx="372.90" cy="298.00" r="2.35" fill="#fdb266" stroke="#222" stroke-width="0.6"/>
<circle cx="368.20" cy="300.00" r="2.35" fill="#68bb68" stroke="#222" stroke-width="0.6"/>
<circle cx="369.60" cy="311.00" r="2.35" fill="#3ee8de" stroke="#222" stroke-width="0.6"/>
<circle cx="374.30" cy="311.70" r="2.35" fill="#3ee8de" stroke="#222" stroke-width="0.6"/>
<circle cx="367.50" cy="313.00" r="2.35" fill="#68bb68" stroke="#222" stroke-width="0.6"/>
<circle cx="371.60" cy="315.10" r="2.35" fill="#3ee8de" stroke="#222" stroke-width="0.6"/>
<circle cx="370.60" cy="319.20" r="2.35" fill="#3ee8de" stroke="#222" stroke-width="0.6"/>
<circle cx="372.00" cy="323.30" r="2.35" fill="#3ee8de" stroke="#222" stroke-width="0.6"/>
<circle cx="369.60" cy="325.60" r="2.35" fill="#8f8f8f" stroke="#222" stroke-width="0.6"/>
<circle cx="369.80" cy="328.80" r="2.35" fill="#68bb68" stroke="#222" stroke-width="0.6"/>
<circle cx="372.30" cy="329.50" r="2.35" fill="#3ee8de" stroke="#222" stroke-width="0.6"/>
<circle cx="373.00" cy="333.60" r="2.35" fill="#68bb68" stroke="#222" stroke-width="0.6"/>
<circle cx="368.90" cy="334.90" r="2.35" fill="#68bb68" stroke="#222" stroke-width="0.6"/>
<circle cx="368.90" cy="337.70" r="2.35" fill="#8181f7" stroke="#222" stroke-width="0.6"/>
<circle cx="371.20" cy="336.70" r="2.35" fill="#8181f7" stroke="#222" stroke-width="0.6"/>
<circle cx="373.40" cy="338.30" r="2.35" fill="#68bb68" stroke="#222" stroke-width="0.6"/>
<circle cx="367.10" cy="341.80" r="2.35" fill="#8181f7" stroke="#222" stroke-width="0.6"/>
<circle cx="373.90" cy="344.50" r="2.35" fill="#fdb266" stroke="#222" stroke-width="0.6"/>
<circle cx="371.20" cy="343.10" r="2.35" fill="#68bb68" stroke="#222" stroke-width="0.6"/>
<circle cx="369.60" cy="348.60" r="2.35" fill="#3ee8de" stroke="#222" stroke-width="0.6"/>
<circle cx="372.30" cy="350.00" r="2.35" fill="#68bb68" stroke="#222" stroke-width="0.6"/>
<circle cx="370.60" cy="352.00" r="2.35" fill="#8181f7" stroke="#222" stroke-width="0.6"/>
<circle cx="368.50" cy="354.80" r="2.35" fill="#8181f7" stroke="#222" stroke-width="0.6"/>
<circle cx="373.40" cy="354.80" r="2.35" fill="#68bb68" stroke="#222" stroke-width="0.6"/>
<circle cx="370.60" cy="362.00" r="2.35" fill="#8f8f8f" stroke="#222" stroke-width="0.6"/>
<circle cx="370.60" cy="380.10" r="2.35" fill="#f28cc5" stroke="#222" stroke-width="0.6"/>
<circle cx="415.10" cy="294.80" r="2.35" fill="#68bb68" stroke="#222" stroke-width="0.6"/>
<circle cx="412.30" cy="298.40" r="2.35" fill="#3ee8de" stroke="#222" stroke-width="0.6"/>
<circle cx="413.70" cy="316.80" r="2.35" fill="#fdb266" stroke="#222" stroke-width="0.6"/>
<circle cx="413.70" cy="322.60" r="2.35" fill="#68bb68" stroke="#222" stroke-width="0.6"/>
<circle cx="409.90" cy="336.00" r="2.35" fill="#68bb68" stroke="#222" stroke-width="0.6"/>
<circle cx="417.80" cy="335.20" r="2.35" fill="#8181f7" stroke="#222" stroke-width="0.6"/>
<circle cx="412.30" cy="339.00" r="2.35" fill="#3ee8de" stroke="#222" stroke-width="0.6"/>
<circle cx="415.10" cy="339.70" r="2.35" fill="#68bb68" stroke="#222" stroke-width="0.6"/>
<circle cx="409.90" cy="344.70" r="2.35" fill="#68bb68" stroke="#222" stroke-width="0.6"/>
<circle cx="401.80" cy="347.60" r="2.35" fill="#3ee8de" stroke="#222" stroke-width="0.6"/>
<circle cx="406.90" cy="348.30" r="2.35" fill="#f28cc5" stroke="#222" stroke-width="0.6"/>
<circle cx="412.30" cy="348.60" r="2.35" fill="#3ee8de" stroke="#222" stroke-width="0.6"/>
<circle cx="415.10" cy="349.90" r="2.35" fill="#3ee8de" stroke="#222" stroke-width="0.6"/>
<circle cx="420.30" cy="347.20" r="2.35" fill="#fdb266" stroke="#222" stroke-width="0.6"/>
<circle cx="425.70" cy="349.20" r="2.35" fill="#f28cc5" stroke="#222" stroke-width="0.6"/>
<circle cx="423.00" cy="351.70" r="2.35" fill="#68bb68" stroke="#222" stroke-width="0.6"/>
<circle cx="420.80" cy="352.20" r="2.35" fill="#68bb68" stroke="#222" stroke-width="0.6"/>
<circle cx="404.40" cy="352.00" r="2.35" fill="#8f8f8f" stroke="#222" stroke-width="0.6"/>
<circle cx="409.90" cy="352.00" r="2.35" fill="#3ee8de" stroke="#222" stroke-width="0.6"/>
<circle cx="417.80" cy="352.40" r="2.35" fill="#8181f7" stroke="#222" stroke-width="0.6"/>
<circle cx="414.80" cy="355.80" r="2.35" fill="#f28cc5" stroke="#222" stroke-width="0.6"/>
<circle cx="404.10" cy="358.80" r="2.35" fill="#fdb266" stroke="#222" stroke-width="0.6"/>
<circle cx="406.90" cy="360.20" r="2.35" fill="#8f8f8f" stroke="#222" stroke-width="0.6"/>
<circle cx="411.60" cy="360.90" r="2.35" fill="#68bb68" stroke="#222" stroke-width="0.6"/>
<circle cx="417.80" cy="363.60" r="2.35" fill="#3ee8de" stroke="#222" stroke-width="0.6"/>
<circle cx="414.80" cy="363.20" r="2.35" fill="#68bb68" stroke="#222" stroke-width="0.6"/>
<circle cx="419.20" cy="359.90" r="2.35" fill="#8f8f8f" stroke="#222" stroke-width="0.6"/>
<circle cx="423.00" cy="359.50" r="2.35" fill="#8181f7" stroke="#222" stroke-width="0.6"/>
<circle cx="414.40" cy="367.70" r="2.35" fill="#68bb68" stroke="#222" stroke-width="0.6"/>
<circle cx="417.80" cy="369.10" r="2.35" fill="#8181f7" stroke="#222" stroke-width="0.6"/>
<circle cx="412.30" cy="372.10" r="2.35" fill="#fdb266" stroke="#222" stroke-width="0.6"/>
<circle cx="406.90" cy="378.60" r="2.35" fill="#8181f7" stroke="#222" stroke-width="0.6"/>
<circle cx="410.30" cy="377.90" r="2.35" fill="#68bb68" stroke="#222" stroke-width="0.6"/>
<circle cx="414.80" cy="378.30" r="2.35" fill="#8181f7" stroke="#222" stroke-width="0.6"/>
<circle cx="418.10" cy="377.20" r="2.35" fill="#fdb266" stroke="#222" stroke-width="0.6"/>
<circle cx="401.80" cy="382.40" r="2.35" fill="#3ee8de" stroke="#222" stroke-width="0.6"/>
<circle cx="412.30" cy="382.40" r="2.35" fill="#3ee8de" stroke="#222" stroke-width="0.6"/>
<circle cx="417.80" cy="382.40" r="2.35" fill="#3ee8de" stroke="#222" stroke-width="0.6"/>
<circle cx="423.00" cy="382.40" r="2.35" fill="#68bb68" stroke="#222" stroke-width="0.6"/>
<circle cx="426.00" cy="382.40" r="2.35" fill="#68bb68" stroke="#222" stroke-width="0.6"/>
<circle cx="562.90" cy="300.00" r="2.35" fill="#68bb68" stroke="#222" stroke-width="0.6"/>
<circle cx="565.64" cy="300.00" r="2.35" fill="#fdb266" stroke="#222" stroke-width="0.6"/>
<circle cx="568.39" cy="300.00" r="2.35" fill="#fdb266" stroke="#222" stroke-width="0.6"/>
<circle cx="571.13" cy="300.00" r="2.35" fill="#8181f7" stroke="#222" stroke-width="0.6"/>
<circle cx="573.88" cy="300.00" r="2.35" fill="#8181f7" stroke="#222" stroke-width="0.6"/>
<circle cx="576.62" cy="300.00" r="2.35" fill="#8181f7" stroke="#222" stroke-width="0.6"/>
<circle cx="579.37" cy="300.00" r="2.35" fill="#68bb68" stroke="#222" stroke-width="0.6"/>
<circle cx="582.11" cy="300.00" r="2.35" fill="#68bb68" stroke="#222" stroke-width="0.6"/>
<circle cx="584.86" cy="300.00" r="2.35" fill="#68bb68" stroke="#222" stroke-width="0.6"/>
<circle cx="587.60" cy="300.00" r="2.35" fill="#fdb266" stroke="#222" stroke-width="0.6"/>
<circle cx="574.80" cy="309.60" r="2.35" fill="#68bb68" stroke="#222" stroke-width="0.6"/>
<circle cx="574.60" cy="320.90" r="2.35" fill="#fdb266" stroke="#222" stroke-width="0.6"/>
<circle cx="575.20" cy="320.30" r="2.35" fill="#8181f7" stroke="#222" stroke-width="0.6"/>
<circle cx="574.80" cy="327.60" r="2.35" fill="#68bb68" stroke="#222" stroke-width="0.6"/>
<circle cx="574.80" cy="338.80" r="2.35" fill="#8181f7" stroke="#222" stroke-width="0.6"/>
<circle cx="574.80" cy="347.50" r="2.35" fill="#3ee8de" stroke="#222" stroke-width="0.6"/>
<circle cx="574.80" cy="349.50" r="2.35" fill="#8181f7" stroke="#222" stroke-width="0.6"/>
<circle cx="574.80" cy="357.60" r="2.35" fill="#68bb68" stroke="#222" stroke-width="0.6"/>
<circle cx="575.50" cy="392.40" r="2.35" fill="#fdb266" stroke="#222" stroke-width="0.6"/>
<circle cx="574.60" cy="397.20" r="2.35" fill="#3ee8de" stroke="#222" stroke-width="0.6"/>
<circle cx="606.50" cy="300.00" r="2.35" fill="#8181f7" stroke="#222" stroke-width="0.6"/>
<circle cx="609.21" cy="300.00" r="2.35" fill="#3ee8de" stroke="#222" stroke-width="0.6"/>
<circle cx="611.92" cy="300.00" r="2.35" fill="#3ee8de" stroke="#222" stroke-width="0.6"/>
<circle cx="614.63" cy="300.00" r="2.35" fill="#f28cc5" stroke="#222" stroke-width="0.6"/>
<circle cx="617.34" cy="300.00" r="2.35" fill="#3ee8de" stroke="#222" stroke-width="0.6"/>
<circle cx="620.06" cy="300.00" r="2.35" fill="#68bb68" stroke="#222" stroke-width="0.6"/>
<circle cx="622.77" cy="300.00" r="2.35" fill="#fdb266" stroke="#222" stroke-width="0.6"/>
<circle cx="625.48" cy="300.00" r="2.35" fill="#fdb266" stroke="#222" stroke-width="0.6"/>
<circle cx="628.19" cy="300.00" r="2.35" fill="#3ee8de" stroke="#222" stroke-width="0.6"/>
<circle cx="630.90" cy="300.00" r="2.35" fill="#3ee8de" stroke="#222" stroke-width="0.6"/>
<circle cx="621.49" cy="308.08" r="2.35" fill="#f28cc5" stroke="#222" stroke-width="0.6"/>
<circle cx="618.40" cy="310.55" r="2.35" fill="#8181f7" stroke="#222" stroke-width="0.6"/>
<circle cx="621.64" cy="313.49" r="2.35" fill="#68bb68" stroke="#222" stroke-width="0.6"/>
<circle cx="615.46" cy="315.50" r="2.35" fill="#68bb68" stroke="#222" stroke-width="0.6"/>
<circle cx="618.55" cy="321.99" r="2.35" fill="#68bb68" stroke="#222" stroke-width="0.6"/>
<circle cx="615.46" cy="330.18" r="2.35" fill="#68bb68" stroke="#222" stroke-width="0.6"/>
<circle cx="618.55" cy="332.81" r="2.35" fill="#8f8f8f" stroke="#222" stroke-width="0.6"/>
<circle cx="618.55" cy="338.37" r="2.35" fill="#3ee8de" stroke="#222" stroke-width="0.6"/>
<circle cx="618.55" cy="352.12" r="2.35" fill="#3ee8de" stroke="#222" stroke-width="0.6"/>
<circle cx="617.01" cy="377.62" r="2.35" fill="#fdb266" stroke="#222" stroke-width="0.6"/>
<circle cx="620.41" cy="378.09" r="2.35" fill="#3ee8de" stroke="#222" stroke-width="0.6"/>
<circle cx="615.46" cy="385.50" r="2.35" fill="#fdb266" stroke="#222" stroke-width="0.6"/>
<circle cx="612.37" cy="387.82" r="2.35" fill="#8181f7" stroke="#222" stroke-width="0.6"/>
<circle cx="621.64" cy="387.82" r="2.35" fill="#8181f7" stroke="#222" stroke-width="0.6"/>
<circle cx="615.46" cy="392.77" r="2.35" fill="#68bb68" stroke="#222" stroke-width="0.6"/>
<circle cx="618.55" cy="391.22" r="2.35" fill="#68bb68" stroke="#222" stroke-width="0.6"/>
<circle cx="621.64" cy="394.31" r="2.35" fill="#8f8f8f" stroke="#222" stroke-width="0.6"/>
<circle cx="627.83" cy="392.77" r="2.35" fill="#3ee8de" stroke="#222" stroke-width="0.6"/>
<circle cx="612.37" cy="397.40" r="2.35" fill="#3ee8de" stroke="#222" stroke-width="0.6"/>
<circle cx="618.55" cy="397.40" r="2.35" fill="#68bb68" stroke="#222" stroke-width="0.6"/>
<circle cx="624.73" cy="397.40" r="2.35" fill="#fdb266" stroke="#222" stroke-width="0.6"/>
<circle cx="606.50" cy="400.80" r="2.35" fill="#68bb68" stroke="#222" stroke-width="0.6"/>
<circle cx="609.28" cy="405.59" r="2.35" fill="#68bb68" stroke="#222" stroke-width="0.6"/>
<circle cx="612.37" cy="405.59" r="2.35" fill="#68bb68" stroke="#222" stroke-width="0.6"/>
<circle cx="615.46" cy="405.59" r="2.35" fill="#68bb68" stroke="#222" stroke-width="0.6"/>
<circle cx="618.55" cy="405.59" r="2.35" fill="#3ee8de" stroke="#222" stroke-width="0.6"/>
<circle cx="621.64" cy="405.59" r="2.35" fill="#3ee8de" stroke="#222" stroke-width="0.6"/>
<circle cx="624.73" cy="405.59" r="2.35" fill="#f28cc5" stroke="#222" stroke-width="0.6"/>
<circle cx="627.83" cy="405.59" r="2.35" fill="#3ee8de" stroke="#222" stroke-width="0.6"/>
<circle cx="615.46" cy="413.63" r="2.35" fill="#68bb68" stroke="#222" stroke-width="0.6"/>
<circle cx="621.64" cy="413.63" r="2.35" fill="#8f8f8f" stroke="#222" stroke-width="0.6"/>
<circle cx="618.55" cy="413.63" r="2.35" fill="#8181f7" stroke="#222" stroke-width="0.6"/>
<circle cx="650.10" cy="300.00" r="2.35" fill="#8181f7" stroke="#222" stroke-width="0.6"/>
<circle cx="653.59" cy="300.00" r="2.35" fill="#fdb266" stroke="#222" stroke-width="0.6"/>
<circle cx="657.07" cy="300.00" r="2.35" fill="#8181f7" stroke="#222" stroke-width="0.6"/>
<circle cx="660.56" cy="300.00" r="2.35" fill="#8181f7" stroke="#222" stroke-width="0.6"/>
<circle cx="664.04" cy="300.00" r="2.35" fill="#8181f7" stroke="#222" stroke-width="0.6"/>
<circle cx="667.53" cy="300.00" r="2.35" fill="#8181f7" stroke="#222" stroke-width="0.6"/>
<circle cx="671.01" cy="300.00" r="2.35" fill="#8181f7" stroke="#222" stroke-width="0.6"/>
<circle cx="674.50" cy="300.00" r="2.35" fill="#68bb68" stroke="#222" stroke-width="0.6"/>
<circle cx="662.13" cy="308.85" r="2.35" fill="#3ee8de" stroke="#222" stroke-width="0.6"/>
<circle cx="662.13" cy="333.27" r="2.35" fill="#8181f7" stroke="#222" stroke-width="0.6"/>
<circle cx="661.82" cy="348.41" r="2.35" fill="#68bb68" stroke="#222" stroke-width="0.6"/>
<circle cx="662.13" cy="361.40" r="2.35" fill="#8f8f8f" stroke="#222" stroke-width="0.6"/>
<circle cx="662.13" cy="375.46" r="2.35" fill="#3ee8de" stroke="#222" stroke-width="0.6"/>
<circle cx="662.13" cy="383.49" r="2.35" fill="#68bb68" stroke="#222" stroke-width="0.6"/>
<circle cx="662.13" cy="390.91" r="2.35" fill="#68bb68" stroke="#222" stroke-width="0.6"/>
<circle cx="662.13" cy="393.54" r="2.35" fill="#3ee8de" stroke="#222" stroke-width="0.6"/>
<circle cx="662.13" cy="397.40" r="2.35" fill="#68bb68" stroke="#222" stroke-width="0.6"/>
<circle cx="662.13" cy="405.59" r="2.35" fill="#f28cc5" stroke="#222" stroke-width="0.6"/>
<text x="76.60" y="490.00" font-size="9.2" text-anchor="middle" font-weight="normal" fill="#231f20" >bnD.8</text>
<g transform="translate(0,0)">
<line x1="53.30" y1="572.40" x2="43.90" y2="553.80" stroke="#595959" stroke-width="2.65" stroke-linecap="round"/>
<line x1="52.70" y1="573.60" x2="37.50" y2="557.80" stroke="#a5daee" stroke-width="2.65" stroke-linecap="round"/>
<line x1="53.90" y1="575.40" x2="31.10" y2="566.00" stroke="#a5daee" stroke-width="2.65" stroke-linecap="round"/>
<line x1="55.00" y1="579.50" x2="28.20" y2="573.00" stroke="#4673b5" stroke-width="2.65" stroke-linecap="round"/>
<line x1="48.60" y1="583.50" x2="27.60" y2="582.60" stroke="#595959" stroke-width="2.65" stroke-linecap="round"/>
<line x1="48.60" y1="585.30" x2="27.60" y2="590.00" stroke="#fde08e" stroke-width="2.65" stroke-linecap="round"/>
<line x1="49.80" y1="585.90" x2="31.10" y2="596.40" stroke="#595959" stroke-width="2.65" stroke-linecap="round"/>
<line x1="53.90" y1="585.30" x2="36.40" y2="603.40" stroke="#a5daee" stroke-width="2.65" stroke-linecap="round"/>
<line x1="59.70" y1="584.10" x2="40.40" y2="608.70" stroke="#fde08e" stroke-width="2.65" stroke-linecap="round"/>
<line x1="61.50" y1="584.10" x2="45.10" y2="612.70" stroke="#595959" stroke-width="2.65" stroke-linecap="round"/>
<line x1="65.50" y1="583.50" x2="51.50" y2="618.00" stroke="#a5daee" stroke-width="2.65" stroke-linecap="round"/>
<line x1="69.10" y1="583.50" x2="56.80" y2="622.10" stroke="#a5daee" stroke-width="2.65" stroke-linecap="round"/>
<line x1="101.00" y1="594.70" x2="138.20" y2="594.30" stroke="#a5daee" stroke-width="2.65" stroke-linecap="round"/>
<line x1="101.00" y1="597.40" x2="136.70" y2="599.60" stroke="#fde08e" stroke-width="2.65" stroke-linecap="round"/>
<line x1="101.00" y1="600.00" x2="135.50" y2="604.20" stroke="#fde08e" stroke-width="2.65" stroke-linecap="round"/>
<line x1="101.00" y1="601.80" x2="133.20" y2="606.30" stroke="#4673b5" stroke-width="2.65" stroke-linecap="round"/>
<line x1="101.00" y1="603.00" x2="132.60" y2="611.70" stroke="#a5daee" stroke-width="2.65" stroke-linecap="round"/>
<line x1="102.20" y1="604.90" x2="129.50" y2="617.90" stroke="#a5daee" stroke-width="2.65" stroke-linecap="round"/>
<line x1="102.20" y1="606.70" x2="125.20" y2="623.50" stroke="#fde08e" stroke-width="2.65" stroke-linecap="round"/>
<line x1="102.20" y1="608.60" x2="117.10" y2="629.00" stroke="#595959" stroke-width="2.65" stroke-linecap="round"/>
<line x1="101.00" y1="612.30" x2="107.80" y2="632.80" stroke="#fde08e" stroke-width="2.65" stroke-linecap="round"/>
<line x1="98.50" y1="616.00" x2="97.50" y2="633.40" stroke="#fde08e" stroke-width="2.65" stroke-linecap="round"/>
<line x1="94.20" y1="620.40" x2="89.20" y2="630.90" stroke="#a5daee" stroke-width="2.65" stroke-linecap="round"/>
<line x1="99.00" y1="604.90" x2="80.50" y2="627.80" stroke="#595959" stroke-width="2.65" stroke-linecap="round"/>
<line x1="99.40" y1="602.20" x2="74.30" y2="622.20" stroke="#fde08e" stroke-width="2.65" stroke-linecap="round"/>
<line x1="99.50" y1="564.20" x2="118.20" y2="526.30" stroke="#fde08e" stroke-width="2.65" stroke-linecap="round"/>
<line x1="103.60" y1="563.60" x2="125.50" y2="532.70" stroke="#fde08e" stroke-width="2.65" stroke-linecap="round"/>
<line x1="113.50" y1="563.10" x2="134.60" y2="542.00" stroke="#595959" stroke-width="2.65" stroke-linecap="round"/>
<line x1="117.00" y1="563.60" x2="139.00" y2="549.60" stroke="#a5daee" stroke-width="2.65" stroke-linecap="round"/>
<line x1="121.70" y1="564.80" x2="142.20" y2="557.50" stroke="#fde08e" stroke-width="2.65" stroke-linecap="round"/>
<line x1="124.00" y1="566.00" x2="143.30" y2="565.40" stroke="#fde08e" stroke-width="2.65" stroke-linecap="round"/>
<line x1="139.20" y1="574.70" x2="141.30" y2="576.10" stroke="#a5daee" stroke-width="2.65" stroke-linecap="round"/>
<line x1="93.70" y1="551.40" x2="88.40" y2="516.90" stroke="#595959" stroke-width="2.65" stroke-linecap="round"/>
<line x1="94.10" y1="549.00" x2="97.80" y2="517.30" stroke="#fde08e" stroke-width="2.65" stroke-linecap="round"/>
<line x1="95.20" y1="547.00" x2="105.60" y2="518.70" stroke="#595959" stroke-width="2.65" stroke-linecap="round"/>
<line x1="73.90" y1="540.30" x2="54.80" y2="530.20" stroke="#595959" stroke-width="2.65" stroke-linecap="round"/>
<line x1="73.00" y1="539.50" x2="58.10" y2="526.30" stroke="#4673b5" stroke-width="2.65" stroke-linecap="round"/>
<line x1="73.50" y1="539.00" x2="62.30" y2="523.20" stroke="#595959" stroke-width="2.65" stroke-linecap="round"/>
<line x1="73.50" y1="539.00" x2="67.30" y2="521.00" stroke="#a5daee" stroke-width="2.65" stroke-linecap="round"/>
<line x1="74.00" y1="540.00" x2="72.60" y2="520.00" stroke="#595959" stroke-width="2.65" stroke-linecap="round"/>
<path d="M90.1,569.5 L73.9,540.3" fill="none" stroke="#000" stroke-width="2.9" stroke-linecap="round" stroke-linejoin="round"/>
<path d="M90.1,569.5 Q92.5,559 93.9,549.4" fill="none" stroke="#000" stroke-width="2.9" stroke-linecap="round" stroke-linejoin="round"/>
<path d="M90.1,569.5 Q98.5,564.6 113.5,563.6 Q121,563.6 128,567.8 L139.2,574.7" fill="none" stroke="#000" stroke-width="2.9" stroke-linecap="round" stroke-linejoin="round"/>
<path d="M90.1,569.5 L88.3,575.4" fill="none" stroke="#000" stroke-width="2.9" stroke-linecap="round" stroke-linejoin="round"/>
<path d="M88.3,575.4 Q74,578.5 59.7,581.6 L48.2,584.6" fill="none" stroke="#000" stroke-width="2.9" stroke-linecap="round" stroke-linejoin="round"/>
<path d="M59.7,581.6 Q56,579 52.7,573.6" fill="none" stroke="#000" stroke-width="2.9" stroke-linecap="round" stroke-linejoin="round"/>
<path d="M88.3,575.4 L100.4,599.8 Q104,607 99.5,613 L93.3,621.8" fill="none" stroke="#000" stroke-width="2.9" stroke-linecap="round" stroke-linejoin="round"/>
<path d="M48.9,533.6 Q53.5,517.5 71.2,516" fill="none" stroke="#444" stroke-width="0.75"/>
<path d="M83.1,516.5 Q93.5,505 104.6,514" fill="none" stroke="#444" stroke-width="0.75"/>
<path d="M134.6,538.5 Q158,557 140.4,580.6" fill="none" stroke="#444" stroke-width="0.75"/>
<path d="M39.7,551.9 C14,566 14,612 50,624.5" fill="none" stroke="#444" stroke-width="0.75"/>
<path d="M66.6,627.3 Q100,666 140.2,595.8" fill="none" stroke="#444" stroke-width="0.75"/>
<defs><path id="pbnD8AE" d="M47,533.5 Q51.5,514.5 73,512.5"/></defs><text font-size="7.3" fill="#222"><textPath href="#pbnD8AE">Clade AE</textPath></text>
<defs><path id="pbnD8G" d="M85.5,516 Q98,503 113,514"/></defs><text font-size="7.3" fill="#222"><textPath href="#pbnD8G">Clade G</textPath></text>
<defs><path id="pbnD8A" d="M145.6,544.5 Q153.8,558 149.8,575"/></defs><text font-size="7.3" fill="#222"><textPath href="#pbnD8A">Clade A</textPath></text>
<defs><path id="pbnD8C" d="M25.5,611.5 Q17,598.5 23,584.5"/></defs><text font-size="7.3" fill="#222"><textPath href="#pbnD8C">Clade C</textPath></text>
<defs><path id="pbnD8B" d="M130,628 Q122,640.5 104,645.5"/></defs><text font-size="7.3" fill="#222"><textPath href="#pbnD8B">Clade B</textPath></text>
</g>
<text x="254.00" y="491.50" font-size="9.2" text-anchor="middle" font-weight="normal" fill="#231f20" >bnD.9</text>
<g transform="translate(166.8,3.8)">
<line x1="51.30" y1="572.90" x2="41.90" y2="554.30" stroke="#595959" stroke-width="2.65" stroke-linecap="round"/>
<line x1="50.70" y1="574.10" x2="35.50" y2="558.30" stroke="#4673b5" stroke-width="2.65" stroke-linecap="round"/>
<line x1="51.90" y1="575.90" x2="29.10" y2="566.50" stroke="#a5daee" stroke-width="2.65" stroke-linecap="round"/>
<line x1="53.00" y1="580.00" x2="26.20" y2="573.50" stroke="#595959" stroke-width="2.65" stroke-linecap="round"/>
<line x1="46.60" y1="584.00" x2="25.60" y2="583.10" stroke="#595959" stroke-width="2.65" stroke-linecap="round"/>
<line x1="46.60" y1="585.80" x2="25.60" y2="590.50" stroke="#a5daee" stroke-width="2.65" stroke-linecap="round"/>
<line x1="47.80" y1="586.40" x2="29.10" y2="596.90" stroke="#595959" stroke-width="2.65" stroke-linecap="round"/>
<line x1="51.90" y1="585.80" x2="34.40" y2="603.90" stroke="#4673b5" stroke-width="2.65" stroke-linecap="round"/>
<line x1="57.70" y1="584.60" x2="38.40" y2="609.20" stroke="#4673b5" stroke-width="2.65" stroke-linecap="round"/>
<line x1="59.50" y1="584.60" x2="43.10" y2="613.20" stroke="#595959" stroke-width="2.65" stroke-linecap="round"/>
<line x1="63.50" y1="584.00" x2="49.50" y2="618.50" stroke="#4673b5" stroke-width="2.65" stroke-linecap="round"/>
<line x1="67.10" y1="584.00" x2="54.80" y2="622.60" stroke="#4673b5" stroke-width="2.65" stroke-linecap="round"/>
<line x1="101.00" y1="594.70" x2="138.20" y2="594.30" stroke="#a5daee" stroke-width="2.65" stroke-linecap="round"/>
<line x1="101.00" y1="597.40" x2="136.70" y2="599.60" stroke="#fde08e" stroke-width="2.65" stroke-linecap="round"/>
<line x1="101.00" y1="600.00" x2="135.50" y2="604.20" stroke="#a5daee" stroke-width="2.65" stroke-linecap="round"/>
<line x1="101.00" y1="601.80" x2="133.20" y2="606.30" stroke="#4673b5" stroke-width="2.65" stroke-linecap="round"/>
<line x1="101.00" y1="603.00" x2="132.60" y2="611.70" stroke="#4673b5" stroke-width="2.65" stroke-linecap="round"/>
<line x1="102.20" y1="604.90" x2="129.50" y2="617.90" stroke="#a5daee" stroke-width="2.65" stroke-linecap="round"/>
<line x1="102.20" y1="606.70" x2="125.20" y2="623.50" stroke="#fde08e" stroke-width="2.65" stroke-linecap="round"/>
<line x1="102.20" y1="608.60" x2="117.10" y2="629.00" stroke="#595959" stroke-width="2.65" stroke-linecap="round"/>
<line x1="101.00" y1="612.30" x2="107.80" y2="632.80" stroke="#a5daee" stroke-width="2.65" stroke-linecap="round"/>
<line x1="98.50" y1="616.00" x2="97.50" y2="633.40" stroke="#a5daee" stroke-width="2.65" stroke-linecap="round"/>
<line x1="94.20" y1="620.40" x2="89.20" y2="630.90" stroke="#a5daee" stroke-width="2.65" stroke-linecap="round"/>
<line x1="99.00" y1="604.90" x2="80.50" y2="627.80" stroke="#595959" stroke-width="2.65" stroke-linecap="round"/>
<line x1="99.40" y1="602.20" x2="74.30" y2="622.20" stroke="#a5daee" stroke-width="2.65" stroke-linecap="round"/>
<line x1="99.50" y1="564.20" x2="118.20" y2="526.30" stroke="#4673b5" stroke-width="2.65" stroke-linecap="round"/>
<line x1="103.60" y1="563.60" x2="125.50" y2="532.70" stroke="#fde08e" stroke-width="2.65" stroke-linecap="round"/>
<line x1="113.50" y1="563.10" x2="134.60" y2="542.00" stroke="#595959" stroke-width="2.65" stroke-linecap="round"/>
<line x1="117.00" y1="563.60" x2="139.00" y2="549.60" stroke="#a5daee" stroke-width="2.65" stroke-linecap="round"/>
<line x1="121.70" y1="564.80" x2="142.20" y2="557.50" stroke="#4673b5" stroke-width="2.65" stroke-linecap="round"/>
<line x1="124.00" y1="566.00" x2="143.30" y2="565.40" stroke="#fde08e" stroke-width="2.65" stroke-linecap="round"/>
<line x1="139.20" y1="574.70" x2="141.30" y2="576.10" stroke="#a5daee" stroke-width="2.65" stroke-linecap="round"/>
<line x1="93.70" y1="551.40" x2="88.40" y2="516.90" stroke="#595959" stroke-width="2.65" stroke-linecap="round"/>
<line x1="94.10" y1="549.00" x2="97.80" y2="517.30" stroke="#a5daee" stroke-width="2.65" stroke-linecap="round"/>
<line x1="95.20" y1="547.00" x2="105.60" y2="518.70" stroke="#595959" stroke-width="2.65" stroke-linecap="round"/>
<line x1="73.90" y1="540.30" x2="54.80" y2="530.20" stroke="#595959" stroke-width="2.65" stroke-linecap="round"/>
<line x1="73.00" y1="539.50" x2="58.10" y2="526.30" stroke="#4673b5" stroke-width="2.65" stroke-linecap="round"/>
<line x1="73.50" y1="539.00" x2="62.30" y2="523.20" stroke="#595959" stroke-width="2.65" stroke-linecap="round"/>
<line x1="73.50" y1="539.00" x2="67.30" y2="521.00" stroke="#4673b5" stroke-width="2.65" stroke-linecap="round"/>
<line x1="74.00" y1="540.00" x2="72.60" y2="520.00" stroke="#4673b5" stroke-width="2.65" stroke-linecap="round"/>
<path d="M90.1,569.5 L73.9,540.3" fill="none" stroke="#000" stroke-width="2.9" stroke-linecap="round" stroke-linejoin="round"/>
<path d="M90.1,569.5 Q92.5,559 93.9,549.4" fill="none" stroke="#000" stroke-width="2.9" stroke-linecap="round" stroke-linejoin="round"/>
<path d="M90.1,569.5 Q98.5,564.6 113.5,563.6 Q121,563.6 128,567.8 L139.2,574.7" fill="none" stroke="#000" stroke-width="2.9" stroke-linecap="round" stroke-linejoin="round"/>
<path d="M90.1,569.5 L88.3,575.4" fill="none" stroke="#000" stroke-width="2.9" stroke-linecap="round" stroke-linejoin="round"/>
<g transform="translate(-2,0.5)"><path d="M88.3,575.4 Q74,578.5 59.7,581.6 L48.2,584.6" fill="none" stroke="#000" stroke-width="2.9" stroke-linecap="round" stroke-linejoin="round"/></g>
<g transform="translate(-2,0.5)"><path d="M59.7,581.6 Q56,579 52.7,573.6" fill="none" stroke="#000" stroke-width="2.9" stroke-linecap="round" stroke-linejoin="round"/></g>
<path d="M88.3,575.4 L100.4,599.8 Q104,607 99.5,613 L93.3,621.8" fill="none" stroke="#000" stroke-width="2.9" stroke-linecap="round" stroke-linejoin="round"/>
<path d="M48.9,533.6 Q53.5,517.5 71.2,516" fill="none" stroke="#444" stroke-width="0.75"/>
<path d="M83.1,516.5 Q93.5,505 104.6,514" fill="none" stroke="#444" stroke-width="0.75"/>
<path d="M134.6,538.5 Q158,557 140.4,580.6" fill="none" stroke="#444" stroke-width="0.75"/>
<path d="M41.3,552.2 C14,566 15,614 54.4,624.8" fill="none" stroke="#444" stroke-width="0.75"/>
<path d="M66.6,627.3 Q100,666 140.2,595.8" fill="none" stroke="#444" stroke-width="0.75"/>
<defs><path id="pbnD9AE" d="M47,533.5 Q51.5,514.5 73,512.5"/></defs><text font-size="7.3" fill="#222"><textPath href="#pbnD9AE">Clade AE</textPath></text>
<defs><path id="pbnD9G" d="M85.5,516 Q98,503 113,514"/></defs><text font-size="7.3" fill="#222"><textPath href="#pbnD9G">Clade G</textPath></text>
<defs><path id="pbnD9A" d="M145.6,544.5 Q153.8,558 149.8,575"/></defs><text font-size="7.3" fill="#222"><textPath href="#pbnD9A">Clade A</textPath></text>
<defs><path id="pbnD9C" d="M27.3,611.5 Q18.8,598.5 24.8,584.5"/></defs><text font-size="7.3" fill="#222"><textPath href="#pbnD9C">Clade C</textPath></text>
<defs><path id="pbnD9B" d="M130,628 Q122,640.5 104,645.5"/></defs><text font-size="7.3" fill="#222"><textPath href="#pbnD9B">Clade B</textPath></text>
</g>
<text x="76.50" y="679.00" font-size="9.2" text-anchor="middle" font-weight="normal" fill="#231f20" >bnD.4</text>
<g transform="translate(0.6,191.8)">
<line x1="51.50" y1="572.90" x2="42.10" y2="554.30" stroke="#fde08e" stroke-width="2.65" stroke-linecap="round"/>
<line x1="50.90" y1="574.10" x2="35.70" y2="558.30" stroke="#fde08e" stroke-width="2.65" stroke-linecap="round"/>
<line x1="52.10" y1="575.90" x2="29.30" y2="566.50" stroke="#4673b5" stroke-width="2.65" stroke-linecap="round"/>
<line x1="53.20" y1="580.00" x2="26.40" y2="573.50" stroke="#fde08e" stroke-width="2.65" stroke-linecap="round"/>
<line x1="46.80" y1="584.00" x2="25.80" y2="583.10" stroke="#a5daee" stroke-width="2.65" stroke-linecap="round"/>
<line x1="46.80" y1="585.80" x2="25.80" y2="590.50" stroke="#f98c55" stroke-width="2.65" stroke-linecap="round"/>
<line x1="48.00" y1="586.40" x2="29.30" y2="596.90" stroke="#a5daee" stroke-width="2.65" stroke-linecap="round"/>
<line x1="52.10" y1="585.80" x2="34.60" y2="603.90" stroke="#f98c55" stroke-width="2.65" stroke-linecap="round"/>
<line x1="57.90" y1="584.60" x2="38.60" y2="609.20" stroke="#a5daee" stroke-width="2.65" stroke-linecap="round"/>
<line x1="59.70" y1="584.60" x2="43.30" y2="613.20" stroke="#a5daee" stroke-width="2.65" stroke-linecap="round"/>
<line x1="63.70" y1="584.00" x2="49.70" y2="618.50" stroke="#f98c55" stroke-width="2.65" stroke-linecap="round"/>
<line x1="67.30" y1="584.00" x2="55.00" y2="622.60" stroke="#f98c55" stroke-width="2.65" stroke-linecap="round"/>
<line x1="101.00" y1="594.70" x2="138.20" y2="594.30" stroke="#fde08e" stroke-width="2.65" stroke-linecap="round"/>
<line x1="101.00" y1="597.40" x2="136.70" y2="599.60" stroke="#4673b5" stroke-width="2.65" stroke-linecap="round"/>
<line x1="101.00" y1="600.00" x2="135.50" y2="604.20" stroke="#fde08e" stroke-width="2.65" stroke-linecap="round"/>
<line x1="101.00" y1="601.80" x2="133.20" y2="606.30" stroke="#f98c55" stroke-width="2.65" stroke-linecap="round"/>
<line x1="101.00" y1="603.00" x2="132.60" y2="611.70" stroke="#a5daee" stroke-width="2.65" stroke-linecap="round"/>
<line x1="102.20" y1="604.90" x2="129.50" y2="617.90" stroke="#a5daee" stroke-width="2.65" stroke-linecap="round"/>
<line x1="102.20" y1="606.70" x2="125.20" y2="623.50" stroke="#fde08e" stroke-width="2.65" stroke-linecap="round"/>
<line x1="102.20" y1="608.60" x2="117.10" y2="629.00" stroke="#4673b5" stroke-width="2.65" stroke-linecap="round"/>
<line x1="101.00" y1="612.30" x2="107.80" y2="632.80" stroke="#fde08e" stroke-width="2.65" stroke-linecap="round"/>
<line x1="98.50" y1="616.00" x2="97.50" y2="633.40" stroke="#fde08e" stroke-width="2.65" stroke-linecap="round"/>
<line x1="94.20" y1="620.40" x2="89.20" y2="630.90" stroke="#a5daee" stroke-width="2.65" stroke-linecap="round"/>
<line x1="99.00" y1="604.90" x2="80.50" y2="627.80" stroke="#a5daee" stroke-width="2.65" stroke-linecap="round"/>
<line x1="99.40" y1="602.20" x2="74.30" y2="622.20" stroke="#f98c55" stroke-width="2.65" stroke-linecap="round"/>
<line x1="99.50" y1="564.20" x2="118.20" y2="526.30" stroke="#a5daee" stroke-width="2.65" stroke-linecap="round"/>
<line x1="103.60" y1="563.60" x2="125.50" y2="532.70" stroke="#fde08e" stroke-width="2.65" stroke-linecap="round"/>
<line x1="113.50" y1="563.10" x2="134.60" y2="542.00" stroke="#a5daee" stroke-width="2.65" stroke-linecap="round"/>
<line x1="117.00" y1="563.60" x2="139.00" y2="549.60" stroke="#a5daee" stroke-width="2.65" stroke-linecap="round"/>
<line x1="121.70" y1="564.80" x2="142.20" y2="557.50" stroke="#fde08e" stroke-width="2.65" stroke-linecap="round"/>
<line x1="124.00" y1="566.00" x2="143.30" y2="565.40" stroke="#fde08e" stroke-width="2.65" stroke-linecap="round"/>
<line x1="139.20" y1="574.70" x2="141.30" y2="576.10" stroke="#fde08e" stroke-width="2.65" stroke-linecap="round"/>
<line x1="93.70" y1="551.40" x2="88.40" y2="516.90" stroke="#a5daee" stroke-width="2.65" stroke-linecap="round"/>
<line x1="94.10" y1="549.00" x2="97.80" y2="517.30" stroke="#fde08e" stroke-width="2.65" stroke-linecap="round"/>
<line x1="95.20" y1="547.00" x2="105.60" y2="518.70" stroke="#a5daee" stroke-width="2.65" stroke-linecap="round"/>
<line x1="73.90" y1="540.30" x2="54.80" y2="530.20" stroke="#fde08e" stroke-width="2.65" stroke-linecap="round"/>
<line x1="73.00" y1="539.50" x2="58.10" y2="526.30" stroke="#fde08e" stroke-width="2.65" stroke-linecap="round"/>
<line x1="73.50" y1="539.00" x2="62.30" y2="523.20" stroke="#4673b5" stroke-width="2.65" stroke-linecap="round"/>
<line x1="73.50" y1="539.00" x2="67.30" y2="521.00" stroke="#fde08e" stroke-width="2.65" stroke-linecap="round"/>
<line x1="74.00" y1="540.00" x2="72.60" y2="520.00" stroke="#a5daee" stroke-width="2.65" stroke-linecap="round"/>
<path d="M90.1,569.5 L73.9,540.3" fill="none" stroke="#000" stroke-width="2.9" stroke-linecap="round" stroke-linejoin="round"/>
<path d="M90.1,569.5 Q92.5,559 93.9,549.4" fill="none" stroke="#000" stroke-width="2.9" stroke-linecap="round" stroke-linejoin="round"/>
<path d="M90.1,569.5 Q98.5,564.6 113.5,563.6 Q121,563.6 128,567.8 L139.2,574.7" fill="none" stroke="#000" stroke-width="2.9" stroke-linecap="round" stroke-linejoin="round"/>
<path d="M90.1,569.5 L88.3,575.4" fill="none" stroke="#000" stroke-width="2.9" stroke-linecap="round" stroke-linejoin="round"/>
<g transform="translate(-1.8,0.5)"><path d="M88.3,575.4 Q74,578.5 59.7,581.6 L48.2,584.6" fill="none" stroke="#000" stroke-width="2.9" stroke-linecap="round" stroke-linejoin="round"/></g>
<g transform="translate(-1.8,0.5)"><path d="M59.7,581.6 Q56,579 52.7,573.6" fill="none" stroke="#000" stroke-width="2.9" stroke-linecap="round" stroke-linejoin="round"/></g>
<path d="M88.3,575.4 L100.4,599.8 Q104,607 99.5,613 L93.3,621.8" fill="none" stroke="#000" stroke-width="2.9" stroke-linecap="round" stroke-linejoin="round"/>
<path d="M48.9,533.6 Q53.5,517.5 71.2,516" fill="none" stroke="#444" stroke-width="0.75"/>
<path d="M83.1,516.5 Q93.5,505 104.6,514" fill="none" stroke="#444" stroke-width="0.75"/>
<path d="M134.6,538.5 Q158,557 140.4,580.6" fill="none" stroke="#444" stroke-width="0.75"/>
<path d="M41.5,550.7 C13,566 14,611 51,623" fill="none" stroke="#444" stroke-width="0.75"/>
<path d="M66.6,627.3 Q100,660 140.2,595.8" fill="none" stroke="#444" stroke-width="0.75"/>
<defs><path id="pbnD4AE" d="M47,533.5 Q51.5,514.5 73,512.5"/></defs><text font-size="7.3" fill="#222"><textPath href="#pbnD4AE">Clade AE</textPath></text>
<defs><path id="pbnD4G" d="M85.5,516 Q98,503 113,514"/></defs><text font-size="7.3" fill="#222"><textPath href="#pbnD4G">Clade G</textPath></text>
<defs><path id="pbnD4A" d="M145.6,544.5 Q153.8,558 149.8,575"/></defs><text font-size="7.3" fill="#222"><textPath href="#pbnD4A">Clade A</textPath></text>
<defs><path id="pbnD4C" d="M25.5,609.5 Q17,596.5 23,582.5"/></defs><text font-size="7.3" fill="#222"><textPath href="#pbnD4C">Clade C</textPath></text>
<defs><path id="pbnD4B" d="M130,624 Q122,636.5 104,641.5"/></defs><text font-size="7.3" fill="#222"><textPath href="#pbnD4B">Clade B</textPath></text>
</g>
<text x="-0.40" y="487.50" font-size="13" text-anchor="start" font-weight="bold" fill="#000" >d</text>
<rect x="234.8" y="688" width="11.9" height="17.80" fill="#d7302b"/>
<rect x="234.8" y="705.8" width="11.9" height="18.20" fill="#f98c55"/>
<rect x="234.8" y="724" width="11.9" height="17.80" fill="#fde08e"/>
<rect x="234.8" y="741.8" width="11.9" height="18.20" fill="#a5daee"/>
<rect x="234.8" y="760" width="11.9" height="17.70" fill="#4673b5"/>
<rect x="234.8" y="782.2" width="11.7" height="19.5" fill="#595959"/>
<text x="250.80" y="699.60" font-size="8.8" text-anchor="start" font-weight="normal" fill="#231f20" >&lt;0.001</text>
<text x="250.80" y="716.90" font-size="8.8" text-anchor="start" font-weight="normal" fill="#231f20" >&lt;0.01</text>
<text x="250.80" y="736.50" font-size="8.8" text-anchor="start" font-weight="normal" fill="#231f20" >&lt;0.1</text>
<text x="250.80" y="754.30" font-size="8.8" text-anchor="start" font-weight="normal" fill="#231f20" >&lt;1</text>
<text x="250.80" y="772.10" font-size="8.8" text-anchor="start" font-weight="normal" fill="#231f20" >&lt;10</text>
<text x="250.80" y="795.30" font-size="8.8" text-anchor="start" font-weight="normal" fill="#231f20" >&gt;10</text>
<text x="211.6" y="741" font-size="8.8" fill="#231f20">IC<tspan font-size="6" dy="2">50</tspan></text>
<text x="211.30" y="750.70" font-size="8.8" text-anchor="start" font-weight="normal" fill="#231f20" >(μM)</text>
<text x="355.60" y="486.80" font-size="13" text-anchor="start" font-weight="bold" fill="#000" >e</text>
<line x1="406.5" y1="483.50" x2="592.4" y2="483.50" stroke="#111" stroke-width="1.35"/>
<line x1="435.5" y1="492.50" x2="592.4" y2="492.50" stroke="#111" stroke-width="1.35"/>
<line x1="466.5" y1="501.50" x2="592.4" y2="501.50" stroke="#111" stroke-width="1.35"/>
<line x1="466.5" y1="510.50" x2="592.4" y2="510.50" stroke="#111" stroke-width="1.35"/>
<line x1="466.5" y1="500.83" x2="466.5" y2="511.17" stroke="#111" stroke-width="1.35"/>
<line x1="435.5" y1="506.50" x2="466.5" y2="506.50" stroke="#111" stroke-width="1.35"/>
<line x1="435.5" y1="491.83" x2="435.5" y2="507.17" stroke="#111" stroke-width="1.35"/>
<line x1="406.5" y1="499.50" x2="435.5" y2="499.50" stroke="#111" stroke-width="1.35"/>
<line x1="406.5" y1="482.83" x2="406.5" y2="500.17" stroke="#111" stroke-width="1.35"/>
<line x1="357.5" y1="491.50" x2="406.5" y2="491.50" stroke="#111" stroke-width="1.35"/>
<line x1="397.5" y1="519.50" x2="592.4" y2="519.50" stroke="#111" stroke-width="1.35"/>
<line x1="418.5" y1="528.50" x2="592.4" y2="528.50" stroke="#111" stroke-width="1.35"/>
<line x1="472.5" y1="537.50" x2="592.4" y2="537.50" stroke="#d48a26" stroke-width="1.35"/>
<line x1="511.5" y1="546.50" x2="592.4" y2="546.50" stroke="#d48a26" stroke-width="1.35"/>
<line x1="534.5" y1="556.50" x2="592.4" y2="556.50" stroke="#d48a26" stroke-width="1.35"/>
<line x1="534.5" y1="565.50" x2="592.4" y2="565.50" stroke="#d48a26" stroke-width="1.35"/>
<line x1="534.5" y1="555.83" x2="534.5" y2="566.17" stroke="#d48a26" stroke-width="1.35"/>
<line x1="511.5" y1="561.50" x2="534.5" y2="561.50" stroke="#d48a26" stroke-width="1.35"/>
<line x1="511.5" y1="545.83" x2="511.5" y2="562.17" stroke="#d48a26" stroke-width="1.35"/>
<line x1="472.5" y1="554.50" x2="511.5" y2="554.50" stroke="#d48a26" stroke-width="1.35"/>
<line x1="472.5" y1="536.83" x2="472.5" y2="555.17" stroke="#d48a26" stroke-width="1.35"/>
<line x1="439.5" y1="546.50" x2="472.5" y2="546.50" stroke="#111" stroke-width="1.35"/>
<line x1="444.5" y1="574.50" x2="592.4" y2="574.50" stroke="#4a7bd0" stroke-width="1.35"/>
<line x1="529.5" y1="583.50" x2="592.4" y2="583.50" stroke="#4a7bd0" stroke-width="1.35"/>
<line x1="548.5" y1="592.50" x2="592.4" y2="592.50" stroke="#4a7bd0" stroke-width="1.35"/>
<line x1="565.5" y1="601.50" x2="592.4" y2="601.50" stroke="#4a7bd0" stroke-width="1.35"/>
<line x1="586.5" y1="610.50" x2="592.4" y2="610.50" stroke="#4a7bd0" stroke-width="1.35"/>
<line x1="586.5" y1="619.50" x2="592.4" y2="619.50" stroke="#4a7bd0" stroke-width="1.35"/>
<line x1="586.5" y1="609.83" x2="586.5" y2="620.17" stroke="#4a7bd0" stroke-width="1.35"/>
<line x1="565.5" y1="615.50" x2="586.5" y2="615.50" stroke="#4a7bd0" stroke-width="1.35"/>
<line x1="565.5" y1="600.83" x2="565.5" y2="616.17" stroke="#4a7bd0" stroke-width="1.35"/>
<line x1="548.5" y1="608.50" x2="565.5" y2="608.50" stroke="#4a7bd0" stroke-width="1.35"/>
<line x1="548.5" y1="591.83" x2="548.5" y2="609.17" stroke="#4a7bd0" stroke-width="1.35"/>
<line x1="529.5" y1="600.50" x2="548.5" y2="600.50" stroke="#4a7bd0" stroke-width="1.35"/>
<line x1="529.5" y1="582.83" x2="529.5" y2="601.17" stroke="#4a7bd0" stroke-width="1.35"/>
<line x1="505.5" y1="592.50" x2="529.5" y2="592.50" stroke="#4a7bd0" stroke-width="1.35"/>
<line x1="524.5" y1="629.50" x2="592.4" y2="629.50" stroke="#4a7bd0" stroke-width="1.35"/>
<line x1="524.5" y1="638.50" x2="592.4" y2="638.50" stroke="#4a7bd0" stroke-width="1.35"/>
<line x1="524.5" y1="628.83" x2="524.5" y2="639.17" stroke="#4a7bd0" stroke-width="1.35"/>
<line x1="505.5" y1="634.50" x2="524.5" y2="634.50" stroke="#4a7bd0" stroke-width="1.35"/>
<line x1="505.5" y1="591.83" x2="505.5" y2="635.17" stroke="#4a7bd0" stroke-width="1.35"/>
<line x1="444.5" y1="613.50" x2="505.5" y2="613.50" stroke="#4a7bd0" stroke-width="1.35"/>
<line x1="444.5" y1="573.83" x2="444.5" y2="614.17" stroke="#4a7bd0" stroke-width="1.35"/>
<line x1="439.5" y1="594.50" x2="444.5" y2="594.50" stroke="#111" stroke-width="1.35"/>
<line x1="439.5" y1="545.83" x2="439.5" y2="595.17" stroke="#111" stroke-width="1.35"/>
<line x1="418.5" y1="570.50" x2="439.5" y2="570.50" stroke="#111" stroke-width="1.35"/>
<line x1="418.5" y1="527.83" x2="418.5" y2="571.17" stroke="#111" stroke-width="1.35"/>
<line x1="397.5" y1="549.50" x2="418.5" y2="549.50" stroke="#111" stroke-width="1.35"/>
<line x1="397.5" y1="518.83" x2="397.5" y2="550.17" stroke="#111" stroke-width="1.35"/>
<line x1="371.5" y1="534.50" x2="397.5" y2="534.50" stroke="#111" stroke-width="1.35"/>
<line x1="524.5" y1="647.50" x2="592.4" y2="647.50" stroke="#111" stroke-width="1.35"/>
<line x1="539.5" y1="656.50" x2="592.4" y2="656.50" stroke="#111" stroke-width="1.35"/>
<line x1="539.5" y1="665.50" x2="592.4" y2="665.50" stroke="#111" stroke-width="1.35"/>
<line x1="539.5" y1="655.83" x2="539.5" y2="666.17" stroke="#111" stroke-width="1.35"/>
<line x1="524.5" y1="661.50" x2="539.5" y2="661.50" stroke="#111" stroke-width="1.35"/>
<line x1="524.5" y1="646.83" x2="524.5" y2="662.17" stroke="#111" stroke-width="1.35"/>
<line x1="487.5" y1="654.50" x2="524.5" y2="654.50" stroke="#111" stroke-width="1.35"/>
<line x1="520.5" y1="674.50" x2="592.4" y2="674.50" stroke="#111" stroke-width="1.35"/>
<line x1="520.5" y1="683.50" x2="592.4" y2="683.50" stroke="#111" stroke-width="1.35"/>
<line x1="520.5" y1="673.83" x2="520.5" y2="684.17" stroke="#111" stroke-width="1.35"/>
<line x1="487.5" y1="679.50" x2="520.5" y2="679.50" stroke="#111" stroke-width="1.35"/>
<line x1="487.5" y1="653.83" x2="487.5" y2="680.17" stroke="#111" stroke-width="1.35"/>
<line x1="406.5" y1="667.50" x2="487.5" y2="667.50" stroke="#111" stroke-width="1.35"/>
<line x1="439.5" y1="692.50" x2="592.4" y2="692.50" stroke="#111" stroke-width="1.35"/>
<line x1="460.5" y1="701.50" x2="592.4" y2="701.50" stroke="#111" stroke-width="1.35"/>
<line x1="566.5" y1="711.50" x2="592.4" y2="711.50" stroke="#111" stroke-width="1.35"/>
<line x1="566.5" y1="720.50" x2="592.4" y2="720.50" stroke="#111" stroke-width="1.35"/>
<line x1="566.5" y1="710.83" x2="566.5" y2="721.17" stroke="#111" stroke-width="1.35"/>
<line x1="503.5" y1="716.50" x2="566.5" y2="716.50" stroke="#111" stroke-width="1.35"/>
<line x1="523.5" y1="729.50" x2="592.4" y2="729.50" stroke="#111" stroke-width="1.35"/>
<line x1="523.5" y1="738.50" x2="592.4" y2="738.50" stroke="#111" stroke-width="1.35"/>
<line x1="523.5" y1="728.83" x2="523.5" y2="739.17" stroke="#111" stroke-width="1.35"/>
<line x1="503.5" y1="734.50" x2="523.5" y2="734.50" stroke="#111" stroke-width="1.35"/>
<line x1="503.5" y1="715.83" x2="503.5" y2="735.17" stroke="#111" stroke-width="1.35"/>
<line x1="460.5" y1="725.50" x2="503.5" y2="725.50" stroke="#111" stroke-width="1.35"/>
<line x1="460.5" y1="700.83" x2="460.5" y2="726.17" stroke="#111" stroke-width="1.35"/>
<line x1="439.5" y1="713.50" x2="460.5" y2="713.50" stroke="#111" stroke-width="1.35"/>
<line x1="439.5" y1="691.83" x2="439.5" y2="714.17" stroke="#111" stroke-width="1.35"/>
<line x1="406.5" y1="703.50" x2="439.5" y2="703.50" stroke="#111" stroke-width="1.35"/>
<line x1="406.5" y1="666.83" x2="406.5" y2="704.17" stroke="#111" stroke-width="1.35"/>
<line x1="378.5" y1="685.50" x2="406.5" y2="685.50" stroke="#111" stroke-width="1.35"/>
<line x1="540.5" y1="747.50" x2="592.4" y2="747.50" stroke="#111" stroke-width="1.35"/>
<line x1="540.5" y1="756.50" x2="592.4" y2="756.50" stroke="#111" stroke-width="1.35"/>
<line x1="540.5" y1="746.83" x2="540.5" y2="757.17" stroke="#111" stroke-width="1.35"/>
<line x1="402.5" y1="752.50" x2="540.5" y2="752.50" stroke="#111" stroke-width="1.35"/>
<line x1="495.5" y1="765.50" x2="592.4" y2="765.50" stroke="#111" stroke-width="1.35"/>
<line x1="531.5" y1="774.50" x2="592.4" y2="774.50" stroke="#111" stroke-width="1.35"/>
<line x1="554.5" y1="784.50" x2="592.4" y2="784.50" stroke="#111" stroke-width="1.35"/>
<line x1="554.5" y1="793.50" x2="592.4" y2="793.50" stroke="#111" stroke-width="1.35"/>
<line x1="554.5" y1="783.83" x2="554.5" y2="794.17" stroke="#111" stroke-width="1.35"/>
<line x1="531.5" y1="789.50" x2="554.5" y2="789.50" stroke="#111" stroke-width="1.35"/>
<line x1="531.5" y1="773.83" x2="531.5" y2="790.17" stroke="#111" stroke-width="1.35"/>
<line x1="495.5" y1="782.50" x2="531.5" y2="782.50" stroke="#111" stroke-width="1.35"/>
<line x1="495.5" y1="764.83" x2="495.5" y2="783.17" stroke="#111" stroke-width="1.35"/>
<line x1="425.5" y1="774.50" x2="495.5" y2="774.50" stroke="#111" stroke-width="1.35"/>
<line x1="436.5" y1="802.50" x2="592.4" y2="802.50" stroke="#111" stroke-width="1.35"/>
<line x1="476.5" y1="811.50" x2="592.4" y2="811.50" stroke="#111" stroke-width="1.35"/>
<line x1="476.5" y1="820.50" x2="592.4" y2="820.50" stroke="#111" stroke-width="1.35"/>
<line x1="476.5" y1="810.83" x2="476.5" y2="821.17" stroke="#111" stroke-width="1.35"/>
<line x1="436.5" y1="816.50" x2="476.5" y2="816.50" stroke="#111" stroke-width="1.35"/>
<line x1="436.5" y1="801.83" x2="436.5" y2="817.17" stroke="#111" stroke-width="1.35"/>
<line x1="425.5" y1="809.50" x2="436.5" y2="809.50" stroke="#111" stroke-width="1.35"/>
<line x1="425.5" y1="773.83" x2="425.5" y2="810.17" stroke="#111" stroke-width="1.35"/>
<line x1="402.5" y1="792.50" x2="425.5" y2="792.50" stroke="#111" stroke-width="1.35"/>
<line x1="402.5" y1="751.83" x2="402.5" y2="793.17" stroke="#111" stroke-width="1.35"/>
<line x1="378.5" y1="772.50" x2="402.5" y2="772.50" stroke="#111" stroke-width="1.35"/>
<line x1="378.5" y1="684.83" x2="378.5" y2="773.17" stroke="#111" stroke-width="1.35"/>
<line x1="371.5" y1="729.50" x2="378.5" y2="729.50" stroke="#111" stroke-width="1.35"/>
<line x1="371.5" y1="533.83" x2="371.5" y2="730.17" stroke="#111" stroke-width="1.35"/>
<line x1="357.5" y1="632.50" x2="371.5" y2="632.50" stroke="#111" stroke-width="1.35"/>
<line x1="357.5" y1="490.83" x2="357.5" y2="633.17" stroke="#111" stroke-width="1.35"/>
<line x1="355" y1="562.50" x2="357.5" y2="562.50" stroke="#111" stroke-width="1.35"/>
<text x="596.70" y="487.55" font-size="8.4" text-anchor="start" font-weight="normal" fill="#231f20" >HJ16</text>
<text x="596.70" y="496.43" font-size="8.4" text-anchor="start" font-weight="normal" fill="#231f20" >b6</text>
<text x="596.70" y="505.32" font-size="8.4" text-anchor="start" font-weight="normal" fill="#231f20" >b12</text>
<text x="596.70" y="514.20" font-size="8.4" text-anchor="start" font-weight="normal" fill="#231f20" >447-52D</text>
<text x="596.70" y="523.08" font-size="8.4" text-anchor="start" font-weight="normal" fill="#231f20" >VRC26.09</text>
<text x="596.70" y="531.96" font-size="8.4" text-anchor="start" font-weight="normal" fill="#231f20" >PGT151</text>
<text x="596.70" y="540.85" font-size="8.4" text-anchor="start" font-weight="normal" fill="#d48a26" >bnD.4</text>
<text x="596.70" y="549.73" font-size="8.4" text-anchor="start" font-weight="normal" fill="#d48a26" >bnD.2</text>
<text x="596.70" y="558.61" font-size="8.4" text-anchor="start" font-weight="normal" fill="#d48a26" >bnD.1</text>
<text x="596.70" y="567.50" font-size="8.4" text-anchor="start" font-weight="normal" fill="#d48a26" >bnD.3</text>
<text x="596.70" y="576.38" font-size="8.4" text-anchor="start" font-weight="normal" fill="#4a7bd0" >bnD.10</text>
<text x="596.70" y="585.26" font-size="8.4" text-anchor="start" font-weight="normal" fill="#4a7bd0" >bnD.12</text>
<text x="596.70" y="594.15" font-size="8.4" text-anchor="start" font-weight="normal" fill="#4a7bd0" >bnD.15</text>
<text x="596.70" y="603.03" font-size="8.4" text-anchor="start" font-weight="normal" fill="#4a7bd0" >bnD.8</text>
<text x="596.70" y="611.91" font-size="8.4" text-anchor="start" font-weight="normal" fill="#4a7bd0" >bnD.9</text>
<text x="596.70" y="620.79" font-size="8.4" text-anchor="start" font-weight="normal" fill="#4a7bd0" >bnD.13</text>
<text x="596.70" y="629.68" font-size="8.4" text-anchor="start" font-weight="normal" fill="#4a7bd0" >bnD.11</text>
<text x="596.70" y="638.56" font-size="8.4" text-anchor="start" font-weight="normal" fill="#4a7bd0" >bnD.14</text>
<text x="596.70" y="647.44" font-size="8.4" text-anchor="start" font-weight="normal" fill="#231f20" >3BNC117</text>
<text x="596.70" y="656.80" font-size="8.4" text-anchor="start" font-weight="normal" fill="#231f20" >VRC01</text>
<text x="596.70" y="666.14" font-size="8.4" text-anchor="start" font-weight="normal" fill="#231f20" >PGV04</text>
<text x="596.70" y="675.49" font-size="8.4" text-anchor="start" font-weight="normal" fill="#231f20" >N6</text>
<text x="596.70" y="684.84" font-size="8.4" text-anchor="start" font-weight="normal" fill="#231f20" >N49.P7</text>
<text x="596.70" y="694.18" font-size="8.4" text-anchor="start" font-weight="normal" fill="#231f20" >2G12</text>
<text x="596.70" y="703.53" font-size="8.4" text-anchor="start" font-weight="normal" fill="#231f20" >PGT135</text>
<text x="596.70" y="712.88" font-size="8.4" text-anchor="start" font-weight="normal" fill="#231f20" >10-1074</text>
<text x="596.70" y="722.23" font-size="8.4" text-anchor="start" font-weight="normal" fill="#231f20" >PGT121</text>
<text x="596.70" y="731.57" font-size="8.4" text-anchor="start" font-weight="normal" fill="#231f20" >VRC41.01</text>
<text x="596.70" y="740.92" font-size="8.4" text-anchor="start" font-weight="normal" fill="#231f20" >PGT128</text>
<text x="596.70" y="750.27" font-size="8.4" text-anchor="start" font-weight="normal" fill="#231f20" >4E10</text>
<text x="596.70" y="759.61" font-size="8.4" text-anchor="start" font-weight="normal" fill="#231f20" >10E8</text>
<text x="596.70" y="768.96" font-size="8.4" text-anchor="start" font-weight="normal" fill="#231f20" >PGT145</text>
<text x="596.70" y="778.31" font-size="8.4" text-anchor="start" font-weight="normal" fill="#231f20" >PGDM1400</text>
<text x="596.70" y="787.65" font-size="8.4" text-anchor="start" font-weight="normal" fill="#231f20" >PG9</text>
<text x="596.70" y="797.00" font-size="8.4" text-anchor="start" font-weight="normal" fill="#231f20" >PG16</text>
<text x="596.70" y="806.35" font-size="8.4" text-anchor="start" font-weight="normal" fill="#231f20" >8ANC195</text>
<text x="596.70" y="815.70" font-size="8.4" text-anchor="start" font-weight="normal" fill="#231f20" >SF12</text>
<text x="596.70" y="825.04" font-size="8.4" text-anchor="start" font-weight="normal" fill="#231f20" >2F5</text>
<line x1="632.20" y1="534.40" x2="632.20" y2="566.20" stroke="#d48a26" stroke-width="1.4" />
<text x="636.40" y="549.40" font-size="8.9" text-anchor="start" font-weight="normal" fill="#d48a26" >V3 crown-</text>
<text x="636.40" y="558.00" font-size="8.9" text-anchor="start" font-weight="normal" fill="#d48a26" >specific</text>
<line x1="632.20" y1="571.80" x2="632.20" y2="640.40" stroke="#4a7bd0" stroke-width="1.4" />
<text x="636.40" y="607.40" font-size="8.9" text-anchor="start" font-weight="normal" fill="#4a7bd0" >V3 stem-</text>
<text x="636.40" y="616.80" font-size="8.9" text-anchor="start" font-weight="normal" fill="#4a7bd0" >dependent</text>
<line x1="460.30" y1="828.80" x2="487.70" y2="828.80" stroke="#111" stroke-width="1.1" />
<text x="456.40" y="838.30" font-size="8.7" text-anchor="start" font-weight="normal" fill="#231f20" >0.03</text>
<text x="489.20" y="838.30" font-size="8.7" text-anchor="start" font-weight="normal" fill="#231f20" >(1 – Spearman)/2</text>
</svg>
</body></html>
